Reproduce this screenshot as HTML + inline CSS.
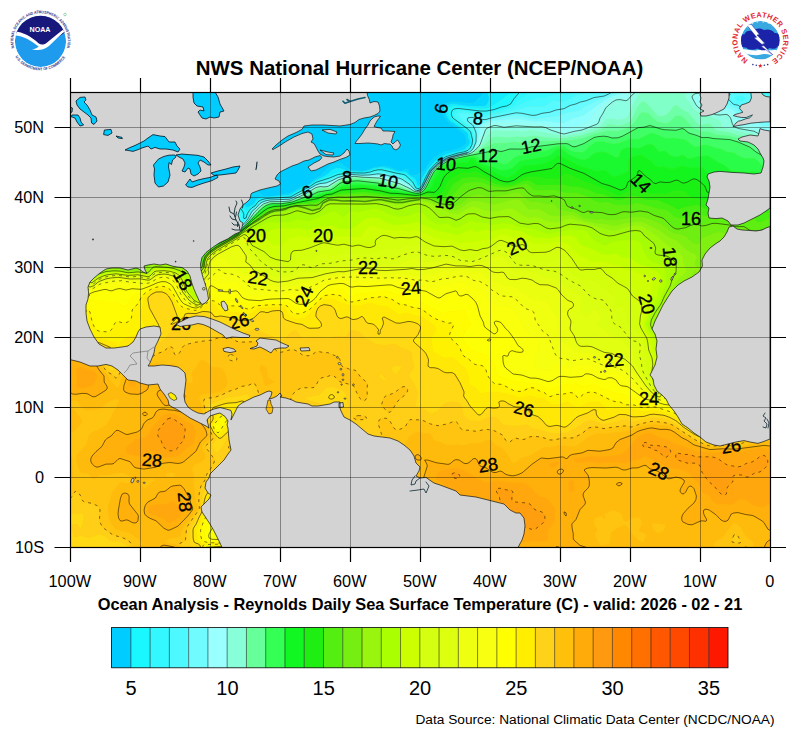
<!DOCTYPE html>
<html><head><meta charset="utf-8"><title>NHC SST</title>
<style>html,body{margin:0;padding:0;background:#fff}svg{display:block}text{font-family:"Liberation Sans",sans-serif;fill:#000}</style></head>
<body>
<svg width="800" height="737" viewBox="0 0 800 737">
<rect width="800" height="737" fill="#fff"/>
<defs><clipPath id="mc"><rect x="70" y="92" width="700" height="455"/></clipPath></defs>
<g clip-path="url(#mc)">
<rect x="70" y="92" width="700" height="455" fill="#ffc00c"/>
<path d="M68.0 88.0L439.4 88.0L439.1 92.0L440.0 92.6L450.0 93.2L458.0 92.2L458.8 88.0L484.2 88.0L483.5 92.0L481.5 96.0L475.2 102.0L472.0 103.8L454.0 101.9L444.0 103.5L440.3 106.0L440.4 110.0L446.0 120.0L464.7 134.0L467.1 142.0L465.8 144.0L462.0 147.4L453.6 150.0L444.0 152.0L433.7 158.0L430.0 161.4L424.9 170.0L422.0 172.5L416.0 175.0L412.0 175.5L409.2 174.0L408.0 169.2L406.0 169.1L402.0 171.0L398.0 170.9L390.0 167.3L384.0 165.9L374.0 167.4L367.3 170.0L362.0 171.1L352.0 170.3L349.9 170.0L342.0 164.1L338.0 162.8L334.0 163.9L330.0 166.1L320.4 176.0L314.0 179.2L310.0 183.9L302.0 186.5L290.0 193.3L284.0 193.9L275.6 196.0L268.0 196.6L262.9 196.0L256.0 190.0L254.0 189.2L250.0 189.8L244.0 193.0L242.0 193.3L240.0 192.0L229.1 176.0L214.0 150.5L212.0 148.7L206.0 147.2L200.0 143.6L198.0 143.4L194.0 145.1L192.0 145.1L188.0 135.7L186.0 135.4L181.1 140.0L176.3 148.0L156.0 176.7L150.1 176.0L148.0 174.6L144.6 174.0L142.0 172.3L140.1 172.0L138.0 170.5L128.4 168.0L124.0 164.4L114.6 160.0L110.0 156.4L92.7 148.0L86.0 143.2L76.0 138.2L72.0 134.9L66.0 132.5L66.0 88.0Z" fill="#00ccff" stroke="#00ccff" stroke-width="0.6" fill-rule="evenodd"/>
<path d="M440.0 88.0L443.9 88.0L444.3 90.0L448.0 90.6L454.0 90.1L455.1 88.0L458.8 88.0L458.8 90.0L458.2 92.0L456.0 92.9L442.0 92.9L439.1 92.0L439.4 88.0ZM486.0 88.0L487.0 88.0L487.0 92.0L489.1 96.0L489.1 100.0L487.5 104.0L485.6 106.0L484.0 106.5L468.0 106.3L452.0 104.1L445.4 106.0L444.2 108.0L444.4 110.0L447.8 118.0L450.0 120.4L466.9 132.0L468.2 134.0L468.6 138.0L470.0 140.6L469.7 144.0L464.0 150.0L446.0 154.5L436.0 160.4L428.8 168.0L422.4 178.0L420.0 185.1L418.5 186.0L417.8 186.0L415.7 180.0L413.9 178.0L410.0 176.1L406.0 171.9L398.0 171.8L390.0 168.9L382.0 167.3L374.0 168.6L368.0 170.9L362.0 172.1L348.0 171.0L340.0 168.6L336.0 168.6L332.0 170.3L325.4 176.0L316.0 180.3L310.0 184.8L296.0 191.6L290.0 195.3L260.0 197.8L256.3 200.0L254.0 204.1L248.0 207.5L246.0 207.1L244.0 204.4L240.9 198.0L226.1 176.0L212.8 154.0L212.0 153.2L198.0 147.9L190.0 151.7L188.0 149.9L186.0 139.8L184.0 139.2L182.0 140.5L177.2 148.0L159.7 172.0L158.0 175.2L156.0 177.5L154.0 177.4L144.0 174.1L142.0 172.6L138.0 171.1L127.7 168.0L124.0 164.8L113.8 160.0L110.0 156.8L91.9 148.0L88.0 144.8L78.2 140.0L70.0 134.5L66.0 133.0L66.0 132.5L68.0 133.1L68.9 134.0L72.0 134.9L76.0 138.2L86.0 143.2L92.7 148.0L108.0 155.3L114.6 160.0L124.0 164.4L128.4 168.0L138.0 170.5L144.6 174.0L154.0 176.7L156.0 176.7L158.0 174.6L158.8 172.0L162.5 168.0L163.1 166.0L176.3 148.0L181.1 140.0L186.0 135.4L188.0 135.7L192.0 145.1L194.0 145.1L198.0 143.4L200.0 143.6L206.0 147.2L212.0 148.7L214.0 150.5L229.1 176.0L240.0 192.0L242.0 193.3L244.0 193.0L250.0 189.8L254.0 189.2L256.0 190.0L262.9 196.0L268.0 196.6L275.6 196.0L284.0 193.9L290.0 193.3L302.0 186.5L310.0 183.9L314.0 179.2L320.4 176.0L330.0 166.1L334.0 163.9L338.0 162.8L342.0 164.1L349.9 170.0L352.0 170.3L362.0 171.1L367.3 170.0L374.0 167.4L384.0 165.9L390.0 167.3L398.0 170.9L402.0 171.0L406.0 169.1L408.0 169.2L409.2 174.0L412.0 175.5L416.0 175.0L422.0 172.5L424.9 170.0L430.0 161.4L433.7 158.0L444.0 152.0L453.6 150.0L462.0 147.4L465.8 144.0L467.1 142.0L464.7 134.0L446.0 120.0L440.4 110.0L440.3 106.0L444.0 103.5L454.0 101.9L472.0 103.8L475.2 102.0L481.5 96.0L483.5 92.0L484.2 88.0ZM492.0 88.0L502.3 88.0L500.0 91.7L496.0 93.6L494.0 93.7L491.4 92.0L490.5 88.0Z" fill="#06d7ff" stroke="#06d7ff" stroke-width="0.6" fill-rule="evenodd"/>
<path d="M444.0 88.0L455.1 88.0L454.4 90.0L448.0 90.6L444.3 90.0L443.9 88.0ZM488.0 88.0L490.5 88.0L491.4 92.0L494.0 93.7L496.0 93.6L500.0 91.7L502.3 88.0L505.6 88.0L506.0 89.5L509.8 92.0L509.4 94.0L494.0 105.2L486.0 109.1L468.0 108.2L456.0 106.4L452.0 106.5L448.5 108.0L447.7 110.0L448.0 112.0L450.5 118.0L469.1 132.0L471.5 140.0L471.6 142.0L470.3 146.0L466.0 150.4L448.0 155.2L444.0 156.9L436.0 162.2L428.8 170.0L422.0 184.0L420.0 186.9L418.0 188.0L416.0 186.3L415.3 184.0L412.5 180.0L406.0 174.1L404.0 173.1L398.0 172.6L384.0 168.9L378.0 168.7L367.6 172.0L362.0 172.7L352.0 172.2L338.0 172.8L316.0 181.4L310.0 185.6L290.0 196.4L270.0 197.7L260.0 199.3L258.0 200.6L254.0 205.7L252.0 206.6L246.0 211.7L233.0 192.0L218.9 168.0L212.0 158.5L198.0 152.9L194.0 153.4L188.0 156.4L186.0 156.1L184.0 153.2L182.0 144.7L180.0 145.8L171.5 156.0L158.0 175.8L156.0 178.1L154.0 178.0L144.0 174.2L142.0 172.8L127.4 168.0L124.0 165.2L113.4 160.0L106.0 154.9L91.5 148.0L88.0 145.2L77.7 140.0L70.0 134.8L66.0 133.6L66.0 133.0L70.0 134.5L74.0 136.7L78.2 140.0L88.0 144.8L91.9 148.0L106.0 154.6L110.0 156.8L113.8 160.0L124.0 164.8L127.7 168.0L138.0 171.1L142.0 172.6L144.0 174.1L154.0 177.4L156.0 177.5L158.0 175.2L159.7 172.0L177.2 148.0L182.0 140.5L184.0 139.2L186.0 139.8L188.0 149.9L190.0 151.7L198.0 147.9L212.0 153.2L212.8 154.0L226.1 176.0L240.9 198.0L244.0 204.4L246.0 207.1L248.0 207.5L254.0 204.1L256.3 200.0L260.0 197.8L290.0 195.3L296.0 191.6L310.0 184.8L316.0 180.3L325.4 176.0L332.0 170.3L336.0 168.6L340.0 168.6L348.0 171.0L362.0 172.1L368.0 170.9L374.0 168.6L382.0 167.3L390.0 168.9L398.0 171.8L406.0 171.9L410.0 176.1L413.9 178.0L415.7 180.0L417.8 186.0L418.5 186.0L420.0 185.1L422.4 178.0L428.8 168.0L436.0 160.4L446.0 154.5L464.0 150.0L469.7 144.0L470.0 140.6L468.6 138.0L468.2 134.0L466.9 132.0L450.0 120.4L447.8 118.0L444.4 110.0L444.2 108.0L445.4 106.0L452.0 104.1L468.0 106.3L484.0 106.5L485.6 106.0L487.5 104.0L489.1 100.0L489.1 96.0L487.0 92.0L487.0 88.0Z" fill="#14edff" stroke="#14edff" stroke-width="0.6" fill-rule="evenodd"/>
<path d="M506.0 88.0L522.5 88.0L521.5 90.0L514.0 98.7L510.6 104.0L508.0 105.5L494.0 109.6L486.0 111.1L458.0 108.4L454.0 109.0L452.5 110.0L451.3 114.0L452.8 118.0L468.0 129.2L470.6 132.0L472.6 140.0L472.0 144.5L470.3 148.0L468.0 150.3L464.0 151.9L458.0 153.0L446.0 156.7L436.0 163.0L429.6 170.0L422.0 185.4L420.0 188.0L418.0 188.6L415.9 188.0L412.7 182.0L404.0 174.5L382.0 169.8L378.0 169.8L364.0 173.1L350.0 172.7L338.0 174.5L329.5 178.0L316.0 182.3L310.6 186.0L290.0 197.1L268.0 198.4L260.0 200.4L258.0 201.9L254.9 206.0L249.7 210.0L247.2 214.0L246.1 218.0L244.0 218.6L243.8 214.0L243.0 212.0L230.0 192.6L226.0 184.0L216.0 168.5L212.0 164.0L208.0 163.3L198.0 157.3L194.0 156.7L186.0 161.0L184.0 161.0L182.0 159.4L178.0 152.2L176.0 152.6L172.0 156.4L156.7 178.0L154.0 178.2L142.0 173.1L127.0 168.0L120.0 163.2L113.1 160.0L106.0 155.2L91.2 148.0L70.0 135.0L66.0 134.0L66.0 133.6L70.0 134.8L77.7 140.0L88.0 145.2L91.5 148.0L106.0 154.9L113.4 160.0L124.0 165.2L127.4 168.0L142.0 172.8L144.0 174.2L154.0 178.0L156.0 178.1L158.0 175.8L171.5 156.0L180.0 145.8L182.0 144.7L184.0 153.2L186.0 156.1L188.0 156.4L194.0 153.4L198.0 152.9L212.0 158.5L218.9 168.0L233.0 192.0L246.0 211.7L252.0 206.6L254.0 205.7L258.0 200.6L260.0 199.3L270.0 197.7L290.0 196.4L310.0 185.6L316.0 181.4L338.0 172.8L352.0 172.2L362.0 172.7L367.6 172.0L378.0 168.7L384.0 168.9L398.0 172.6L404.0 173.1L406.0 174.1L412.5 180.0L415.3 184.0L416.0 186.3L418.0 188.0L420.0 186.9L422.0 184.0L428.8 170.0L436.0 162.2L444.0 156.9L448.0 155.2L466.0 150.4L470.3 146.0L471.6 142.0L471.5 140.0L469.1 132.0L450.5 118.0L448.0 112.0L447.7 110.0L448.5 108.0L454.0 106.3L482.0 109.2L488.0 108.4L495.9 104.0L509.4 94.0L509.8 92.0L506.0 89.5L505.6 88.0Z" fill="#20f8ff" stroke="#20f8ff" stroke-width="0.6" fill-rule="evenodd"/>
<path d="M522.0 89.1L522.5 88.0L526.9 88.0L528.6 94.0L518.0 101.0L512.9 106.0L508.5 108.0L496.0 111.5L486.0 113.1L478.0 112.5L462.0 110.0L458.0 110.2L454.9 112.0L453.9 114.0L453.9 116.0L455.1 118.0L470.0 129.4L471.8 132.0L473.6 140.0L472.3 146.0L469.5 150.0L466.2 152.0L460.0 153.1L448.0 156.5L440.0 160.9L436.0 163.8L428.9 172.0L422.2 186.0L420.0 188.5L418.0 189.2L416.0 188.8L412.0 182.7L404.0 175.9L382.0 170.9L378.0 170.8L370.0 172.9L362.0 173.9L352.0 173.1L340.0 175.0L326.6 180.0L316.0 183.0L304.7 190.0L290.0 197.8L268.0 198.9L260.0 201.2L256.0 206.0L250.7 210.0L249.2 212.0L246.8 218.0L242.0 222.5L241.8 216.0L240.3 212.0L227.7 194.0L223.2 184.0L216.0 173.4L212.0 169.5L208.0 169.2L196.0 160.9L194.0 160.1L192.0 160.4L186.0 164.7L182.0 166.0L179.4 164.0L176.0 158.0L174.0 156.9L172.0 158.0L157.2 178.0L156.0 178.7L154.0 178.4L126.7 168.0L122.0 164.6L112.7 160.0L106.0 155.5L90.8 148.0L70.0 135.3L66.0 134.2L70.0 135.0L91.2 148.0L106.0 155.2L113.1 160.0L120.0 163.2L127.0 168.0L142.0 173.1L154.0 178.2L156.7 178.0L172.0 156.4L176.0 152.6L178.0 152.2L182.0 159.4L184.0 161.0L186.0 161.0L194.0 156.7L198.0 157.3L208.0 163.3L212.0 164.0L216.0 168.5L226.0 184.0L230.0 192.6L243.0 212.0L243.8 214.0L244.0 218.6L246.1 218.0L247.2 214.0L249.7 210.0L254.9 206.0L258.0 201.9L260.0 200.4L268.0 198.4L290.0 197.1L310.6 186.0L316.0 182.3L329.5 178.0L338.0 174.5L350.0 172.7L364.0 173.1L378.0 169.8L382.0 169.8L404.0 174.5L412.7 182.0L415.9 188.0L418.0 188.6L420.0 188.0L422.0 185.4L429.6 170.0L436.0 163.0L446.0 156.7L458.0 153.0L464.0 151.9L468.0 150.3L470.3 148.0L472.0 144.5L472.6 140.0L470.6 132.0L468.0 129.2L452.8 118.0L451.3 114.0L452.5 110.0L454.0 109.0L458.0 108.4L486.0 111.1L506.6 106.0L510.6 104.0L514.0 98.7L521.5 90.0Z" fill="#2df8ff" stroke="#2df8ff" stroke-width="0.6" fill-rule="evenodd"/>
<path d="M528.0 88.0L571.5 88.0L572.1 92.0L570.3 94.0L568.0 94.8L556.0 94.8L552.0 95.6L544.0 98.6L538.0 98.1L532.0 100.6L524.0 102.7L512.0 108.9L490.0 114.6L484.0 115.2L462.0 111.4L458.0 112.5L456.5 114.0L456.3 116.0L457.7 118.0L470.0 127.9L473.0 132.0L474.4 140.0L473.7 144.0L472.1 148.0L467.6 152.0L448.0 157.0L438.0 162.7L432.5 168.0L429.4 172.0L422.0 187.1L418.0 189.8L416.0 189.4L414.3 188.0L412.0 184.0L402.0 176.4L382.0 172.1L378.0 171.8L370.0 173.6L362.0 174.4L352.0 173.6L342.0 175.3L336.0 176.9L328.0 180.5L316.0 183.7L305.8 190.0L290.0 198.3L270.0 199.1L262.0 201.0L260.0 202.1L256.0 206.7L251.5 210.0L247.5 218.0L240.0 226.5L239.0 226.0L239.9 218.0L238.5 214.0L226.0 195.9L221.1 186.0L214.0 175.7L212.0 174.4L208.0 174.5L206.0 173.6L194.0 165.3L192.0 164.6L190.0 165.1L182.0 170.8L180.0 171.4L178.0 170.2L174.0 163.5L172.0 161.8L170.0 162.8L166.0 166.8L157.8 178.0L156.0 179.0L154.0 178.6L140.0 172.8L130.0 169.9L122.0 164.7L112.4 160.0L108.0 156.8L90.5 148.0L86.0 144.7L76.7 140.0L72.0 136.6L66.0 134.3L70.0 135.3L90.8 148.0L106.0 155.5L112.7 160.0L122.0 164.6L126.7 168.0L154.0 178.4L156.0 178.7L157.2 178.0L172.0 158.0L174.0 156.9L176.0 158.0L179.4 164.0L182.0 166.0L186.0 164.7L192.0 160.4L194.0 160.1L196.0 160.9L208.0 169.2L212.0 169.5L216.0 173.4L223.2 184.0L227.7 194.0L240.3 212.0L241.8 216.0L242.0 222.5L246.8 218.0L249.2 212.0L250.7 210.0L256.0 206.0L260.0 201.2L268.0 198.9L290.0 197.8L304.7 190.0L316.0 183.0L326.6 180.0L340.0 175.0L352.0 173.1L362.0 173.9L370.0 172.9L378.0 170.8L382.0 170.9L404.0 175.9L412.0 182.7L416.0 188.8L418.0 189.2L420.0 188.5L422.2 186.0L428.9 172.0L436.0 163.8L440.0 160.9L448.0 156.5L460.0 153.1L466.2 152.0L469.5 150.0L472.3 146.0L473.6 140.0L471.8 132.0L470.0 129.4L455.1 118.0L453.9 116.0L453.9 114.0L454.9 112.0L458.0 110.2L462.0 110.0L478.0 112.5L486.0 113.1L496.0 111.5L508.5 108.0L512.9 106.0L518.0 101.0L528.6 94.0L526.9 88.0ZM772.0 99.9L774.0 98.3L774.0 108.2L770.7 108.0L770.0 107.0L770.0 104.8L771.9 100.0Z" fill="#3af8ff" stroke="#3af8ff" stroke-width="0.6" fill-rule="evenodd"/>
<path d="M572.0 88.0L574.4 88.0L576.0 90.5L578.0 91.1L581.5 90.0L581.5 88.0L584.9 88.0L587.3 92.0L578.0 95.0L570.0 99.5L564.0 101.6L560.0 101.9L554.0 100.8L552.0 101.2L546.0 106.0L544.0 106.8L528.0 106.8L520.0 109.4L486.0 117.3L484.0 117.4L469.5 114.0L462.0 113.4L460.1 114.0L459.3 116.0L460.7 118.0L471.9 128.0L474.2 132.0L475.1 136.0L475.1 142.0L472.8 148.0L468.0 152.3L448.0 157.4L438.0 163.2L431.2 170.0L422.0 187.8L418.8 190.0L415.9 190.0L413.5 188.0L410.7 184.0L402.0 177.8L382.0 173.2L378.0 172.8L370.0 174.3L362.0 174.8L352.0 174.1L344.0 175.4L338.0 176.9L326.0 182.0L318.0 183.4L303.3 192.0L290.0 198.8L270.0 199.5L262.0 201.6L252.0 210.4L248.0 218.2L240.0 227.7L238.0 228.1L237.2 226.0L237.6 220.0L235.3 214.0L223.1 196.0L218.8 188.0L214.0 181.2L212.0 179.6L208.0 179.7L206.0 179.0L198.0 173.1L190.0 169.8L186.0 171.5L178.0 178.2L176.0 177.9L170.7 168.0L168.0 167.1L162.0 172.7L158.0 178.4L156.0 179.3L154.0 178.8L146.1 176.0L140.0 172.9L130.0 170.1L122.0 164.9L112.0 160.0L108.0 156.9L90.1 148.0L86.0 144.9L76.4 140.0L72.0 136.8L66.0 134.4L68.0 134.6L72.0 136.6L76.7 140.0L86.0 144.7L90.5 148.0L108.0 156.8L112.4 160.0L122.0 164.7L130.0 169.9L140.0 172.8L154.0 178.6L156.0 179.0L157.8 178.0L166.0 166.8L170.0 162.8L172.0 161.8L174.0 163.5L178.0 170.2L180.0 171.4L182.0 170.8L190.0 165.1L192.0 164.6L194.0 165.3L206.0 173.6L208.0 174.5L212.0 174.4L214.0 175.7L221.1 186.0L226.0 195.9L238.5 214.0L239.9 218.0L239.0 226.0L240.0 226.5L247.5 218.0L251.5 210.0L256.0 206.7L260.0 202.1L262.0 201.0L270.0 199.1L290.0 198.3L305.8 190.0L316.0 183.7L328.0 180.5L336.0 176.9L342.0 175.3L352.0 173.6L362.0 174.4L370.0 173.6L378.0 171.8L382.0 172.1L402.0 176.4L412.0 184.0L414.3 188.0L416.0 189.4L418.0 189.8L420.0 189.0L422.0 187.1L430.8 170.0L438.0 162.7L448.0 157.0L467.6 152.0L472.1 148.0L473.7 144.0L474.4 140.0L473.0 132.0L470.0 127.9L457.7 118.0L456.3 116.0L456.5 114.0L458.0 112.5L462.0 111.4L484.0 115.2L496.0 113.4L514.4 108.0L524.0 102.7L532.0 100.6L538.0 98.1L544.0 98.6L552.0 95.6L556.0 94.8L568.0 94.8L570.3 94.0L572.1 92.0L571.5 88.0ZM728.0 88.0L746.0 88.0L745.6 90.0L742.0 92.4L740.0 93.0L729.3 90.0L727.9 88.0ZM756.0 88.0L774.0 88.0L774.0 98.3L772.0 99.9L769.8 106.0L770.7 108.0L774.0 108.2L774.0 110.1L769.6 110.0L766.6 108.0L766.0 103.4L764.0 99.8L758.0 100.1L751.2 98.0L757.7 94.0L755.4 90.0L755.2 88.0ZM738.0 95.2L742.0 95.5L747.0 98.0L744.9 100.0L742.0 101.1L738.0 100.9L736.0 100.3L734.3 98.0L736.0 96.0Z" fill="#46f9ff" stroke="#46f9ff" stroke-width="0.6" fill-rule="evenodd"/>
<path d="M576.0 88.0L581.5 88.0L581.5 90.0L580.0 90.9L576.0 90.5L574.4 88.0ZM586.0 88.0L619.1 88.0L618.0 89.5L614.0 90.7L604.3 96.0L594.0 97.6L586.0 100.8L570.0 105.5L564.0 108.7L556.0 110.0L550.0 112.2L542.0 113.3L536.0 115.2L532.0 115.4L522.0 113.3L516.0 112.8L486.0 119.5L472.0 117.4L468.0 117.8L467.3 120.0L468.5 122.0L473.4 126.0L476.2 134.0L476.0 142.0L473.5 148.0L469.5 152.0L448.0 157.8L438.0 163.7L431.7 170.0L422.3 188.0L420.0 190.0L418.0 190.6L415.0 190.0L410.0 184.6L400.0 178.4L382.0 174.3L378.0 173.8L362.0 175.2L352.0 174.5L346.0 175.5L338.0 177.5L326.0 182.9L320.0 183.6L316.0 184.9L304.0 192.2L290.0 199.2L270.0 200.0L262.5 202.0L260.0 203.5L252.0 211.3L248.0 218.8L240.4 228.0L238.0 228.9L235.9 228.0L234.7 220.0L232.1 214.0L221.3 198.0L216.7 190.0L214.0 186.8L212.0 185.5L208.0 184.6L196.0 178.3L188.0 175.3L184.0 177.2L178.0 182.6L176.0 183.8L174.0 184.0L170.0 181.1L167.9 174.0L166.0 171.8L164.0 172.3L162.0 173.9L158.0 179.2L156.0 179.6L154.0 179.0L150.0 177.1L146.0 176.1L140.0 173.1L130.0 170.3L122.0 165.1L112.0 160.2L108.0 157.1L90.0 148.1L86.0 145.0L76.0 140.0L72.0 136.9L66.0 134.6L68.0 134.8L72.0 136.8L76.4 140.0L86.0 144.9L90.1 148.0L108.0 156.9L112.0 160.0L122.0 164.9L130.0 170.1L140.0 172.9L146.1 176.0L154.0 178.8L156.0 179.3L158.0 178.4L162.0 172.7L168.0 167.1L170.7 168.0L176.0 177.9L178.0 178.2L186.0 171.5L190.0 169.8L198.0 173.1L206.0 179.0L208.0 179.7L212.0 179.6L214.0 181.2L218.8 188.0L223.1 196.0L235.3 214.0L237.6 220.0L237.2 226.0L238.0 228.1L240.0 227.7L248.0 218.2L252.0 210.4L262.0 201.6L270.0 199.5L290.0 198.8L303.3 192.0L318.0 183.4L326.0 182.0L338.0 176.9L344.0 175.4L352.0 174.1L362.0 174.8L370.0 174.3L378.0 172.8L382.0 173.2L402.0 177.8L410.7 184.0L413.5 188.0L415.9 190.0L418.8 190.0L422.0 187.8L431.2 170.0L438.0 163.2L448.0 157.4L468.0 152.3L472.8 148.0L475.1 142.0L475.1 136.0L474.2 132.0L471.9 128.0L460.7 118.0L459.3 116.0L460.1 114.0L462.0 113.4L469.5 114.0L484.0 117.4L486.0 117.3L520.0 109.4L528.0 106.8L544.0 106.8L546.0 106.0L552.0 101.2L554.0 100.8L560.0 101.9L564.0 101.6L570.0 99.5L578.0 95.0L587.3 92.0L584.9 88.0ZM710.0 88.0L727.9 88.0L729.3 90.0L740.0 93.0L742.0 92.4L745.6 90.0L746.0 88.0L755.2 88.0L755.4 90.0L757.7 94.0L751.2 98.0L758.0 100.1L764.0 99.8L766.0 103.4L766.6 108.0L769.6 110.0L774.0 110.1L774.0 111.2L766.0 111.2L758.0 112.4L746.0 110.6L744.0 109.9L738.0 105.2L733.1 104.0L729.2 100.0L727.6 98.0L730.2 94.0L722.0 91.4L710.0 91.3L709.2 88.0ZM736.0 96.0L734.3 98.0L736.0 100.3L738.0 100.9L742.0 101.1L744.9 100.0L747.0 98.0L742.0 95.5L738.0 95.2Z" fill="#56faff" stroke="#56faff" stroke-width="0.6" fill-rule="evenodd"/>
<path d="M618.0 89.5L619.1 88.0L621.6 88.0L619.4 92.0L596.0 101.6L584.0 107.5L580.0 110.5L576.0 111.7L570.0 112.4L558.0 116.4L536.0 119.3L516.0 116.0L494.0 119.0L486.0 121.4L480.0 122.2L478.0 125.0L477.0 128.0L477.7 134.0L477.0 142.0L475.4 146.0L472.7 150.0L468.0 153.1L448.0 158.2L438.0 164.1L430.7 172.0L422.7 188.0L420.0 190.4L418.0 191.0L414.1 190.0L410.0 185.6L400.0 179.7L380.0 174.9L362.0 175.7L352.0 174.9L348.0 175.5L338.2 178.0L326.0 183.8L320.0 184.3L316.0 185.5L304.0 192.8L290.0 199.6L270.0 200.4L263.8 202.0L260.0 204.3L252.2 212.0L249.1 218.0L240.9 228.0L238.0 229.8L236.0 230.1L234.0 228.0L230.0 215.9L214.0 191.5L208.0 190.0L204.0 187.3L198.0 184.5L186.0 180.3L184.0 181.0L174.0 188.7L172.0 189.3L170.0 188.6L166.3 184.0L164.0 177.5L162.0 176.6L158.0 179.9L156.0 179.9L150.0 177.2L146.0 176.3L140.0 173.2L130.0 170.4L122.0 165.3L112.0 160.3L108.0 157.3L90.0 148.3L86.0 145.2L76.0 140.1L72.0 137.1L66.0 134.7L68.0 134.9L72.0 136.9L76.0 140.0L86.0 145.0L90.0 148.1L108.0 157.1L112.0 160.2L122.0 165.1L130.0 170.3L140.0 173.1L146.0 176.1L150.0 177.1L154.0 179.0L156.0 179.6L158.0 179.2L162.0 173.9L164.0 172.3L166.0 171.8L167.9 174.0L170.0 181.1L174.0 184.0L176.0 183.8L178.0 182.6L184.0 177.2L188.0 175.3L196.0 178.3L208.0 184.6L212.0 185.5L214.0 186.8L216.7 190.0L221.3 198.0L232.1 214.0L234.7 220.0L235.9 228.0L238.0 228.9L240.4 228.0L248.0 218.8L252.0 211.3L260.0 203.5L262.5 202.0L270.0 200.0L290.0 199.2L304.0 192.2L316.0 184.9L320.0 183.6L326.0 182.9L338.0 177.5L346.0 175.5L352.0 174.5L362.0 175.2L378.0 173.8L382.0 174.3L400.0 178.4L410.0 184.6L415.0 190.0L418.0 190.6L420.0 190.0L422.3 188.0L431.7 170.0L438.0 163.7L448.0 157.8L469.5 152.0L473.5 148.0L476.0 142.0L476.2 134.0L473.4 126.0L468.5 122.0L467.3 120.0L468.0 117.8L472.0 117.4L486.0 119.5L516.0 112.8L522.0 113.3L532.0 115.4L536.0 115.2L542.0 113.3L550.0 112.2L556.0 110.0L564.0 108.7L570.0 105.5L586.0 100.8L594.0 97.6L604.3 96.0L614.0 90.7L617.0 90.0ZM708.0 88.0L709.2 88.0L710.0 91.3L722.0 91.4L730.2 94.0L727.6 98.0L728.0 98.7L733.1 104.0L738.0 105.2L744.3 110.0L758.0 112.4L766.0 111.2L774.0 111.2L774.0 112.5L768.0 113.2L767.0 114.0L766.0 117.9L764.0 119.4L746.0 115.1L740.0 112.1L736.0 108.2L732.0 107.0L728.0 104.5L724.0 103.4L721.7 100.0L721.3 98.0L722.7 96.0L722.7 94.0L710.0 93.2L708.6 92.0L707.9 88.0Z" fill="#67faff" stroke="#67faff" stroke-width="0.6" fill-rule="evenodd"/>
<path d="M622.0 88.0L623.0 88.0L622.3 92.0L620.0 94.0L612.0 96.8L602.0 102.3L584.0 115.5L572.0 119.1L564.0 123.2L560.0 123.3L546.0 121.4L534.0 121.8L518.0 119.3L494.0 120.9L482.0 124.4L479.8 128.0L479.5 134.0L477.5 144.0L473.5 150.0L471.2 152.0L468.0 153.5L448.0 158.6L438.7 164.0L431.1 172.0L423.1 188.0L420.0 190.7L418.0 191.3L414.0 190.4L410.0 186.7L400.0 181.0L380.0 176.0L362.0 176.1L354.0 175.3L348.0 176.0L338.0 178.8L326.0 184.8L320.0 185.0L316.2 186.0L306.0 192.3L290.0 200.1L270.0 200.9L264.0 202.5L260.0 205.1L253.0 212.0L249.5 218.0L241.5 228.0L238.0 230.3L236.0 230.8L232.8 230.0L226.9 216.0L218.1 204.0L214.0 196.8L212.8 196.0L208.0 195.4L202.0 191.3L195.6 188.0L186.0 184.7L182.0 185.8L172.0 193.1L170.0 193.5L168.0 192.9L164.7 190.0L160.0 181.6L158.0 181.5L150.0 177.4L146.0 176.4L140.0 173.4L130.0 170.6L122.0 165.4L112.0 160.5L108.0 157.4L90.0 148.4L86.0 145.3L76.0 140.3L72.0 137.2L66.0 134.8L68.0 135.1L72.0 137.1L76.0 140.1L86.0 145.2L90.0 148.3L108.0 157.3L112.0 160.3L122.0 165.3L130.0 170.4L140.0 173.2L146.0 176.3L150.0 177.2L156.0 179.9L158.0 179.9L162.0 176.6L164.0 177.5L166.3 184.0L170.0 188.6L172.0 189.3L174.0 188.7L184.0 181.0L186.0 180.3L198.0 184.5L204.0 187.3L208.0 190.0L214.0 191.5L230.0 215.9L234.0 228.0L236.0 230.1L238.0 229.8L240.9 228.0L249.1 218.0L252.2 212.0L260.0 204.3L263.8 202.0L270.0 200.4L290.0 199.6L304.0 192.8L316.0 185.5L320.0 184.3L326.0 183.8L338.2 178.0L348.0 175.5L352.0 174.9L362.0 175.7L380.0 174.9L400.0 179.7L410.0 185.6L414.1 190.0L418.0 191.0L420.0 190.4L422.7 188.0L430.7 172.0L438.0 164.1L448.0 158.2L468.0 153.1L472.7 150.0L475.4 146.0L477.0 142.0L477.7 134.0L477.0 128.0L478.0 125.0L480.0 122.2L486.0 121.4L494.0 119.0L516.0 116.0L536.0 119.3L558.0 116.4L570.0 112.4L576.0 111.7L580.0 110.5L584.0 107.5L596.0 101.6L619.4 92.0L621.6 88.0ZM707.9 90.0L708.6 92.0L710.0 93.2L722.7 94.0L722.7 96.0L721.3 98.0L721.7 100.0L724.0 103.4L728.0 104.5L732.0 107.0L736.0 108.2L740.0 112.1L746.0 115.1L764.0 119.4L766.0 117.9L767.0 114.0L768.0 113.2L774.0 112.5L774.0 138.5L771.1 138.0L770.3 136.0L769.7 128.0L768.0 125.7L764.0 127.0L762.0 126.4L756.0 122.5L740.0 116.2L732.9 110.0L728.0 108.2L722.0 108.2L720.0 107.1L716.0 102.6L709.8 98.0L707.3 92.0L707.1 88.0L707.9 88.0Z" fill="#7afcff" stroke="#7afcff" stroke-width="0.6" fill-rule="evenodd"/>
<path d="M624.0 88.0L624.9 88.0L625.2 90.0L627.1 92.0L624.0 94.4L612.0 98.8L604.5 104.0L594.3 114.0L590.3 120.0L588.1 122.0L579.7 126.0L572.0 127.4L566.0 130.0L562.0 129.6L544.0 124.0L534.0 124.2L520.0 122.5L504.0 123.8L494.0 122.9L484.3 126.0L482.6 128.0L478.8 144.0L474.3 150.0L472.0 152.0L468.0 153.9L458.0 155.9L448.0 159.0L439.3 164.0L432.0 171.3L423.5 188.0L420.0 191.1L418.0 191.7L414.0 190.8L410.0 187.7L400.0 182.4L380.0 177.0L362.0 176.7L354.0 175.8L350.0 176.1L338.0 179.4L328.0 185.3L317.9 186.0L306.0 193.0L290.0 200.5L270.0 201.3L264.0 203.1L260.0 205.9L253.9 212.0L242.0 228.0L238.0 230.7L234.0 232.0L232.0 231.7L230.2 230.0L225.1 218.0L214.0 203.4L212.0 202.3L208.0 201.8L200.0 194.6L189.9 190.0L184.0 188.9L170.0 196.9L166.0 196.6L162.3 194.0L157.0 188.0L156.3 186.0L156.9 182.0L155.2 180.0L140.0 173.5L130.0 170.8L122.0 165.6L112.0 160.7L108.0 157.6L90.0 148.6L86.0 145.5L76.0 140.5L72.0 137.4L66.0 135.0L72.0 137.2L76.0 140.3L86.0 145.3L90.0 148.4L108.0 157.4L112.0 160.5L122.0 165.4L130.0 170.6L140.0 173.4L146.0 176.4L150.0 177.4L158.0 181.5L160.0 181.6L164.7 190.0L168.0 192.9L170.0 193.5L172.0 193.1L182.0 185.8L186.0 184.7L195.6 188.0L202.0 191.3L208.0 195.4L212.8 196.0L214.0 196.8L218.1 204.0L226.9 216.0L232.8 230.0L236.0 230.8L238.0 230.3L241.5 228.0L249.5 218.0L253.0 212.0L260.0 205.1L264.0 202.5L270.0 200.9L290.0 200.1L306.0 192.3L316.2 186.0L320.0 185.0L326.0 184.8L338.0 178.8L348.0 176.0L354.0 175.3L362.0 176.1L380.0 176.0L400.0 181.0L410.0 186.7L414.0 190.4L418.0 191.3L420.0 190.7L423.1 188.0L431.1 172.0L438.7 164.0L448.0 158.6L468.0 153.5L471.2 152.0L473.5 150.0L477.5 144.0L479.5 134.0L479.8 128.0L482.0 124.4L494.0 120.9L518.0 119.3L534.0 121.8L546.0 121.4L560.0 123.3L564.0 123.2L572.0 119.1L584.0 115.5L602.0 102.3L612.0 96.8L620.0 94.0L622.3 92.0L623.0 88.0ZM707.1 90.0L708.0 94.3L709.4 96.0L709.8 98.0L716.0 102.6L721.5 108.0L728.0 108.2L732.9 110.0L740.0 116.2L756.0 122.5L762.0 126.4L764.0 127.0L768.4 126.0L769.7 128.0L770.3 136.0L771.1 138.0L774.0 138.5L774.0 140.0L770.0 139.3L768.6 138.0L766.0 133.2L756.0 127.8L752.0 126.3L745.9 126.0L741.2 124.0L730.6 112.0L728.0 111.1L718.0 111.2L712.0 106.2L702.0 101.2L699.1 98.0L699.1 96.0L704.0 94.8L706.0 93.2L706.4 88.0L707.1 88.0Z" fill="#8ffeff" stroke="#8ffeff" stroke-width="0.6" fill-rule="evenodd"/>
<path d="M626.0 88.0L636.5 88.0L635.5 92.0L628.0 99.7L626.0 100.8L620.0 99.6L616.0 99.9L607.7 106.0L605.7 108.0L597.3 124.0L582.0 130.0L564.0 134.0L542.0 126.8L516.0 125.8L504.0 127.3L494.0 125.5L487.1 128.0L485.4 130.0L480.3 144.0L475.3 150.0L470.0 153.7L448.0 159.3L439.8 164.0L432.0 171.8L423.9 188.0L420.0 191.4L418.0 192.0L414.0 191.2L400.0 183.8L379.4 178.0L354.0 176.3L344.0 177.9L338.2 180.0L328.0 186.4L320.0 186.6L316.0 187.5L306.0 193.6L290.0 200.9L270.0 201.7L264.0 203.7L260.7 206.0L254.0 212.8L242.0 228.3L236.0 232.2L232.0 233.0L228.9 232.0L223.4 220.0L216.0 209.9L214.0 208.0L208.0 207.0L206.4 206.0L198.0 197.9L186.0 193.4L182.0 193.3L176.0 195.9L168.0 201.5L166.0 202.3L164.0 202.0L156.0 195.6L152.0 193.7L152.0 190.0L155.5 184.0L155.8 182.0L154.7 180.0L140.0 173.7L130.0 170.9L122.0 165.8L112.0 160.8L108.0 157.8L90.0 148.7L86.0 145.7L76.0 140.6L72.0 137.5L66.0 135.1L72.0 137.4L76.0 140.5L86.0 145.5L90.0 148.6L108.0 157.6L112.0 160.7L122.0 165.6L130.0 170.8L140.0 173.5L155.2 180.0L156.9 182.0L156.3 186.0L157.0 188.0L162.3 194.0L166.0 196.6L170.0 196.9L184.0 188.9L189.9 190.0L200.0 194.6L208.0 201.8L212.0 202.3L214.0 203.4L225.1 218.0L230.2 230.0L232.0 231.7L234.0 232.0L238.0 230.7L242.0 228.0L253.9 212.0L260.0 205.9L264.0 203.1L270.0 201.3L290.0 200.5L306.0 193.0L317.9 186.0L328.0 185.3L338.0 179.4L350.0 176.1L354.0 175.8L362.0 176.7L380.0 177.0L400.0 182.4L410.0 187.7L414.0 190.8L418.0 191.7L420.0 191.1L423.5 188.0L432.0 171.3L439.3 164.0L448.0 159.0L458.0 155.9L468.0 153.9L472.0 152.0L474.3 150.0L478.8 144.0L482.6 128.0L484.3 126.0L494.0 122.9L504.0 123.8L520.0 122.5L534.0 124.2L544.0 124.0L562.0 129.6L566.0 130.0L572.0 127.4L579.7 126.0L588.1 122.0L590.3 120.0L594.3 114.0L604.5 104.0L612.0 98.8L624.0 94.4L627.1 92.0L625.2 90.0L624.9 88.0ZM706.0 88.0L706.0 93.2L704.0 94.8L699.1 96.0L699.1 98.0L702.0 101.2L712.0 106.2L718.0 111.2L728.0 111.1L730.6 112.0L741.2 124.0L745.9 126.0L752.0 126.3L756.0 127.8L766.0 133.2L768.6 138.0L770.0 139.3L774.0 140.0L774.0 140.8L767.7 140.0L760.0 134.4L754.0 131.2L736.0 127.6L733.6 126.0L730.6 118.0L728.0 115.0L726.0 114.4L716.0 114.7L710.0 111.5L698.0 107.2L692.3 98.0L692.1 96.0L696.0 93.5L704.0 92.6L705.2 90.0L705.3 88.0Z" fill="#95fff5" stroke="#95fff5" stroke-width="0.6" fill-rule="evenodd"/>
<path d="M638.0 88.0L641.0 88.0L639.6 94.0L632.4 106.0L628.2 116.0L626.0 118.5L624.0 119.5L618.0 120.2L612.0 119.0L608.0 119.1L605.9 120.0L600.7 126.0L598.0 127.4L582.0 132.9L564.0 136.5L532.0 130.7L522.0 131.9L514.0 131.0L504.0 131.8L498.0 130.8L494.0 131.0L492.0 131.8L488.0 135.5L481.2 146.0L472.0 153.3L448.0 159.7L438.0 165.8L432.0 172.5L424.3 188.0L422.7 190.0L420.0 191.8L418.0 192.4L414.0 191.6L398.0 184.5L378.0 178.9L354.0 177.0L346.1 178.0L339.7 180.0L328.0 187.5L318.0 187.6L316.0 188.3L308.0 193.4L292.0 200.7L284.0 202.0L272.0 202.0L264.7 204.0L261.6 206.0L254.0 213.7L242.0 228.6L236.0 232.6L230.0 234.2L228.0 233.9L226.3 232.0L221.8 222.0L216.0 213.5L214.0 211.9L208.0 211.2L206.0 210.2L198.0 202.9L194.0 201.0L184.0 197.6L178.0 197.7L173.9 200.0L166.0 207.6L162.0 209.8L160.0 208.5L154.9 202.0L147.9 200.0L148.0 195.4L154.9 184.0L155.4 182.0L154.2 180.0L140.0 173.8L130.0 171.1L122.0 165.9L112.0 161.0L108.0 157.9L90.0 148.9L86.0 145.8L76.0 140.8L72.0 137.7L66.0 135.2L72.0 137.5L76.0 140.6L86.0 145.7L90.0 148.7L108.0 157.8L112.0 160.8L122.0 165.8L130.0 170.9L140.0 173.7L154.7 180.0L155.8 182.0L155.5 184.0L152.0 190.0L152.0 193.7L156.0 195.6L164.0 202.0L166.0 202.3L168.0 201.5L176.0 195.9L182.0 193.3L186.0 193.4L198.0 197.9L206.4 206.0L208.0 207.0L214.0 208.0L216.0 209.9L223.4 220.0L228.9 232.0L232.0 233.0L236.0 232.2L242.0 228.3L254.0 212.8L260.7 206.0L264.0 203.7L270.0 201.7L290.0 200.9L306.0 193.6L316.0 187.5L320.0 186.6L328.0 186.4L338.2 180.0L344.0 177.9L354.0 176.3L379.4 178.0L400.0 183.8L414.0 191.2L418.0 192.0L420.0 191.4L423.9 188.0L432.0 171.8L439.8 164.0L448.0 159.3L470.0 153.7L475.3 150.0L480.3 144.0L485.4 130.0L487.1 128.0L494.0 125.5L504.0 127.3L516.0 125.8L542.0 126.8L564.0 134.0L582.0 130.0L597.3 124.0L605.7 108.0L607.7 106.0L616.0 99.9L620.0 99.6L626.0 100.8L628.0 99.7L635.5 92.0L636.5 88.0ZM690.0 88.0L705.3 88.0L705.2 90.0L704.0 92.6L696.0 93.5L692.1 96.0L692.3 98.0L698.0 107.2L710.0 111.5L716.0 114.7L726.0 114.4L728.0 115.0L730.6 118.0L733.6 126.0L736.0 127.6L754.0 131.2L760.0 134.4L767.7 140.0L774.0 140.8L774.0 141.6L766.0 142.6L764.0 141.9L759.2 138.0L754.0 135.3L722.9 128.0L720.6 126.0L720.3 122.0L717.6 120.0L696.0 111.5L692.5 108.0L690.0 103.5L685.4 98.0L684.6 96.0L685.3 94.0L688.1 92.0L689.5 90.0L689.1 88.0Z" fill="#8cffe2" stroke="#8cffe2" stroke-width="0.6" fill-rule="evenodd"/>
<path d="M642.0 88.0L689.1 88.0L689.5 90.0L688.1 92.0L685.3 94.0L684.6 96.0L685.4 98.0L690.0 103.5L692.5 108.0L696.0 111.5L717.6 120.0L720.3 122.0L720.6 126.0L722.9 128.0L754.0 135.3L759.2 138.0L764.0 141.9L766.0 142.6L774.0 141.6L774.0 142.7L770.0 143.1L766.0 146.3L764.0 145.9L754.0 139.3L746.0 138.1L730.0 133.1L716.0 130.8L710.0 124.6L708.0 124.1L700.0 125.6L696.0 122.8L688.0 112.8L682.0 110.0L678.0 106.4L676.0 105.6L674.0 106.2L669.8 112.0L666.0 115.3L662.0 116.7L658.0 116.2L646.0 103.3L644.0 101.9L642.0 101.8L638.0 106.8L632.0 119.3L628.0 123.2L622.0 125.5L618.0 126.3L610.0 124.7L608.0 125.2L602.0 128.9L582.0 135.7L562.0 138.8L546.0 137.7L534.0 135.9L526.0 137.3L514.0 137.1L508.0 138.0L500.0 136.9L494.0 137.1L491.9 138.0L481.6 148.0L472.0 153.9L448.1 160.0L438.4 166.0L432.0 173.3L424.0 189.0L422.0 191.1L418.0 192.7L414.0 192.1L398.0 185.8L378.0 180.0L352.0 177.9L341.8 180.0L330.0 187.9L328.0 188.6L318.0 188.8L316.0 189.5L308.0 194.3L292.0 201.2L284.0 202.5L272.0 202.6L268.0 203.4L264.0 205.1L260.5 208.0L240.7 230.0L234.0 234.0L228.0 235.4L225.0 234.0L220.0 223.4L216.0 217.3L214.0 215.5L208.0 215.5L202.0 212.0L196.0 206.7L180.0 201.1L176.0 201.7L174.0 203.2L162.0 216.5L160.0 217.9L158.0 217.9L153.9 214.0L150.1 208.0L145.2 204.0L146.0 198.1L147.8 194.0L154.3 184.0L154.9 182.0L153.8 180.0L140.0 174.0L128.0 170.3L121.8 166.0L112.0 161.2L107.8 158.0L90.0 149.0L86.0 146.0L76.0 140.9L72.0 137.9L66.0 135.4L72.0 137.7L76.0 140.8L86.0 145.8L90.0 148.9L108.0 157.9L112.0 161.0L122.0 165.9L130.0 171.1L140.0 173.8L154.2 180.0L155.4 182.0L154.9 184.0L148.0 195.4L147.9 200.0L154.9 202.0L160.0 208.5L162.0 209.8L166.0 207.6L173.9 200.0L178.0 197.7L184.0 197.6L194.0 201.0L198.0 202.9L206.0 210.2L208.0 211.2L214.0 211.9L216.0 213.5L221.8 222.0L226.3 232.0L228.0 233.9L230.0 234.2L236.0 232.6L242.0 228.6L254.0 213.7L261.6 206.0L264.7 204.0L272.0 202.0L284.0 202.0L292.0 200.7L308.0 193.4L316.0 188.3L318.0 187.6L328.0 187.5L339.7 180.0L346.1 178.0L354.0 177.0L378.0 178.9L398.0 184.5L414.0 191.6L418.0 192.4L420.0 191.8L422.7 190.0L424.3 188.0L432.0 172.5L438.0 165.8L448.0 159.7L472.0 153.3L481.2 146.0L488.0 135.5L492.0 131.8L494.0 131.0L498.0 130.8L504.0 131.8L514.0 131.0L522.0 131.9L532.0 130.7L564.0 136.5L582.0 132.9L598.0 127.4L600.7 126.0L605.9 120.0L608.0 119.1L612.0 119.0L618.0 120.2L624.0 119.5L626.6 118.0L629.3 114.0L632.4 106.0L639.6 94.0L641.0 88.0Z" fill="#80ffc8" stroke="#80ffc8" stroke-width="0.6" fill-rule="evenodd"/>
<path d="M642.0 101.8L644.0 101.9L646.0 103.3L658.0 116.2L662.0 116.7L666.0 115.3L669.8 112.0L674.0 106.2L676.0 105.6L678.0 106.4L682.0 110.0L688.0 112.8L696.0 122.8L700.0 125.6L708.0 124.1L710.0 124.6L716.0 130.8L730.0 133.1L746.0 138.1L754.0 139.3L764.0 145.9L766.0 146.3L770.0 143.1L772.0 142.7L774.0 142.7L774.0 144.4L772.0 144.5L768.0 150.3L766.0 150.7L758.9 148.0L752.0 142.9L746.0 141.5L740.0 139.2L730.0 136.3L716.0 134.9L708.0 131.9L702.0 131.9L694.0 128.8L692.0 127.6L683.6 118.0L680.0 115.9L675.7 116.0L670.0 122.1L666.0 123.8L657.2 122.0L648.0 113.3L642.0 112.6L640.0 114.3L635.3 122.0L631.0 126.0L626.0 128.8L618.0 131.6L608.0 131.0L594.0 134.4L584.0 138.2L572.0 140.4L560.0 141.2L532.0 141.5L520.0 143.0L514.0 142.2L506.0 143.2L494.0 143.6L472.0 154.6L450.0 159.8L441.9 164.0L438.0 167.0L433.4 172.0L423.7 190.0L421.1 192.0L418.0 193.1L414.0 192.5L398.0 187.1L390.0 185.4L378.0 181.5L356.0 179.1L344.0 180.3L339.8 182.0L330.0 189.1L318.0 190.2L308.0 195.4L292.0 201.6L284.0 203.0L272.0 203.2L266.0 204.8L262.0 207.5L257.4 212.0L241.1 230.0L234.8 234.0L230.0 236.0L226.0 236.7L223.7 236.0L218.0 224.6L214.0 219.5L208.0 220.0L206.0 219.5L199.8 216.0L194.0 211.3L188.0 209.6L180.0 205.6L176.0 206.0L174.0 207.4L160.0 222.0L158.0 223.1L156.0 223.1L150.0 217.1L142.0 206.8L147.4 194.0L153.8 184.0L154.5 182.0L153.4 180.0L139.6 174.0L128.0 170.5L121.4 166.0L112.0 161.3L107.4 158.0L90.0 149.2L85.7 146.0L76.0 141.1L71.9 138.0L66.0 135.5L72.0 137.9L76.0 140.9L86.0 146.0L90.0 149.0L107.8 158.0L112.0 161.2L121.8 166.0L128.0 170.3L140.0 174.0L153.8 180.0L154.9 182.0L154.3 184.0L147.8 194.0L146.0 198.1L145.2 204.0L150.1 208.0L153.9 214.0L158.0 217.9L160.0 217.9L162.0 216.5L174.0 203.2L176.0 201.7L180.0 201.1L196.0 206.7L202.0 212.0L208.0 215.5L214.0 215.5L216.0 217.3L220.0 223.4L225.0 234.0L228.0 235.4L234.0 234.0L240.7 230.0L260.5 208.0L264.0 205.1L268.0 203.4L272.0 202.6L284.0 202.5L292.0 201.2L308.0 194.3L316.0 189.5L318.0 188.8L328.0 188.6L330.0 187.9L341.8 180.0L352.0 177.9L378.0 180.0L398.0 185.8L414.0 192.1L418.0 192.7L422.0 191.1L424.0 189.0L432.0 173.3L438.4 166.0L448.1 160.0L472.0 153.9L481.6 148.0L491.9 138.0L494.0 137.1L500.0 136.9L508.0 138.0L514.0 137.1L526.0 137.3L534.0 135.9L546.0 137.7L562.0 138.8L582.0 135.7L602.0 128.9L608.0 125.2L610.0 124.7L618.0 126.3L622.0 125.5L628.0 123.2L632.0 119.3L638.0 106.8L641.7 102.0Z" fill="#6effa9" stroke="#6effa9" stroke-width="0.6" fill-rule="evenodd"/>
<path d="M642.0 112.6L648.0 113.3L657.2 122.0L666.0 123.8L670.0 122.1L675.7 116.0L680.0 115.9L683.6 118.0L692.0 127.6L694.0 128.8L702.0 131.9L708.0 131.9L716.0 134.9L730.0 136.3L740.0 139.2L746.0 141.5L752.0 142.9L758.9 148.0L766.0 150.7L768.0 150.3L772.0 144.5L774.0 144.4L774.0 174.0L770.0 165.5L762.0 155.5L756.0 152.0L750.0 147.2L738.0 142.0L730.0 139.6L714.0 138.6L708.0 137.5L702.0 137.6L690.0 133.5L684.0 129.1L682.0 128.6L676.0 130.3L664.0 129.7L650.0 125.5L644.0 127.2L638.0 127.7L622.8 136.0L618.0 137.8L612.0 138.0L604.0 136.2L594.0 137.5L584.0 143.5L576.0 146.5L572.0 146.3L568.2 144.0L566.0 143.6L558.0 143.8L532.0 146.7L522.0 149.1L510.0 149.0L502.0 151.4L494.0 150.6L457.7 158.0L446.2 162.0L438.0 167.6L433.9 172.0L424.4 190.0L421.9 192.0L418.0 193.5L414.0 193.0L398.0 188.4L390.0 187.0L378.0 183.1L358.0 180.8L344.0 181.7L340.0 183.4L330.7 190.0L318.0 192.0L309.7 196.0L292.0 202.1L282.0 203.7L272.0 203.7L266.0 205.6L258.0 212.3L241.5 230.0L235.7 234.0L224.0 238.2L222.0 237.7L220.7 236.0L216.0 226.6L214.0 224.3L208.0 225.1L206.0 224.4L198.0 220.4L190.9 218.0L183.0 212.0L180.0 210.7L178.0 210.9L172.0 213.8L160.0 225.0L156.0 227.2L154.0 227.1L150.0 223.5L143.0 214.0L140.0 211.6L139.4 210.0L146.0 195.6L153.5 184.0L154.1 182.0L153.1 180.0L139.1 174.0L128.0 170.7L121.1 166.0L112.0 161.5L107.0 158.0L90.0 149.4L85.4 146.0L76.0 141.3L71.6 138.0L66.0 135.6L71.9 138.0L76.0 141.1L85.7 146.0L90.0 149.2L107.4 158.0L112.0 161.3L121.4 166.0L128.0 170.5L139.6 174.0L153.4 180.0L154.5 182.0L153.8 184.0L147.4 194.0L142.0 206.8L150.0 217.1L156.0 223.1L158.0 223.1L160.0 222.0L174.0 207.4L176.0 206.0L180.0 205.6L188.0 209.6L194.0 211.3L199.8 216.0L206.0 219.5L208.0 220.0L214.0 219.5L218.0 224.6L223.7 236.0L226.0 236.7L230.0 236.0L234.8 234.0L241.1 230.0L257.4 212.0L262.0 207.5L266.0 204.8L272.0 203.2L284.0 203.0L292.0 201.6L308.0 195.4L318.0 190.2L330.0 189.1L339.8 182.0L344.0 180.3L356.0 179.1L378.0 181.5L390.0 185.4L398.0 187.1L414.0 192.5L418.0 193.1L421.1 192.0L423.7 190.0L433.4 172.0L438.0 167.0L441.9 164.0L450.0 159.8L472.0 154.6L494.0 143.6L506.0 143.2L514.0 142.2L520.0 143.0L532.0 141.5L560.0 141.2L572.0 140.4L584.0 138.2L594.0 134.4L608.0 131.0L618.0 131.6L626.0 128.8L631.0 126.0L635.3 122.0L640.3 114.0Z" fill="#59ff88" stroke="#59ff88" stroke-width="0.6" fill-rule="evenodd"/>
<path d="M648.0 125.9L650.0 125.5L664.0 129.7L676.0 130.3L682.0 128.6L684.0 129.1L690.0 133.5L700.0 137.1L730.0 139.6L737.9 142.0L747.4 146.0L762.0 155.5L768.0 162.6L774.0 174.0L774.0 182.8L773.6 180.0L771.0 174.0L768.0 169.1L762.6 166.0L756.6 160.0L754.0 158.5L744.0 158.3L738.5 156.0L734.0 153.0L726.0 152.0L722.0 149.4L716.0 148.2L708.0 145.3L704.0 145.1L696.0 147.1L694.0 146.6L686.0 140.5L684.0 139.7L674.0 138.0L666.0 138.7L652.0 133.2L650.0 133.6L638.0 139.6L630.0 138.9L620.0 143.1L616.0 144.1L612.0 144.0L604.0 142.1L596.0 142.1L590.0 146.0L584.2 152.0L582.0 152.6L574.0 152.1L570.0 150.4L564.0 146.3L558.0 146.3L546.0 150.8L536.0 151.9L524.0 155.2L518.0 156.0L514.1 158.0L508.0 163.2L504.0 164.6L496.0 161.7L482.0 160.5L475.6 156.0L460.8 158.0L447.5 162.0L438.4 168.0L434.0 173.2L425.1 190.0L422.0 192.5L418.0 193.8L404.0 191.3L398.0 189.6L390.0 188.6L378.0 184.9L358.0 182.7L344.0 183.6L340.0 185.2L332.0 190.6L318.0 193.8L312.0 196.4L292.0 202.6L282.0 204.3L272.0 204.4L266.9 206.0L262.0 209.4L252.0 218.9L241.9 230.0L236.0 234.2L228.0 237.9L222.0 239.8L220.0 239.4L216.0 232.9L214.0 230.9L208.0 231.0L200.0 226.9L192.0 224.3L176.0 217.3L170.0 218.8L161.9 226.0L156.0 230.3L152.0 231.2L150.0 230.1L146.1 226.0L140.0 216.5L138.0 215.1L137.2 212.0L137.6 210.0L142.7 202.0L146.4 194.0L153.2 184.0L153.8 182.0L152.7 180.0L138.6 174.0L128.0 171.0L120.7 166.0L112.0 161.7L106.7 158.0L90.0 149.5L71.3 138.0L66.0 135.8L71.6 138.0L76.0 141.3L85.4 146.0L90.0 149.4L121.1 166.0L128.0 170.7L139.1 174.0L153.1 180.0L154.1 182.0L153.5 184.0L146.0 195.6L139.4 210.0L140.0 211.6L143.0 214.0L150.0 223.5L154.0 227.1L156.0 227.2L160.0 225.0L172.0 213.8L178.0 210.9L180.0 210.7L183.0 212.0L190.9 218.0L198.0 220.4L206.0 224.4L208.0 225.1L214.0 224.3L216.0 226.6L220.7 236.0L222.0 237.7L224.0 238.2L235.7 234.0L241.5 230.0L258.0 212.3L266.0 205.6L272.0 203.7L282.0 203.7L292.0 202.1L309.7 196.0L318.0 192.0L330.7 190.0L340.0 183.4L344.0 181.7L358.0 180.8L378.0 183.1L390.0 187.0L398.0 188.4L414.0 193.0L418.0 193.5L421.9 192.0L424.4 190.0L433.9 172.0L438.0 167.6L446.2 162.0L457.7 158.0L494.0 150.6L502.0 151.4L510.0 149.0L522.0 149.1L532.0 146.7L558.0 143.8L566.0 143.6L568.2 144.0L572.0 146.3L576.0 146.5L584.0 143.5L594.0 137.5L604.0 136.2L612.0 138.0L618.0 137.8L622.8 136.0L638.0 127.7L644.0 127.2L647.8 126.0Z" fill="#40ff66" stroke="#40ff66" stroke-width="0.6" fill-rule="evenodd"/>
<path d="M650.0 133.6L654.0 133.6L666.0 138.7L674.0 138.0L684.0 139.7L686.0 140.5L694.0 146.6L696.0 147.1L704.0 145.1L708.0 145.3L716.0 148.2L722.0 149.4L726.0 152.0L734.0 153.0L738.5 156.0L744.0 158.3L754.0 158.5L756.6 160.0L762.6 166.0L768.0 169.1L770.0 172.0L773.6 180.0L774.0 188.8L771.7 188.0L768.0 177.5L766.0 176.0L756.0 172.2L754.0 171.5L748.0 172.2L732.0 171.1L730.0 170.3L724.0 165.2L718.0 162.4L708.0 155.9L700.0 156.3L690.0 159.0L686.8 158.0L684.0 155.6L682.0 154.9L678.0 157.1L674.0 157.1L670.0 155.4L666.0 151.8L664.0 151.1L660.0 151.9L658.0 151.0L654.1 146.0L652.0 144.6L648.0 144.8L638.0 148.7L630.0 147.5L626.0 148.0L621.7 150.0L620.4 152.0L619.5 156.0L618.0 157.7L616.0 157.8L606.0 152.6L602.0 151.9L594.0 153.4L588.0 158.7L584.0 160.1L580.0 159.5L570.8 156.0L567.5 154.0L563.3 150.0L560.0 148.9L556.0 150.0L552.0 154.0L548.0 156.5L520.0 161.3L512.0 168.5L504.0 170.8L500.0 170.2L494.0 167.4L482.0 164.1L478.7 162.0L474.0 157.5L465.5 158.0L449.7 162.0L442.3 166.0L438.0 169.8L434.0 175.2L427.6 188.0L423.8 192.0L418.0 194.3L398.0 190.8L392.0 190.5L380.0 187.2L366.0 185.2L358.0 184.7L346.0 185.5L340.0 187.0L332.0 191.8L324.0 193.3L310.7 198.0L292.0 203.1L282.0 205.0L270.0 205.6L266.0 207.4L262.0 210.4L252.0 219.5L242.3 230.0L238.0 233.3L228.8 238.0L220.0 241.3L218.0 241.0L214.0 236.7L208.0 237.1L192.0 230.4L174.0 221.6L170.0 222.2L168.0 223.5L154.0 234.3L150.0 235.3L148.0 234.5L144.0 230.5L138.0 221.4L136.0 219.5L135.1 218.0L135.2 216.0L136.8 210.0L143.4 200.0L146.0 194.0L152.9 184.0L153.5 182.0L152.4 180.0L138.1 174.0L128.0 171.2L120.3 166.0L112.0 161.8L106.3 158.0L90.0 149.7L70.9 138.0L66.0 135.9L71.3 138.0L90.0 149.5L106.7 158.0L112.0 161.7L120.7 166.0L128.0 171.0L138.6 174.0L152.7 180.0L153.8 182.0L153.2 184.0L146.4 194.0L142.7 202.0L137.6 210.0L137.2 212.0L138.0 215.1L140.0 216.5L146.1 226.0L150.0 230.1L152.0 231.2L156.0 230.3L161.9 226.0L170.0 218.8L176.0 217.3L192.0 224.3L200.0 226.9L208.0 231.0L214.0 230.9L216.0 232.9L220.0 239.4L222.0 239.8L228.0 237.9L236.0 234.2L241.9 230.0L252.0 218.9L262.0 209.4L266.9 206.0L272.0 204.4L282.0 204.3L292.0 202.6L312.0 196.4L318.0 193.8L332.0 190.6L340.0 185.2L344.0 183.6L358.0 182.7L378.0 184.9L390.0 188.6L398.0 189.6L404.0 191.3L418.0 193.8L422.0 192.5L425.1 190.0L434.0 173.2L438.4 168.0L447.5 162.0L460.8 158.0L475.6 156.0L482.0 160.5L496.0 161.7L504.0 164.6L508.0 163.2L514.1 158.0L518.0 156.0L524.0 155.2L536.0 151.9L546.0 150.8L558.0 146.3L564.0 146.3L570.0 150.4L574.0 152.1L582.0 152.6L584.2 152.0L590.0 146.0L596.0 142.1L604.0 142.1L612.0 144.0L616.0 144.1L620.0 143.1L630.0 138.9L638.0 139.6L649.2 134.0Z" fill="#2afd48" stroke="#2afd48" stroke-width="0.6" fill-rule="evenodd"/>
<path d="M66.3 136.0L70.9 138.0L90.0 149.7L120.3 166.0L128.0 171.2L138.1 174.0L152.4 180.0L153.5 182.0L152.9 184.0L146.0 194.0L143.4 200.0L136.8 210.0L135.2 216.0L135.1 218.0L136.0 219.5L138.0 221.4L144.0 230.5L148.0 234.5L150.0 235.3L154.0 234.3L168.0 223.5L170.0 222.2L174.0 221.6L192.0 230.4L208.0 237.1L214.0 236.7L218.0 241.0L220.0 241.3L228.8 238.0L238.0 233.3L242.3 230.0L252.0 219.5L262.0 210.4L266.0 207.4L270.0 205.6L282.0 205.0L292.0 203.1L310.7 198.0L324.0 193.3L332.0 191.8L340.0 187.0L346.0 185.5L358.0 184.7L366.0 185.2L380.0 187.2L392.0 190.5L398.0 190.8L418.0 194.3L423.8 192.0L427.6 188.0L434.0 175.2L438.0 169.8L442.3 166.0L449.7 162.0L465.5 158.0L474.0 157.5L478.7 162.0L482.0 164.1L494.0 167.4L500.0 170.2L504.0 170.8L512.0 168.5L520.0 161.3L548.0 156.5L552.0 154.0L556.0 150.0L560.0 148.9L563.3 150.0L567.5 154.0L570.8 156.0L580.0 159.5L584.0 160.1L588.0 158.7L594.0 153.4L602.0 151.9L606.0 152.6L616.0 157.8L618.0 157.7L619.5 156.0L620.4 152.0L621.7 150.0L626.0 148.0L630.0 147.5L638.0 148.7L648.0 144.8L652.0 144.6L654.1 146.0L658.0 151.0L660.0 151.9L664.0 151.1L666.0 151.8L670.0 155.4L674.0 157.1L678.0 157.1L682.0 154.9L684.0 155.6L686.8 158.0L690.0 159.0L700.0 156.3L708.0 155.9L718.0 162.4L724.0 165.2L730.0 170.3L732.0 171.1L748.0 172.2L754.0 171.5L756.0 172.2L766.0 176.0L768.0 177.5L771.7 188.0L774.0 188.8L774.0 190.2L771.6 190.0L766.0 186.4L758.1 184.0L752.0 178.7L748.0 178.1L734.0 179.0L720.0 174.2L710.0 175.0L708.0 174.5L706.0 172.6L704.0 169.1L702.0 167.7L690.0 168.1L682.0 166.0L672.0 169.2L664.0 167.1L658.0 167.2L656.0 166.4L650.0 160.6L642.0 155.2L640.0 155.2L630.0 158.1L628.6 160.0L628.5 170.0L627.6 172.0L616.0 177.0L612.0 176.2L606.0 171.1L604.0 170.4L596.0 171.4L578.0 165.3L560.0 155.9L558.0 155.8L552.0 159.9L543.0 164.0L534.0 165.5L528.0 165.2L523.7 166.0L520.7 168.0L514.0 174.6L508.0 177.7L502.0 176.6L492.0 170.8L482.0 166.9L477.5 164.0L474.0 160.1L472.0 159.4L469.6 160.0L468.4 162.0L466.0 163.1L458.0 162.4L451.2 164.0L446.7 166.0L440.0 171.8L434.7 180.0L431.4 188.0L424.0 192.7L420.0 194.4L416.0 194.9L398.0 192.1L392.0 192.0L380.0 189.1L364.0 186.8L342.0 188.1L332.0 192.9L326.0 193.8L314.8 198.0L284.0 205.3L274.0 205.7L268.0 207.3L264.0 209.7L252.0 220.0L244.8 228.0L238.0 233.6L220.0 242.4L216.0 242.8L214.0 242.4L208.0 243.6L203.0 242.0L188.0 234.9L176.0 226.9L172.0 225.7L166.0 228.0L154.0 237.2L148.0 240.1L146.0 239.9L142.7 238.0L138.0 229.7L134.3 226.0L132.0 225.3L130.9 224.0L131.6 220.0L133.1 218.0L136.0 210.0L139.2 206.0L143.0 200.0L145.6 194.0L152.6 184.0L153.2 182.0L152.0 180.0L138.0 174.2L128.0 171.4L119.9 166.0L90.0 149.8L70.6 138.0L66.0 135.9Z" fill="#1af92f" stroke="#1af92f" stroke-width="0.6" fill-rule="evenodd"/>
<path d="M68.0 136.8L90.0 149.8L119.9 166.0L128.0 171.4L138.0 174.2L152.0 180.0L153.2 182.0L152.6 184.0L145.6 194.0L143.0 200.0L139.2 206.0L136.0 210.0L133.1 218.0L131.6 220.0L130.9 224.0L132.0 225.3L134.3 226.0L138.0 229.7L142.7 238.0L146.0 239.9L148.0 240.1L154.0 237.2L166.0 228.0L172.0 225.7L176.0 226.9L188.0 234.9L203.0 242.0L208.0 243.6L214.0 242.4L216.0 242.8L220.0 242.4L238.0 233.6L244.8 228.0L252.0 220.0L264.0 209.7L268.0 207.3L274.0 205.7L284.0 205.3L314.8 198.0L326.0 193.8L332.0 192.9L342.0 188.1L364.0 186.8L380.0 189.1L392.0 192.0L398.0 192.1L416.0 194.9L420.0 194.4L424.0 192.7L431.4 188.0L434.7 180.0L440.0 171.8L446.7 166.0L451.2 164.0L458.0 162.4L466.0 163.1L468.4 162.0L469.6 160.0L472.0 159.4L474.0 160.1L477.5 164.0L482.0 166.9L492.0 170.8L502.0 176.6L508.0 177.7L514.0 174.6L520.7 168.0L523.7 166.0L528.0 165.2L534.0 165.5L543.0 164.0L552.0 159.9L558.0 155.8L560.0 155.9L578.0 165.3L596.0 171.4L604.0 170.4L606.0 171.1L612.0 176.2L616.0 177.0L627.6 172.0L628.5 170.0L628.6 160.0L630.0 158.1L640.0 155.2L642.0 155.2L650.0 160.6L656.0 166.4L658.0 167.2L664.0 167.1L672.0 169.2L682.0 166.0L690.0 168.1L702.0 167.7L704.0 169.1L707.3 174.0L710.0 175.0L720.0 174.2L734.0 179.0L748.0 178.1L752.0 178.7L758.1 184.0L766.0 186.4L771.6 190.0L774.0 190.2L774.0 191.1L766.0 192.8L756.0 189.1L750.0 186.1L746.0 185.4L736.0 186.2L726.0 190.0L716.0 189.5L711.2 192.0L708.0 192.5L707.1 192.0L704.8 186.0L700.0 181.6L696.0 179.2L692.0 179.4L687.5 182.0L684.0 183.1L682.0 182.8L678.0 180.3L676.0 180.1L670.0 182.3L660.0 181.9L656.0 183.5L654.0 183.2L645.2 176.0L640.0 170.6L638.0 171.2L636.5 176.0L627.9 182.0L625.5 188.0L622.0 189.9L620.0 189.9L610.0 185.8L602.0 183.5L584.0 173.4L570.0 168.3L560.0 163.4L556.3 164.0L552.0 168.5L526.0 173.1L522.0 174.7L514.0 180.3L508.0 181.9L499.2 180.0L476.0 166.7L468.0 168.3L458.0 167.7L452.0 169.8L446.0 174.6L443.5 178.0L438.9 188.0L436.0 191.3L434.0 192.4L428.0 192.0L420.0 195.0L416.0 195.5L390.0 193.2L380.0 190.8L364.0 188.5L342.0 190.0L332.0 194.0L326.0 194.8L318.0 198.5L284.0 205.9L274.0 206.5L268.0 208.2L252.0 220.6L243.1 230.0L238.0 233.9L222.5 242.0L214.0 245.2L208.0 248.4L206.0 248.4L190.0 243.7L174.2 232.0L170.0 230.6L166.0 231.1L164.0 232.1L148.0 245.0L146.0 246.0L144.0 245.8L136.9 240.0L132.0 231.9L130.0 230.8L128.0 230.6L127.3 228.0L127.7 226.0L133.1 216.0L135.3 210.0L138.8 206.0L142.6 200.0L145.3 194.0L152.3 184.0L152.9 182.0L152.0 180.4L140.0 175.2L128.0 171.7L119.4 166.0L112.0 162.4L108.0 159.5L88.0 148.9L84.0 146.0L66.0 136.1Z" fill="#14f51e" stroke="#14f51e" stroke-width="0.6" fill-rule="evenodd"/>
<path d="M68.0 137.0L84.0 146.0L88.0 148.9L122.0 167.5L128.0 171.7L140.0 175.2L152.0 180.4L152.9 182.0L152.3 184.0L145.3 194.0L142.6 200.0L138.8 206.0L135.3 210.0L133.1 216.0L127.7 226.0L127.3 228.0L128.0 230.6L130.0 230.8L132.0 231.9L136.9 240.0L144.0 245.8L146.0 246.0L148.0 245.0L164.0 232.1L166.0 231.1L170.0 230.6L174.2 232.0L190.0 243.7L206.0 248.4L208.0 248.4L214.0 245.2L222.5 242.0L238.0 233.9L243.1 230.0L252.0 220.6L268.0 208.2L274.0 206.5L284.0 205.9L318.0 198.5L326.0 194.8L332.0 194.0L342.0 190.0L364.0 188.5L380.0 190.8L390.0 193.2L416.0 195.5L420.0 195.0L428.0 192.0L434.0 192.4L436.0 191.3L438.9 188.0L443.5 178.0L446.0 174.6L452.0 169.8L458.0 167.7L468.0 168.3L476.0 166.7L499.2 180.0L508.0 181.9L514.0 180.3L522.0 174.7L526.0 173.1L552.0 168.5L556.3 164.0L560.0 163.4L570.0 168.3L584.0 173.4L602.0 183.5L610.0 185.8L620.0 189.9L622.0 189.9L625.5 188.0L627.9 182.0L636.5 176.0L638.0 171.2L640.0 170.6L645.2 176.0L654.0 183.2L656.0 183.5L660.0 181.9L670.0 182.3L676.0 180.1L678.0 180.3L682.0 182.8L684.0 183.1L687.5 182.0L692.0 179.4L696.0 179.2L700.0 181.6L704.8 186.0L707.1 192.0L708.0 192.5L711.2 192.0L716.0 189.5L726.0 190.0L736.0 186.2L746.0 185.4L750.0 186.1L756.0 189.1L766.0 192.8L772.0 191.1L774.0 191.1L774.0 191.9L772.0 192.4L770.4 194.0L768.0 202.9L766.0 205.1L764.0 205.5L750.0 198.9L746.0 198.1L744.0 198.0L734.0 202.3L730.0 202.9L724.0 202.5L718.0 199.4L716.0 199.0L708.0 201.1L704.0 200.8L690.6 198.0L686.0 193.0L682.0 191.2L672.0 191.4L666.0 194.4L664.0 194.6L658.0 193.7L652.0 194.4L646.0 193.0L640.0 189.8L636.0 188.7L634.0 189.1L624.0 194.1L620.0 195.1L616.0 194.9L591.2 184.0L584.0 181.9L570.0 175.1L566.0 174.1L564.0 174.9L560.0 178.5L558.0 179.1L548.0 179.3L540.0 177.5L530.0 176.9L524.0 178.3L512.0 183.8L506.0 184.2L496.6 182.0L476.0 172.0L470.0 173.3L462.0 173.0L450.0 179.8L447.2 184.0L444.0 191.2L438.0 195.6L436.0 196.0L428.0 193.9L416.0 196.1L392.0 194.9L364.0 190.3L340.0 192.1L332.0 195.0L326.0 195.8L318.0 199.9L296.0 203.6L282.0 206.9L274.0 207.3L268.0 209.1L252.0 221.2L243.4 230.0L238.0 234.2L214.0 246.4L204.0 252.4L194.0 249.3L186.0 247.7L172.0 236.3L166.0 234.8L162.0 236.7L146.0 250.7L144.0 252.2L142.0 252.8L130.0 238.0L128.0 236.1L126.0 235.6L124.2 234.0L126.0 227.5L129.6 220.0L132.3 216.0L134.7 210.0L138.3 206.0L142.3 200.0L144.9 194.0L152.0 184.0L152.6 182.0L152.0 181.0L150.0 179.4L140.0 175.4L134.0 173.5L130.0 173.1L122.0 167.7L112.0 162.7L108.0 159.7L90.0 150.3L69.9 138.0L66.0 136.3Z" fill="#1bf015" stroke="#1bf015" stroke-width="0.6" fill-rule="evenodd"/>
<path d="M68.0 137.2L90.0 150.3L122.0 167.7L130.0 173.1L134.0 173.5L140.0 175.4L150.0 179.4L152.0 181.0L152.6 182.0L152.0 184.0L144.9 194.0L142.3 200.0L138.3 206.0L134.7 210.0L132.3 216.0L129.6 220.0L126.0 227.5L124.2 234.0L126.0 235.6L128.0 236.1L130.0 238.0L142.0 252.8L144.0 252.2L146.0 250.7L162.0 236.7L166.0 234.8L172.0 236.3L186.0 247.7L194.0 249.3L204.0 252.4L214.0 246.4L238.0 234.2L243.4 230.0L252.0 221.2L268.0 209.1L274.0 207.3L282.0 206.9L296.0 203.6L318.0 199.9L326.0 195.8L332.0 195.0L340.0 192.1L364.0 190.3L392.0 194.9L416.0 196.1L428.0 193.9L436.0 196.0L438.0 195.6L444.0 191.2L447.2 184.0L450.0 179.8L462.0 173.0L470.0 173.3L476.0 172.0L496.6 182.0L506.0 184.2L512.0 183.8L524.0 178.3L530.0 176.9L540.0 177.5L548.0 179.3L558.0 179.1L560.0 178.5L564.0 174.9L566.0 174.1L570.0 175.1L584.0 181.9L591.2 184.0L616.0 194.9L620.0 195.1L624.0 194.1L634.0 189.1L636.0 188.7L640.0 189.8L646.0 193.0L652.0 194.4L658.0 193.7L664.0 194.6L666.0 194.4L672.0 191.4L682.0 191.2L686.0 193.0L690.6 198.0L704.0 200.8L708.0 201.1L716.0 199.0L718.0 199.4L724.0 202.5L730.0 202.9L734.0 202.3L744.0 198.0L746.0 198.1L750.0 198.9L764.0 205.5L766.0 205.1L768.0 202.9L770.4 194.0L773.3 192.0L774.0 191.9L774.0 193.3L772.4 194.0L771.6 196.0L770.9 206.0L770.0 210.0L768.0 212.7L766.0 213.3L762.0 212.4L756.0 208.7L750.0 206.4L722.0 212.7L720.0 212.7L712.0 208.9L706.0 209.5L700.0 206.3L696.0 205.6L686.0 207.0L678.0 210.1L672.0 206.4L658.0 200.4L646.0 200.3L638.0 197.1L634.0 196.3L630.0 196.7L622.0 200.1L616.0 200.4L604.0 194.8L596.0 193.7L588.0 189.9L578.0 186.9L570.0 187.0L564.0 185.2L538.0 185.6L536.0 185.2L531.3 182.0L528.0 180.7L524.0 181.4L512.0 185.7L504.0 186.2L494.0 184.0L484.0 179.3L476.0 177.5L464.4 178.0L462.0 179.0L454.2 184.0L452.2 186.0L449.3 192.0L446.0 196.0L440.0 198.9L436.0 198.5L428.0 195.8L416.0 196.9L392.0 196.3L364.0 192.2L340.0 193.7L326.0 196.9L318.0 201.4L304.0 203.6L296.0 204.2L282.0 207.6L274.0 208.1L268.0 210.1L252.0 221.7L243.8 230.0L238.0 234.5L214.0 247.2L207.2 252.0L203.4 256.0L200.0 266.1L198.0 265.5L197.4 264.0L197.9 258.0L197.5 256.0L194.0 254.2L186.0 252.4L170.1 240.0L166.0 238.8L162.0 240.0L156.6 244.0L148.3 252.0L142.0 259.3L140.0 260.2L138.0 259.3L134.0 251.5L128.0 243.6L126.0 241.4L120.9 240.0L120.8 238.0L125.8 226.0L134.1 210.0L135.3 208.0L138.0 205.7L141.9 200.0L144.6 194.0L151.6 184.0L152.0 181.5L150.0 179.6L146.0 178.5L140.0 175.6L134.0 173.7L130.0 173.5L128.0 172.4L122.0 167.9L112.0 163.0L108.0 159.9L90.0 150.6L86.0 147.7L66.0 136.6Z" fill="#2cee11" stroke="#2cee11" stroke-width="0.6" fill-rule="evenodd"/>
<path d="M68.0 137.4L86.0 147.7L90.0 150.6L108.0 159.9L112.0 163.0L122.0 167.9L128.0 172.4L130.0 173.5L134.0 173.7L140.0 175.6L146.0 178.5L150.0 179.6L152.0 181.5L151.6 184.0L144.6 194.0L141.9 200.0L138.0 205.7L135.3 208.0L134.1 210.0L125.8 226.0L120.8 238.0L120.9 240.0L122.0 240.7L124.0 240.6L126.6 242.0L134.0 251.5L137.0 258.0L138.0 259.3L140.0 260.2L143.4 258.0L148.3 252.0L156.6 244.0L162.0 240.0L166.0 238.8L170.1 240.0L186.0 252.4L194.0 254.2L197.5 256.0L197.9 258.0L197.4 264.0L198.0 265.5L200.0 266.1L203.4 256.0L207.2 252.0L214.0 247.2L238.0 234.5L243.8 230.0L252.0 221.7L266.0 211.3L270.0 209.2L274.0 208.1L284.0 207.2L298.0 203.9L304.0 203.6L318.0 201.4L326.0 196.9L334.0 195.5L338.0 194.1L364.0 192.2L392.0 196.3L416.0 196.9L428.0 195.8L436.0 198.5L440.0 198.9L444.0 197.3L448.0 194.0L452.2 186.0L454.2 184.0L462.0 179.0L466.0 177.9L476.0 177.5L484.0 179.3L494.0 184.0L504.0 186.2L512.0 185.7L524.0 181.4L528.0 180.7L531.3 182.0L536.0 185.2L538.0 185.6L564.0 185.2L570.0 187.0L578.0 186.9L588.0 189.9L596.0 193.7L604.0 194.8L616.0 200.4L622.0 200.1L632.0 196.3L636.0 196.5L646.0 200.3L658.0 200.4L672.0 206.4L678.0 210.1L686.0 207.0L696.0 205.6L700.0 206.3L706.0 209.5L712.0 208.9L714.0 209.4L720.0 212.7L750.0 206.4L754.0 207.7L764.0 213.2L768.0 212.7L770.0 210.0L770.6 208.0L772.0 194.7L774.0 193.3L774.0 216.9L760.0 222.8L756.0 222.0L753.9 218.0L752.0 216.1L748.0 215.4L740.0 215.5L722.0 218.8L714.0 216.2L704.0 216.6L698.0 213.4L696.0 213.2L688.0 217.4L680.0 218.9L674.0 217.0L668.8 212.0L666.0 210.3L658.0 209.0L640.0 204.0L636.0 203.6L628.0 205.6L618.0 205.6L614.0 205.0L608.0 202.6L600.0 203.1L594.0 201.3L588.0 197.3L576.0 193.2L566.0 193.3L554.0 190.4L536.0 190.8L533.6 190.0L528.0 185.0L526.0 184.0L512.0 187.5L504.0 188.4L492.0 186.6L482.0 182.9L474.0 182.5L466.0 183.2L464.0 184.0L461.5 186.0L450.0 199.1L444.0 201.7L440.0 201.6L428.0 197.4L422.0 197.0L398.0 198.4L364.0 194.3L338.0 195.5L326.0 198.0L318.0 203.1L304.0 204.7L296.0 204.8L282.0 208.3L272.0 209.4L268.0 211.1L254.0 220.8L244.3 230.0L238.0 234.8L216.0 246.6L208.3 252.0L204.5 256.0L202.9 260.0L202.0 265.8L200.0 267.5L196.0 267.4L194.2 266.0L193.3 262.0L192.0 259.7L184.0 256.4L168.0 244.3L164.0 243.3L162.0 243.6L158.0 246.0L150.0 253.5L144.0 260.8L140.0 263.7L138.0 264.0L135.1 262.0L129.7 254.0L124.0 248.3L122.0 247.0L120.0 246.9L116.0 248.0L115.9 244.0L122.6 232.0L132.9 210.0L134.2 208.0L138.0 204.9L141.4 200.0L144.2 194.0L152.0 182.0L150.4 180.0L146.0 178.8L140.0 175.8L134.0 173.9L128.0 173.2L121.5 168.0L112.0 163.3L107.5 160.0L90.0 150.9L86.0 147.9L66.0 136.8ZM774.0 231.5L774.0 267.2L771.9 242.0L773.9 232.0Z" fill="#47ee11" stroke="#47ee11" stroke-width="0.6" fill-rule="evenodd"/>
<path d="M68.0 137.6L76.0 142.7L86.0 147.9L90.0 150.9L121.5 168.0L128.0 173.2L134.0 173.9L140.0 175.8L146.0 178.8L150.4 180.0L152.0 182.0L144.2 194.0L141.4 200.0L138.0 204.9L134.2 208.0L132.9 210.0L122.6 232.0L115.9 244.0L116.0 248.0L120.0 246.9L122.0 247.0L124.0 248.3L129.7 254.0L135.1 262.0L138.0 264.0L140.0 263.7L144.0 260.8L150.0 253.5L158.0 246.0L162.0 243.6L164.0 243.3L168.0 244.3L184.0 256.4L192.0 259.7L193.3 262.0L194.2 266.0L196.0 267.4L200.0 267.5L202.0 265.8L202.9 260.0L204.5 256.0L208.3 252.0L216.0 246.6L238.0 234.8L244.3 230.0L254.0 220.8L268.0 211.1L272.0 209.4L282.0 208.3L296.0 204.8L304.0 204.7L318.0 203.1L326.0 198.0L338.0 195.5L364.0 194.3L398.0 198.4L422.0 197.0L428.0 197.4L440.0 201.6L444.0 201.7L450.0 199.1L461.5 186.0L464.0 184.0L466.0 183.2L476.0 182.5L482.0 182.9L492.0 186.6L504.0 188.4L512.0 187.5L526.0 184.0L528.0 185.0L533.6 190.0L536.0 190.8L554.0 190.4L566.0 193.3L576.0 193.2L588.0 197.3L594.0 201.3L600.0 203.1L608.0 202.6L614.0 205.0L618.0 205.6L628.0 205.6L636.0 203.6L640.0 204.0L658.0 209.0L666.0 210.3L668.8 212.0L674.0 217.0L680.0 218.9L688.0 217.4L696.0 213.2L698.0 213.4L704.0 216.6L714.0 216.2L722.0 218.8L740.0 215.5L748.0 215.4L752.0 216.1L753.9 218.0L756.0 222.0L760.0 222.8L774.0 216.9L774.0 231.5L771.9 242.0L773.6 260.0L774.0 277.0L772.1 264.0L770.0 234.8L768.0 228.2L760.0 230.6L754.0 231.1L749.3 230.0L744.0 226.6L736.0 226.7L728.0 224.8L716.0 223.3L712.0 223.5L702.0 226.0L698.0 224.6L694.0 224.5L686.0 227.6L676.0 228.9L671.1 226.0L664.0 218.8L654.0 215.4L648.0 212.2L640.0 211.0L632.0 212.2L624.0 211.7L616.0 214.3L612.0 214.7L608.0 214.4L602.0 212.6L594.0 212.2L588.0 211.0L584.0 212.6L582.0 212.3L576.0 209.2L567.1 206.0L564.4 200.0L561.0 198.0L554.0 195.8L546.0 196.7L532.0 195.6L528.0 192.9L524.0 188.3L522.0 187.9L506.0 190.9L490.0 191.4L482.0 188.0L478.0 187.6L468.0 191.2L454.9 202.0L450.0 204.8L442.0 204.0L430.0 199.1L422.0 198.0L408.0 198.8L398.0 200.2L380.0 197.4L366.0 196.4L338.0 197.0L328.0 198.4L324.0 200.2L318.0 204.9L296.0 205.5L282.0 209.1L274.0 209.8L268.1 212.0L253.3 222.0L244.8 230.0L238.0 235.1L216.0 247.1L209.1 252.0L205.2 256.0L203.0 262.0L202.5 266.0L200.0 268.5L196.0 268.8L191.9 268.0L189.9 264.0L188.0 262.4L180.0 259.0L174.0 254.3L162.0 248.5L160.0 248.5L156.0 250.8L142.0 265.4L138.0 267.5L136.0 267.5L132.0 264.7L126.9 258.0L124.0 255.4L118.0 252.7L114.0 253.3L112.0 252.7L111.9 252.0L113.1 250.0L115.3 242.0L122.0 231.3L129.9 214.0L130.8 208.0L127.6 190.0L128.0 182.9L129.8 176.0L126.2 172.0L120.7 168.0L110.0 162.6L106.7 160.0L100.0 156.9L95.9 154.0L90.0 151.2L85.7 148.0L76.0 143.1L72.0 139.9L66.0 137.0ZM130.1 176.0L131.2 186.0L132.8 192.0L132.1 204.0L132.6 206.0L136.0 205.9L140.9 200.0L144.9 192.0L150.7 184.0L151.5 182.0L150.0 180.0L146.0 179.1L140.0 176.0L132.0 174.1Z" fill="#5eee11" stroke="#5eee11" stroke-width="0.6" fill-rule="evenodd"/>
<path d="M68.0 137.8L100.0 156.9L120.7 168.0L126.2 172.0L129.8 176.0L128.0 182.9L127.6 190.0L130.8 208.0L129.9 214.0L122.0 231.3L115.3 242.0L113.1 250.0L111.9 252.0L112.0 252.7L114.0 253.3L118.0 252.7L124.0 255.4L126.9 258.0L132.0 264.7L136.0 267.5L138.0 267.5L142.0 265.4L156.0 250.8L160.0 248.5L162.0 248.5L174.0 254.3L180.0 259.0L188.0 262.4L189.9 264.0L191.9 268.0L196.0 268.8L200.0 268.5L202.5 266.0L203.0 262.0L205.2 256.0L209.1 252.0L216.0 247.1L238.0 235.1L244.8 230.0L253.3 222.0L268.1 212.0L274.0 209.8L282.0 209.1L296.0 205.5L318.0 204.9L324.0 200.2L328.0 198.4L338.0 197.0L366.0 196.4L380.0 197.4L398.0 200.2L408.0 198.8L422.0 198.0L430.0 199.1L442.0 204.0L450.0 204.8L454.9 202.0L468.0 191.2L478.0 187.6L482.0 188.0L490.0 191.4L506.0 190.9L522.0 187.9L524.0 188.3L528.0 192.9L532.0 195.6L546.0 196.7L554.0 195.8L561.0 198.0L564.4 200.0L567.1 206.0L576.0 209.2L582.0 212.3L584.0 212.6L588.0 211.0L594.0 212.2L602.0 212.6L608.0 214.4L612.0 214.7L616.0 214.3L624.0 211.7L632.0 212.2L640.0 211.0L648.0 212.2L654.0 215.4L664.0 218.8L671.1 226.0L676.0 228.9L686.0 227.6L694.0 224.5L698.0 224.6L702.0 226.0L712.0 223.5L716.0 223.3L728.0 224.8L736.0 226.7L744.0 226.6L749.3 230.0L754.0 231.1L760.0 230.6L768.0 228.2L770.0 234.8L772.1 264.0L774.0 277.0L774.0 290.7L770.0 252.4L768.0 244.7L766.0 242.0L764.0 240.7L755.5 240.0L742.0 234.1L718.0 232.7L714.0 233.5L710.0 235.6L704.0 237.5L701.5 240.0L699.0 244.0L696.0 244.8L692.0 242.9L686.0 237.1L680.0 234.8L674.0 233.8L670.0 231.6L662.0 225.1L648.0 219.1L640.0 217.3L636.0 217.1L616.0 220.8L606.0 220.5L602.0 219.6L596.0 220.0L584.0 218.4L574.0 212.6L566.0 211.7L560.0 210.0L557.0 208.0L554.0 204.4L546.0 204.7L538.0 202.3L530.0 202.2L520.0 193.8L516.0 192.9L492.0 197.8L486.0 197.2L480.0 194.9L476.0 195.4L470.0 197.2L462.0 203.4L456.0 206.6L450.0 207.9L440.0 205.0L430.0 200.6L422.0 199.1L408.0 200.1L398.0 201.7L380.0 198.8L338.0 198.5L328.0 199.5L324.0 201.4L320.0 205.4L316.0 207.2L296.0 206.2L284.0 209.5L276.0 210.4L270.0 212.0L254.0 222.2L245.4 230.0L238.0 235.4L216.0 247.6L209.8 252.0L205.9 256.0L203.6 262.0L203.0 266.0L202.0 268.1L200.0 269.2L194.0 269.9L190.0 269.3L188.2 268.0L186.0 265.0L176.0 262.0L172.0 259.1L166.0 256.5L160.0 252.8L158.0 252.9L154.0 255.6L143.0 268.0L138.0 269.3L130.0 269.0L128.0 268.0L122.0 261.5L117.0 258.0L114.0 257.5L108.0 259.1L107.8 258.0L112.5 248.0L114.0 242.0L120.5 232.0L126.4 220.0L127.1 216.0L127.0 208.0L125.0 192.0L126.4 174.0L119.9 168.0L110.0 163.4L105.7 160.0L100.0 157.6L95.1 154.0L66.0 137.3ZM132.0 174.1L140.0 176.0L146.0 179.1L150.0 180.0L151.5 182.0L150.7 184.0L144.9 192.0L140.9 200.0L136.0 205.9L132.6 206.0L132.1 204.0L132.8 192.0L131.2 186.0L130.1 176.0ZM132.2 176.0L132.8 186.0L134.5 192.0L134.2 202.0L134.7 204.0L136.0 204.8L140.4 200.0L143.1 194.0L150.3 184.0L150.9 182.0L149.1 180.0L146.0 179.5L139.2 176.0L134.0 175.0Z" fill="#6eee11" stroke="#6eee11" stroke-width="0.6" fill-rule="evenodd"/>
<path d="M68.0 138.0L76.0 143.4L95.1 154.0L100.0 157.6L105.7 160.0L110.0 163.4L119.9 168.0L126.4 174.0L125.0 192.0L127.0 208.0L127.1 216.0L126.4 220.0L120.5 232.0L114.0 242.0L112.5 248.0L107.8 258.0L108.0 259.1L114.0 257.5L117.0 258.0L122.0 261.5L128.0 268.0L130.0 269.0L138.0 269.3L143.0 268.0L154.0 255.6L158.0 252.9L160.0 252.8L166.0 256.5L172.0 259.1L176.0 262.0L186.0 265.0L188.2 268.0L190.0 269.3L194.0 269.9L200.0 269.2L202.0 268.1L203.0 266.0L203.6 262.0L205.9 256.0L209.8 252.0L216.0 247.6L238.0 235.4L245.4 230.0L254.0 222.2L270.0 212.0L276.0 210.4L284.0 209.5L296.0 206.2L316.0 207.2L320.0 205.4L324.0 201.4L328.0 199.5L338.0 198.5L380.0 198.8L398.0 201.7L408.0 200.1L422.0 199.1L430.0 200.6L440.0 205.0L450.0 207.9L456.0 206.6L462.0 203.4L470.0 197.2L476.0 195.4L480.0 194.9L486.0 197.2L492.0 197.8L516.0 192.9L520.0 193.8L530.0 202.2L538.0 202.3L546.0 204.7L554.0 204.4L557.0 208.0L560.0 210.0L566.0 211.7L574.0 212.6L584.0 218.4L596.0 220.0L602.0 219.6L606.0 220.5L616.0 220.8L636.0 217.1L640.0 217.3L648.0 219.1L662.0 225.1L670.0 231.6L674.0 233.8L680.0 234.8L686.0 237.1L692.0 242.9L696.0 244.8L699.0 244.0L701.5 240.0L704.0 237.5L710.0 235.6L714.0 233.5L718.0 232.7L742.0 234.1L755.5 240.0L764.0 240.7L766.0 242.0L768.0 244.7L770.0 252.4L774.0 294.2L772.0 286.5L770.0 260.8L768.0 252.9L766.0 251.6L758.0 249.9L748.0 244.8L734.0 242.5L726.0 239.7L720.0 241.0L713.2 248.0L712.3 250.0L712.8 256.0L711.5 260.0L709.2 262.0L698.0 268.6L696.0 266.6L694.7 264.0L694.5 262.0L696.4 258.0L696.1 256.0L694.1 254.0L690.0 252.5L686.0 249.9L676.0 240.5L672.0 239.3L664.0 234.5L660.0 231.0L644.0 223.1L640.0 221.9L636.0 221.9L632.0 223.0L624.0 223.8L618.0 225.7L614.0 226.0L602.0 224.0L598.0 224.0L584.0 220.9L572.0 215.4L556.0 216.5L550.0 215.9L542.0 210.9L538.0 209.3L529.3 210.0L528.0 209.3L520.0 200.2L516.0 199.5L510.0 200.4L500.0 203.8L494.0 205.0L478.0 201.4L472.0 201.5L468.0 203.1L464.0 206.4L458.0 210.0L454.0 210.8L450.0 210.5L430.0 202.0L422.0 200.2L410.0 201.2L402.0 202.8L396.0 203.2L380.0 200.1L330.0 200.2L324.0 202.7L318.5 208.0L314.0 209.4L296.0 207.1L291.1 208.0L284.0 210.5L274.0 211.7L268.4 214.0L252.8 224.0L238.0 235.7L216.1 248.0L210.0 252.3L205.2 258.0L203.5 266.0L202.0 268.9L200.0 270.0L188.0 270.6L186.1 270.0L184.0 267.6L182.0 266.5L174.0 264.6L158.0 257.4L156.0 257.7L154.0 259.3L148.0 266.0L145.3 270.0L128.0 270.8L118.7 268.0L112.0 264.4L106.0 265.6L104.0 264.4L105.6 258.0L111.3 248.0L113.0 240.0L124.0 222.0L124.2 218.0L124.0 216.6L118.0 217.3L116.0 216.3L110.0 210.3L108.7 208.0L107.6 202.0L105.6 198.0L105.1 192.0L103.8 188.0L103.7 176.0L102.0 173.6L99.5 164.0L98.8 158.0L94.3 154.0L88.0 151.0L84.3 148.0L74.0 142.6L70.8 140.0L66.0 137.5ZM106.3 164.0L106.8 168.0L106.3 174.0L108.6 176.0L114.0 178.2L118.0 178.2L120.0 176.6L122.0 174.0L122.1 172.0L120.2 170.0L108.0 163.8ZM134.0 175.0L139.2 176.0L146.0 179.5L149.1 180.0L150.9 182.0L150.3 184.0L143.1 194.0L140.4 200.0L136.0 204.8L134.7 204.0L134.2 202.0L134.5 192.0L132.8 186.0L132.2 176.0ZM133.5 176.0L133.9 186.0L135.6 192.0L135.4 200.0L136.0 203.1L138.0 202.2L140.0 199.7L143.7 192.0L149.7 184.0L150.4 182.0L148.1 180.0L144.0 179.2L138.2 176.0L134.0 175.7ZM696.0 269.3L696.6 272.0L695.8 274.0L694.0 275.5L691.5 276.0L691.5 274.0L695.7 270.0Z" fill="#80f011" stroke="#80f011" stroke-width="0.6" fill-rule="evenodd"/>
<path d="M67.0 138.0L74.0 142.6L84.3 148.0L88.0 151.0L94.3 154.0L98.8 158.0L99.5 164.0L102.0 173.6L103.7 176.0L103.8 188.0L105.1 192.0L105.6 198.0L107.6 202.0L108.7 208.0L110.0 210.3L116.0 216.3L118.0 217.3L124.0 216.6L124.2 218.0L124.0 222.0L113.0 240.0L111.3 248.0L105.6 258.0L104.0 264.4L106.0 265.6L112.0 264.4L118.7 268.0L128.0 270.8L145.3 270.0L148.0 266.0L154.0 259.3L156.0 257.7L158.0 257.4L174.0 264.6L182.0 266.5L184.0 267.6L186.1 270.0L188.0 270.6L200.0 270.0L202.0 268.9L203.5 266.0L205.2 258.0L210.0 252.3L216.1 248.0L238.0 235.7L252.8 224.0L268.4 214.0L274.0 211.7L284.0 210.5L291.1 208.0L296.0 207.1L314.0 209.4L318.5 208.0L324.0 202.7L330.0 200.2L380.0 200.1L396.0 203.2L402.0 202.8L410.0 201.2L422.0 200.2L430.0 202.0L450.0 210.5L454.0 210.8L458.0 210.0L464.0 206.4L468.0 203.1L472.0 201.5L478.0 201.4L494.0 205.0L500.0 203.8L510.0 200.4L516.0 199.5L520.0 200.2L528.0 209.3L529.3 210.0L538.0 209.3L542.0 210.9L550.0 215.9L556.0 216.5L572.0 215.4L584.0 220.9L598.0 224.0L602.0 224.0L614.0 226.0L618.0 225.7L624.0 223.8L632.0 223.0L636.0 221.9L640.0 221.9L644.0 223.1L660.0 231.0L664.0 234.5L672.0 239.3L676.0 240.5L686.0 249.9L690.0 252.5L694.1 254.0L696.1 256.0L696.4 258.0L694.5 262.0L694.7 264.0L696.0 266.6L698.0 268.6L709.2 262.0L711.5 260.0L712.8 256.0L712.3 250.0L713.2 248.0L718.7 242.0L722.0 240.2L726.0 239.7L734.0 242.5L746.0 244.1L758.4 250.0L766.0 251.6L768.0 252.9L769.9 260.0L771.9 286.0L774.0 294.2L774.0 298.3L772.0 291.7L768.0 259.6L766.0 258.2L756.0 257.8L748.0 253.9L740.0 251.9L736.0 251.8L730.0 253.7L724.0 254.2L722.0 255.6L718.0 264.0L712.0 269.4L704.7 274.0L700.0 282.0L698.2 284.0L686.0 292.6L680.0 295.1L678.0 298.2L677.1 302.0L680.0 302.3L681.7 304.0L682.1 306.0L681.4 308.0L680.0 309.3L676.0 310.8L674.3 310.0L673.6 308.0L672.0 307.0L668.0 308.2L666.0 307.1L665.4 304.0L666.0 300.0L667.8 296.0L675.8 282.0L685.1 272.0L686.2 270.0L683.3 264.0L682.2 256.0L676.0 250.4L668.1 246.0L656.0 235.4L642.0 226.5L638.0 225.8L628.0 227.1L616.0 230.7L612.0 230.8L598.0 227.4L592.0 224.9L580.0 222.0L572.0 218.9L566.0 219.5L560.0 222.3L556.0 223.0L548.0 221.9L538.0 217.5L534.0 217.2L528.0 218.0L520.0 214.3L514.9 210.0L510.0 208.8L506.0 209.1L500.0 211.3L492.0 211.7L484.0 210.5L476.0 207.2L472.0 206.7L458.0 214.2L454.0 214.1L450.0 213.3L430.0 203.8L424.1 202.0L420.0 201.5L413.5 202.0L400.0 204.9L396.0 205.2L380.0 201.6L364.0 202.2L330.0 201.5L324.3 204.0L320.0 208.9L314.0 211.2L310.0 211.0L306.0 209.7L296.0 208.2L286.0 211.3L272.0 213.6L254.3 224.0L236.0 237.3L216.8 248.0L211.0 252.0L206.0 257.3L204.5 262.0L204.0 266.1L202.0 269.7L200.0 270.7L186.0 272.0L180.0 268.7L156.0 263.0L152.0 265.2L149.0 270.0L146.0 271.7L138.0 271.2L128.0 272.1L122.0 270.4L108.0 269.1L100.0 271.6L98.7 270.0L99.1 268.0L110.1 248.0L110.4 240.0L109.1 234.0L109.5 226.0L108.1 222.0L107.2 214.0L105.2 210.0L104.8 204.0L103.4 200.0L102.6 192.0L100.8 186.0L100.9 180.0L98.8 174.0L98.1 168.0L96.7 164.0L96.5 158.0L95.6 156.0L92.9 154.0L88.0 151.7L79.6 146.0L74.0 143.4L70.1 140.0L66.0 137.8ZM695.7 270.0L691.5 274.0L691.5 276.0L694.0 275.5L695.8 274.0L696.6 272.0L696.0 269.3ZM108.0 163.8L120.2 170.0L122.1 172.0L122.0 174.0L120.0 176.6L118.0 178.2L114.0 178.2L108.6 176.0L106.3 174.0L106.8 168.0L106.3 164.0ZM134.0 175.7L138.2 176.0L144.0 179.2L148.1 180.0L150.4 182.0L149.7 184.0L143.7 192.0L140.0 199.7L138.0 202.2L136.0 203.1L135.4 200.0L135.6 192.0L133.9 186.0L133.5 176.0ZM134.8 178.0L135.9 186.0L137.6 190.0L137.1 198.0L138.0 200.4L140.0 197.6L142.1 192.0L149.5 182.0L136.0 176.6ZM658.0 314.8L659.2 316.0L658.0 318.2L656.0 319.1L656.0 317.8L657.4 316.0Z" fill="#90f310" stroke="#90f310" stroke-width="0.6" fill-rule="evenodd"/>
<path d="M68.0 139.3L70.1 140.0L74.0 143.4L79.6 146.0L88.0 151.7L92.9 154.0L95.6 156.0L96.5 158.0L96.7 164.0L98.1 168.0L98.8 174.0L100.9 180.0L100.8 186.0L102.6 192.0L103.4 200.0L104.8 204.0L105.2 210.0L107.2 214.0L108.1 222.0L109.5 226.0L109.1 234.0L110.4 240.0L110.1 248.0L99.1 268.0L98.7 270.0L100.0 271.6L108.0 269.1L122.0 270.4L128.0 272.1L138.0 271.2L146.0 271.7L149.0 270.0L152.0 265.2L156.0 263.0L180.0 268.7L186.0 272.0L200.0 270.7L202.0 269.7L204.0 266.1L204.5 262.0L206.0 257.3L211.0 252.0L216.8 248.0L236.0 237.3L254.3 224.0L272.0 213.6L286.0 211.3L296.0 208.2L306.0 209.7L310.0 211.0L314.0 211.2L320.0 208.9L324.3 204.0L330.0 201.5L364.0 202.2L380.0 201.6L396.0 205.2L400.0 204.9L413.5 202.0L420.0 201.5L424.1 202.0L430.0 203.8L450.0 213.3L454.0 214.1L458.0 214.2L472.0 206.7L476.0 207.2L484.0 210.5L492.0 211.7L500.0 211.3L506.0 209.1L510.0 208.8L514.9 210.0L520.0 214.3L528.0 218.0L534.0 217.2L538.0 217.5L548.0 221.9L556.0 223.0L560.0 222.3L566.0 219.5L572.0 218.9L580.0 222.0L592.0 224.9L598.0 227.4L612.0 230.8L616.0 230.7L628.0 227.1L638.0 225.8L642.0 226.5L656.0 235.4L668.1 246.0L676.0 250.4L682.2 256.0L683.3 264.0L686.2 270.0L685.1 272.0L675.8 282.0L667.8 296.0L666.0 300.0L665.4 304.0L666.0 307.1L668.0 308.2L672.0 307.0L673.6 308.0L674.3 310.0L676.0 310.8L680.0 309.3L681.4 308.0L682.1 306.0L681.7 304.0L680.0 302.3L677.1 302.0L678.0 298.2L680.0 295.1L686.0 292.6L698.2 284.0L700.0 282.0L704.7 274.0L712.0 269.4L718.0 264.0L722.0 255.6L724.0 254.2L730.0 253.7L738.0 251.6L748.3 254.0L757.0 258.0L766.0 258.2L768.1 260.0L772.0 291.7L774.0 298.3L774.0 311.7L774.0 302.0L771.8 296.0L770.0 280.8L768.0 271.1L766.0 268.7L752.0 266.8L744.0 263.3L740.0 263.4L728.0 266.7L718.0 277.8L708.0 285.6L702.0 288.6L698.0 291.8L693.0 298.0L688.0 312.1L684.7 316.0L670.0 324.1L666.0 323.2L662.5 324.0L656.0 329.2L654.0 329.9L652.0 328.8L650.8 326.0L651.3 320.0L655.5 312.0L661.0 304.0L664.5 296.0L670.1 286.0L672.6 278.0L676.0 272.1L676.3 266.0L676.0 263.9L674.0 260.7L668.0 256.5L658.0 255.0L655.5 254.0L655.0 252.0L655.7 248.0L654.0 243.5L644.7 236.0L640.0 231.1L636.0 230.5L630.0 231.0L614.0 235.5L608.8 236.0L600.0 233.4L592.0 227.8L582.0 225.2L570.0 224.2L560.0 227.7L550.0 228.9L546.0 227.9L538.0 223.6L528.0 224.4L520.0 223.2L510.0 217.1L508.0 216.6L498.0 216.9L490.0 218.4L482.0 217.0L474.0 213.7L468.0 214.0L460.0 218.9L456.0 220.3L448.0 217.2L440.0 217.6L438.0 216.6L429.4 208.0L426.1 206.0L420.0 204.0L416.0 204.1L408.0 205.9L398.0 209.2L394.0 208.6L382.0 204.6L376.0 203.6L364.0 204.1L330.0 203.8L326.0 205.3L320.0 211.1L314.0 213.6L310.0 214.0L298.0 210.8L296.0 210.9L284.0 215.0L272.0 215.9L267.2 218.0L254.0 225.8L238.0 236.5L217.5 248.0L211.6 252.0L208.0 255.2L206.1 258.0L204.0 267.3L202.0 270.4L200.0 271.4L184.0 273.4L180.0 270.7L174.0 268.6L168.0 267.4L156.0 266.6L152.0 268.2L148.8 272.0L146.0 273.1L138.0 271.9L128.0 272.8L120.0 271.1L114.0 270.8L106.0 271.5L94.0 275.6L92.0 275.3L88.0 272.8L80.0 276.0L74.6 276.0L66.0 274.2L66.0 245.7L72.0 245.6L74.0 250.9L75.6 252.0L80.0 252.7L84.0 254.8L87.4 258.0L91.7 264.0L94.0 265.3L96.0 265.1L98.0 263.8L100.1 258.0L100.0 256.0L98.0 253.1L95.9 248.0L92.8 244.0L92.4 242.0L93.6 236.0L92.4 232.0L92.0 231.7L87.7 236.0L80.0 237.8L74.0 241.0L70.0 235.1L66.0 233.3L66.0 225.9L70.0 224.6L77.7 220.0L84.8 210.0L85.4 206.0L86.0 205.2L88.0 205.1L91.2 206.0L93.3 208.0L91.2 212.0L92.0 216.0L92.0 222.0L95.3 226.0L94.8 230.0L98.0 231.9L102.0 238.2L104.0 238.3L105.3 236.0L107.0 228.0L105.2 216.0L102.0 210.1L99.0 208.0L100.6 202.0L100.1 194.0L96.0 183.6L93.1 182.0L88.0 177.4L82.0 175.8L76.0 173.2L66.0 171.1L66.0 146.8L70.0 147.1L74.0 148.3L77.4 148.0L76.5 146.0L74.0 145.0L68.2 140.0L66.0 139.4L66.0 138.0ZM83.2 158.0L80.6 160.0L79.2 162.0L79.1 164.0L80.0 166.0L82.0 166.5L84.0 165.9L89.3 160.0L89.2 158.0L88.0 156.4L86.0 156.4L84.0 157.5ZM657.4 316.0L656.0 317.8L656.0 319.1L658.0 318.2L659.2 316.0L658.0 314.8ZM136.0 176.6L149.5 182.0L142.1 192.0L140.0 197.6L138.0 200.4L137.1 198.0L137.6 190.0L135.9 186.0L134.8 178.0ZM68.0 186.0L70.6 188.0L72.0 194.5L75.6 198.0L75.3 200.0L66.0 204.0L66.0 185.8Z" fill="#9df80c" stroke="#9df80c" stroke-width="0.6" fill-rule="evenodd"/>
<path d="M68.0 139.9L74.0 145.0L76.5 146.0L77.4 148.0L74.0 148.3L70.0 147.1L66.0 146.8L66.0 139.4ZM84.0 157.5L86.0 156.4L88.0 156.4L89.2 158.0L89.3 160.0L84.0 165.9L82.0 166.5L80.0 166.0L79.1 164.0L79.2 162.0L80.6 160.0L83.2 158.0ZM68.0 171.5L76.0 173.2L82.0 175.8L88.0 177.4L93.1 182.0L96.0 183.6L100.1 194.0L100.6 202.0L99.0 208.0L102.0 210.1L104.4 214.0L106.7 226.0L106.0 234.4L104.0 238.3L101.7 238.0L98.0 231.9L94.8 230.0L95.3 226.0L92.0 222.0L92.0 216.0L91.2 212.0L93.3 208.0L90.0 205.6L86.0 205.2L84.8 210.0L77.7 220.0L70.0 224.6L66.0 225.9L66.0 204.0L75.3 200.0L75.6 198.0L72.0 194.5L70.0 187.0L66.0 185.8L66.0 171.1ZM330.0 203.8L364.0 204.1L376.0 203.6L382.0 204.6L394.0 208.6L398.0 209.2L408.0 205.9L416.0 204.1L420.0 204.0L426.1 206.0L429.4 208.0L438.0 216.6L440.0 217.6L448.0 217.2L456.0 220.3L460.0 218.9L468.0 214.0L474.0 213.7L482.0 217.0L490.0 218.4L498.0 216.9L508.0 216.6L510.0 217.1L520.0 223.2L528.0 224.4L538.0 223.6L546.0 227.9L550.0 228.9L560.0 227.7L570.0 224.2L582.0 225.2L592.0 227.8L600.0 233.4L608.8 236.0L614.0 235.5L630.0 231.0L636.0 230.5L640.0 231.1L644.7 236.0L654.0 243.5L655.7 248.0L655.0 252.0L655.5 254.0L658.0 255.0L668.0 256.5L674.0 260.7L676.0 263.9L676.3 266.0L676.0 272.1L672.6 278.0L670.1 286.0L664.5 296.0L661.0 304.0L652.0 318.3L650.6 324.0L652.0 328.8L654.0 329.9L656.0 329.2L664.0 323.3L670.0 324.1L684.7 316.0L688.0 312.1L693.0 298.0L699.9 290.0L707.4 286.0L718.0 277.8L728.0 266.7L742.0 263.1L746.0 263.9L752.0 266.8L766.0 268.7L768.0 271.1L770.0 280.8L771.8 296.0L774.0 302.0L774.0 320.6L773.1 302.0L770.9 296.0L768.0 278.6L766.0 276.9L764.0 276.6L756.0 277.3L746.0 272.7L744.0 272.5L736.0 276.0L730.0 276.7L728.0 277.8L720.0 289.7L718.0 291.2L712.0 292.7L709.6 294.0L701.5 302.0L695.5 310.0L691.5 318.0L683.7 324.0L676.0 331.8L672.3 338.0L668.0 342.9L662.0 347.2L660.0 347.6L658.0 338.0L650.0 331.6L648.4 328.0L647.9 324.0L650.0 316.6L653.3 310.0L660.0 300.0L661.6 294.0L665.4 286.0L666.0 282.0L664.5 270.0L663.8 268.0L661.6 266.0L652.0 261.7L647.4 258.0L643.7 252.0L641.2 244.0L638.0 241.4L632.0 239.9L618.0 241.0L612.0 242.6L606.0 245.6L604.0 245.8L594.0 240.4L589.8 236.0L587.5 232.0L584.0 230.6L570.0 229.5L562.0 231.7L548.0 234.0L542.0 232.6L536.0 230.1L520.0 227.3L512.0 224.4L504.0 223.5L492.0 225.4L484.0 222.9L478.0 222.8L470.0 221.3L466.0 222.8L460.0 226.9L454.0 227.4L448.0 223.9L440.0 224.6L436.0 223.8L428.8 220.0L424.0 214.0L422.0 212.8L418.0 212.5L410.0 215.7L398.0 217.1L388.0 213.9L380.5 210.0L376.0 208.8L372.0 209.1L360.0 212.2L350.0 211.5L348.0 212.5L344.0 217.2L342.0 217.0L336.0 212.1L332.0 211.8L330.0 212.0L324.0 215.6L310.0 220.9L306.0 221.2L298.0 219.5L288.0 222.5L282.0 222.1L276.0 222.8L267.7 222.0L260.0 227.2L252.0 229.0L244.0 232.5L238.0 236.9L218.2 248.0L212.3 252.0L208.0 255.8L206.5 258.0L204.2 268.0L202.0 271.2L190.1 274.0L187.2 276.0L188.3 280.0L188.0 282.0L186.0 280.0L185.6 278.0L184.2 276.0L179.6 272.0L172.0 269.2L166.0 268.4L154.0 268.6L148.1 274.0L146.0 274.2L138.0 272.6L128.0 273.5L118.0 271.8L108.0 272.3L104.0 273.2L90.0 279.7L66.0 276.7L66.0 274.2L74.6 276.0L80.0 276.0L88.0 272.8L92.0 275.3L94.0 275.6L106.0 271.5L110.0 270.9L118.0 270.9L128.0 272.8L138.0 271.9L146.0 273.1L148.8 272.0L152.0 268.2L156.0 266.6L168.0 267.4L174.0 268.6L180.0 270.7L184.0 273.4L200.0 271.4L202.0 270.4L204.0 267.3L206.1 258.0L208.0 255.2L211.6 252.0L217.5 248.0L238.0 236.5L243.9 232.0L267.2 218.0L274.0 215.5L286.0 214.5L296.0 210.9L298.0 210.8L310.0 214.0L314.0 213.6L320.0 211.1L326.0 205.3L328.9 204.0ZM92.0 231.7L93.4 234.0L93.6 236.0L92.4 242.0L92.8 244.0L95.9 248.0L98.0 253.1L100.0 256.0L100.1 258.0L98.0 263.8L96.0 265.1L94.0 265.3L91.7 264.0L87.4 258.0L84.0 254.8L80.0 252.7L75.6 252.0L74.0 250.9L72.0 245.6L66.0 245.7L66.0 233.3L70.0 235.1L74.0 241.0L80.0 237.8L87.7 236.0L91.9 232.0Z" fill="#a6fc04" stroke="#a6fc04" stroke-width="0.6" fill-rule="evenodd"/>
<path d="M370.0 209.7L374.0 208.8L378.0 209.2L388.0 213.9L398.0 217.1L410.0 215.7L416.0 213.0L420.0 212.4L424.0 214.0L428.8 220.0L436.0 223.8L440.0 224.6L448.0 223.9L454.0 227.4L460.0 226.9L468.0 221.9L472.0 221.3L478.0 222.8L484.0 222.9L492.0 225.4L502.0 223.5L512.0 224.4L518.0 226.8L536.0 230.1L542.0 232.6L548.0 234.0L562.0 231.7L570.0 229.5L584.0 230.6L587.5 232.0L589.8 236.0L594.0 240.4L604.0 245.8L606.0 245.6L612.0 242.6L618.0 241.0L632.0 239.9L638.0 241.4L641.2 244.0L643.7 252.0L647.4 258.0L652.0 261.7L661.6 266.0L663.8 268.0L664.5 270.0L666.0 282.0L665.4 286.0L661.6 294.0L660.0 300.0L653.3 310.0L650.0 316.6L647.9 324.0L648.4 328.0L650.0 331.6L658.0 338.0L660.0 347.6L662.0 347.2L668.0 342.9L672.3 338.0L676.0 331.8L683.7 324.0L691.5 318.0L695.5 310.0L701.5 302.0L709.6 294.0L712.0 292.7L718.0 291.2L720.0 289.7L728.0 277.8L730.0 276.7L736.0 276.0L744.0 272.5L746.0 272.7L756.0 277.3L762.0 276.6L766.0 276.9L768.0 278.6L770.9 296.0L773.1 302.0L774.0 336.1L772.2 302.0L770.5 298.0L768.0 284.8L766.0 283.2L762.0 282.8L748.0 284.8L738.0 283.6L734.0 283.8L732.0 284.4L730.0 286.0L724.6 294.0L719.4 300.0L712.0 306.5L706.0 309.0L702.4 312.0L697.1 322.0L694.0 325.2L689.3 328.0L683.9 338.0L680.5 342.0L664.0 354.5L662.0 355.6L660.0 355.7L658.0 354.1L656.0 351.0L654.6 340.0L653.7 338.0L647.9 332.0L646.3 328.0L645.6 324.0L646.8 318.0L649.6 310.0L656.3 298.0L657.4 290.0L660.6 284.0L659.8 276.0L657.4 272.0L652.0 270.0L646.0 266.5L640.0 265.0L632.0 259.4L628.0 258.3L622.0 258.1L616.0 253.7L608.0 255.3L602.0 254.4L590.0 248.5L582.0 246.1L579.6 244.0L576.0 238.0L570.0 235.7L560.0 236.6L550.0 238.8L544.0 237.9L536.0 238.1L532.0 237.2L522.0 231.8L506.0 228.8L492.0 231.4L486.0 229.7L484.0 229.9L480.0 231.6L476.0 232.4L474.0 231.9L472.0 230.3L470.0 230.2L458.0 235.6L438.0 231.2L426.0 226.8L418.0 222.7L416.0 222.4L410.0 223.9L394.0 225.7L376.0 218.0L370.0 218.2L366.0 219.1L360.0 223.0L354.4 228.0L350.0 229.1L340.0 229.6L332.0 225.6L326.0 226.9L318.0 227.4L308.0 230.0L304.0 229.9L298.0 228.2L288.0 229.2L280.0 228.6L272.4 230.0L266.0 232.8L254.0 231.5L244.0 233.1L238.0 237.3L216.0 249.8L210.4 254.0L208.0 256.5L206.1 260.0L204.6 268.0L202.0 272.0L194.8 274.0L191.3 276.0L191.6 280.0L190.9 286.0L196.5 296.0L197.2 298.0L196.0 298.8L194.0 297.5L189.7 292.0L183.4 278.0L180.6 274.0L176.0 271.2L170.0 269.7L156.0 269.3L154.0 269.8L148.0 275.1L138.0 273.3L130.0 274.2L118.0 272.5L108.0 273.1L98.0 276.6L92.0 280.7L90.0 280.9L82.0 279.5L76.0 279.3L70.0 277.7L66.0 277.7L66.0 276.7L70.0 276.7L76.0 278.4L84.0 278.6L90.0 279.7L104.0 273.2L108.0 272.3L118.0 271.8L128.0 273.5L138.0 272.6L146.0 274.2L148.1 274.0L154.0 268.6L164.0 268.3L172.0 269.2L178.0 271.0L184.2 276.0L185.6 278.0L186.0 280.0L188.0 282.0L188.3 280.0L187.2 276.0L190.1 274.0L202.0 271.2L204.2 268.0L206.5 258.0L208.0 255.8L212.3 252.0L218.2 248.0L238.0 236.9L244.0 232.5L252.0 229.0L260.0 227.2L267.7 222.0L276.0 222.8L282.0 222.1L288.0 222.5L298.0 219.5L306.0 221.2L310.0 220.9L324.0 215.6L330.0 212.0L332.0 211.8L336.0 212.1L342.0 217.0L344.0 217.2L348.0 212.5L350.0 211.5L360.0 212.2L368.7 210.0Z" fill="#b2ff00" stroke="#b2ff00" stroke-width="0.6" fill-rule="evenodd"/>
<path d="M372.0 218.0L378.0 218.5L384.0 221.8L394.0 225.7L410.0 223.9L416.0 222.4L418.0 222.7L426.0 226.8L438.0 231.2L458.0 235.6L470.0 230.2L472.0 230.3L474.0 231.9L476.0 232.4L480.0 231.6L484.0 229.9L486.0 229.7L492.0 231.4L506.0 228.8L522.0 231.8L532.0 237.2L536.0 238.1L544.0 237.9L550.0 238.8L560.0 236.6L570.0 235.7L576.0 238.0L579.6 244.0L582.0 246.1L590.0 248.5L602.0 254.4L608.0 255.3L616.0 253.7L622.0 258.1L628.0 258.3L632.0 259.4L640.0 265.0L646.0 266.5L652.0 270.0L657.4 272.0L659.8 276.0L660.6 284.0L657.4 290.0L656.3 298.0L649.6 310.0L646.8 318.0L645.6 324.0L646.3 328.0L647.9 332.0L653.7 338.0L654.6 340.0L656.0 351.0L658.0 354.1L660.0 355.7L662.0 355.6L664.0 354.5L680.5 342.0L683.9 338.0L689.3 328.0L694.0 325.2L697.1 322.0L702.4 312.0L706.0 309.0L712.0 306.5L719.4 300.0L724.6 294.0L730.0 286.0L732.0 284.4L734.0 283.8L738.0 283.6L748.0 284.8L762.0 282.8L766.0 283.2L768.0 284.8L770.5 298.0L772.2 302.0L774.0 336.7L773.1 334.0L772.8 322.0L770.9 302.0L769.0 298.0L768.0 292.0L766.7 290.0L766.0 289.1L762.0 288.2L750.0 292.0L738.0 291.4L734.0 292.8L730.0 298.1L714.1 314.0L708.0 317.5L703.7 326.0L702.0 332.0L698.0 336.0L676.7 352.0L668.0 359.9L664.0 361.8L660.0 361.6L658.0 360.7L653.0 352.0L651.2 340.0L645.9 332.0L643.4 326.0L643.7 320.0L646.6 308.0L651.8 296.0L650.4 288.0L652.1 282.0L651.7 280.0L650.0 278.2L634.0 271.3L624.0 269.8L619.5 266.0L612.0 265.2L606.0 262.6L602.0 261.7L592.0 261.9L586.0 258.2L580.0 256.3L576.0 252.2L572.0 249.4L568.0 244.2L560.9 242.0L558.0 241.7L548.0 244.2L544.0 243.6L536.0 244.3L532.0 243.3L524.0 237.5L522.0 237.2L514.0 238.5L509.4 236.0L506.0 235.2L500.0 235.5L494.0 238.9L490.0 240.2L482.0 240.1L474.0 242.8L466.0 242.6L460.0 243.3L458.0 243.1L452.0 240.3L444.0 240.3L434.0 238.0L418.0 230.7L410.0 231.4L402.0 230.4L394.0 231.0L380.0 229.1L374.0 226.4L372.0 226.2L367.4 228.0L360.6 236.0L356.0 237.7L348.0 236.8L338.0 236.9L330.0 235.1L322.0 234.5L318.0 235.1L308.0 238.2L300.0 236.4L288.0 239.8L284.0 244.3L282.0 245.3L278.0 244.9L274.0 245.6L272.0 244.5L268.0 240.2L260.1 236.0L244.0 233.7L236.0 239.0L216.5 250.0L211.1 254.0L208.0 257.2L206.0 261.7L205.6 266.0L204.0 270.6L202.0 272.9L195.5 276.0L193.2 284.0L193.0 286.0L193.9 288.0L200.1 300.0L198.0 301.6L193.0 298.0L188.4 292.0L182.2 278.0L180.0 274.8L176.0 272.1L170.0 270.5L156.0 270.3L154.0 270.9L148.0 276.1L138.0 274.0L130.0 274.8L118.0 273.2L108.0 274.0L98.0 277.5L92.0 281.8L82.0 280.2L76.0 280.1L70.0 278.4L66.0 278.4L66.0 277.7L70.0 277.7L76.0 279.3L92.0 280.7L98.0 276.6L108.0 273.1L118.0 272.5L130.0 274.2L138.0 273.3L148.0 275.1L154.0 269.8L156.0 269.3L170.0 269.7L176.0 271.2L180.6 274.0L183.4 278.0L189.7 292.0L194.0 297.5L196.0 298.8L197.2 298.0L196.5 296.0L190.9 286.0L191.6 280.0L191.3 276.0L194.8 274.0L202.0 272.0L204.6 268.0L206.1 260.0L208.0 256.5L210.4 254.0L216.0 249.8L238.0 237.3L244.0 233.1L254.0 231.5L266.0 232.8L272.4 230.0L280.0 228.6L288.0 229.2L298.0 228.2L304.0 229.9L308.0 230.0L318.0 227.4L326.0 226.9L332.0 225.6L340.0 229.6L350.0 229.1L354.4 228.0L360.0 223.0L366.0 219.1L371.8 218.0Z" fill="#c4ff00" stroke="#c4ff00" stroke-width="0.6" fill-rule="evenodd"/>
<path d="M368.0 227.6L372.0 226.2L374.0 226.4L380.0 229.1L394.0 231.0L402.0 230.4L410.0 231.4L418.0 230.7L434.0 238.0L444.0 240.3L452.0 240.3L458.0 243.1L460.0 243.3L466.0 242.6L474.0 242.8L482.0 240.1L490.0 240.2L494.0 238.9L500.0 235.5L504.0 235.1L508.0 235.5L514.0 238.5L522.0 237.2L524.0 237.5L532.0 243.3L536.0 244.3L544.0 243.6L550.0 244.0L556.0 242.0L560.0 241.7L568.0 244.2L572.0 249.4L576.0 252.2L580.0 256.3L586.0 258.2L592.0 261.9L602.0 261.7L606.0 262.6L612.0 265.2L619.5 266.0L624.0 269.8L634.0 271.3L649.6 278.0L651.7 280.0L652.1 282.0L650.4 288.0L651.8 296.0L646.6 308.0L643.7 320.0L643.4 326.0L645.9 332.0L651.2 340.0L653.0 352.0L658.0 360.7L660.0 361.6L664.0 361.8L668.0 359.9L676.7 352.0L698.0 336.0L702.0 332.0L703.7 326.0L708.0 317.5L714.1 314.0L730.0 298.1L734.0 292.8L738.0 291.4L750.0 292.0L762.0 288.2L766.0 289.1L766.7 290.0L768.0 292.0L769.0 298.0L770.9 302.0L772.8 322.0L773.1 334.0L774.0 337.3L772.8 336.0L772.0 320.0L770.0 307.9L768.0 304.3L764.0 305.9L762.0 305.6L756.0 302.1L748.0 301.4L740.0 299.5L738.0 299.9L735.2 302.0L728.0 311.2L724.5 314.0L723.2 316.0L722.0 320.8L720.0 323.4L712.0 327.9L709.1 334.0L698.0 345.1L692.0 348.5L688.0 352.3L681.9 356.0L674.0 366.5L670.0 367.7L660.0 366.6L656.8 368.0L655.2 370.0L654.8 372.0L655.9 380.0L654.0 381.7L651.6 374.0L652.8 364.0L652.0 358.0L648.7 350.0L646.7 338.0L640.9 328.0L639.6 324.0L640.4 316.0L642.0 310.0L641.4 304.0L640.7 302.0L632.5 296.0L628.0 289.1L618.0 283.3L612.0 277.9L606.0 274.2L602.0 269.3L600.0 268.2L594.0 269.5L580.0 269.8L578.0 267.9L572.0 258.7L566.0 251.6L560.0 247.7L556.0 247.6L550.0 251.0L546.0 252.2L532.0 252.7L528.0 250.6L524.0 245.0L522.0 244.5L516.0 246.3L514.0 246.2L502.0 240.5L498.0 241.1L491.6 246.0L488.0 247.9L482.0 248.8L478.0 250.4L470.0 249.6L464.0 250.7L460.0 249.9L452.0 246.1L444.0 246.7L434.0 246.0L425.2 242.0L418.0 237.0L416.0 236.6L410.0 237.9L400.0 237.4L394.0 238.1L384.0 235.3L381.2 236.0L376.0 239.6L374.7 246.0L370.0 247.6L366.0 247.2L360.0 245.3L352.0 246.3L344.0 244.2L336.0 245.0L324.0 242.7L302.0 250.2L294.0 250.7L292.0 251.9L290.9 254.0L290.5 260.0L288.0 261.7L276.0 259.5L270.0 257.1L264.0 251.6L252.0 245.4L250.1 242.0L248.9 238.0L246.0 235.0L244.0 234.5L217.4 250.0L211.8 254.0L208.0 258.0L204.0 271.9L199.0 276.0L195.1 284.0L195.0 286.0L201.3 300.0L200.5 302.0L198.0 302.5L193.9 300.0L188.0 293.0L179.9 276.0L176.0 273.1L170.0 271.3L164.0 270.7L156.0 271.1L154.0 271.9L150.0 276.0L148.0 276.8L138.0 274.8L128.0 275.4L116.0 273.8L108.0 274.7L98.0 278.3L92.0 282.7L82.0 280.8L76.0 280.7L70.0 279.0L66.0 279.0L66.0 278.4L70.0 278.4L76.0 280.1L82.0 280.2L92.0 281.8L98.0 277.5L108.0 274.0L118.0 273.2L130.0 274.8L138.0 274.0L148.0 276.1L154.0 270.9L156.0 270.3L170.0 270.5L176.0 272.1L180.0 274.8L182.2 278.0L188.4 292.0L193.0 298.0L198.0 301.6L200.1 300.0L193.9 288.0L193.0 286.0L193.2 284.0L195.5 276.0L202.0 272.9L204.0 270.6L205.6 266.0L206.0 261.7L208.0 257.2L211.1 254.0L216.5 250.0L236.0 239.0L244.0 233.7L260.1 236.0L268.0 240.2L272.0 244.5L274.0 245.6L278.0 244.9L282.0 245.3L284.0 244.3L288.0 239.8L298.0 236.6L300.0 236.4L308.0 238.2L318.0 235.1L322.0 234.5L330.0 235.1L338.0 236.9L348.0 236.8L356.0 237.7L360.0 236.4L362.0 234.9L367.4 228.0Z" fill="#ceff04" stroke="#ceff04" stroke-width="0.6" fill-rule="evenodd"/>
<path d="M242.0 235.5L244.0 234.5L247.3 236.0L248.9 238.0L250.1 242.0L252.0 245.4L264.0 251.6L270.0 257.1L276.0 259.5L288.0 261.7L290.5 260.0L290.9 254.0L292.0 251.9L294.0 250.7L302.0 250.2L324.0 242.7L336.0 245.0L344.0 244.2L352.0 246.3L360.0 245.3L366.0 247.2L370.0 247.6L374.7 246.0L376.0 239.6L381.2 236.0L384.0 235.3L394.0 238.1L400.0 237.4L410.0 237.9L416.0 236.6L418.0 237.0L425.2 242.0L434.0 246.0L444.0 246.7L452.0 246.1L460.0 249.9L464.0 250.7L470.0 249.6L478.0 250.4L482.0 248.8L488.0 247.9L491.6 246.0L496.5 242.0L500.0 240.4L504.0 241.2L514.0 246.2L516.0 246.3L522.0 244.5L524.0 245.0L528.0 250.6L532.0 252.7L546.0 252.2L550.0 251.0L556.0 247.6L560.0 247.7L566.0 251.6L572.0 258.7L578.0 267.9L580.0 269.8L594.0 269.5L600.0 268.2L602.0 269.3L606.0 274.2L612.0 277.9L618.0 283.3L628.0 289.1L632.5 296.0L640.7 302.0L642.0 310.0L640.4 316.0L639.6 324.0L640.9 328.0L646.7 338.0L648.7 350.0L652.0 358.0L652.8 364.0L651.6 374.0L654.0 381.7L655.9 380.0L654.8 372.0L655.2 370.0L656.8 368.0L660.0 366.6L670.0 367.7L674.0 366.5L681.9 356.0L688.0 352.3L692.0 348.5L698.0 345.1L709.1 334.0L712.0 327.9L720.0 323.4L722.0 320.8L723.2 316.0L724.5 314.0L728.0 311.2L735.2 302.0L738.0 299.9L740.0 299.5L748.0 301.4L756.0 302.1L762.0 305.6L764.0 305.9L768.0 304.3L770.0 307.9L772.0 320.0L772.8 336.0L774.0 337.8L772.2 336.0L771.2 322.0L770.0 315.8L768.0 315.0L764.0 315.4L758.0 314.1L746.0 307.7L742.0 307.5L740.0 308.2L737.7 310.0L731.8 318.0L729.5 326.0L727.3 330.0L712.0 339.3L705.2 346.0L700.0 352.4L692.0 359.3L686.0 363.0L678.0 372.0L674.0 373.9L670.0 374.7L668.0 374.2L662.0 370.9L660.0 371.2L658.7 374.0L658.2 390.0L658.0 390.8L656.0 390.8L651.6 384.0L646.6 372.0L646.0 366.0L646.6 358.0L644.6 352.0L644.1 344.0L642.5 338.0L640.0 334.4L627.6 324.0L626.3 322.0L626.2 320.0L627.3 316.0L625.7 310.0L624.0 307.5L618.0 307.1L616.0 305.9L615.0 304.0L614.9 298.0L609.5 292.0L608.0 290.8L602.0 288.5L599.6 284.0L598.0 282.7L588.0 279.7L580.0 279.2L576.0 277.5L571.8 274.0L568.5 270.0L566.0 266.0L564.5 262.0L562.0 259.7L560.0 259.1L556.0 259.3L550.0 262.8L544.0 261.3L534.0 259.9L525.9 260.0L516.0 255.3L508.0 248.2L500.0 245.4L498.0 246.0L492.0 250.1L482.0 253.7L475.6 258.0L472.0 259.4L462.0 256.7L452.0 251.0L436.0 251.6L429.4 250.0L420.0 245.9L408.0 245.8L396.0 249.8L386.0 248.4L378.0 252.0L374.0 252.9L354.0 253.7L346.0 253.2L340.0 254.7L332.0 255.4L324.0 253.6L320.0 255.4L312.0 260.6L304.0 260.4L300.0 262.3L294.0 266.7L288.0 267.7L276.0 265.3L266.1 260.0L257.9 252.0L250.0 246.7L246.7 238.0L244.0 235.7L218.5 250.0L212.0 254.6L208.0 259.2L204.8 272.0L200.1 278.0L196.8 284.0L196.8 286.0L198.8 292.0L202.3 300.0L201.3 302.0L198.0 303.2L192.7 300.0L187.6 294.0L178.6 276.0L176.0 274.0L170.0 272.0L164.0 271.4L156.0 272.0L154.0 273.0L150.0 277.0L148.0 277.6L138.0 275.5L130.0 276.2L116.0 274.6L108.0 275.5L98.0 279.1L92.0 283.6L82.0 281.3L76.0 281.2L70.0 279.5L66.0 279.5L66.0 279.0L70.0 279.0L76.0 280.7L82.0 280.8L92.0 282.7L98.0 278.3L108.0 274.7L116.0 273.8L128.0 275.4L138.0 274.8L148.0 276.8L150.0 276.0L154.0 271.9L156.0 271.1L164.0 270.7L170.0 271.3L176.0 273.1L179.9 276.0L186.0 289.7L188.7 294.0L194.0 300.1L198.0 302.5L200.0 302.3L201.3 300.0L195.0 286.0L195.1 284.0L199.0 276.0L204.0 271.9L208.0 258.0L211.8 254.0L217.4 250.0L241.4 236.0Z" fill="#d3ff0c" stroke="#d3ff0c" stroke-width="0.6" fill-rule="evenodd"/>
<path d="M244.0 235.7L246.7 238.0L250.0 246.7L257.9 252.0L266.1 260.0L276.0 265.3L288.0 267.7L294.0 266.7L300.0 262.3L304.0 260.4L312.0 260.6L320.0 255.4L324.0 253.6L332.0 255.4L340.0 254.7L346.0 253.2L354.0 253.7L374.0 252.9L378.0 252.0L386.0 248.4L396.0 249.8L408.0 245.8L420.0 245.9L429.4 250.0L436.0 251.6L452.0 251.0L462.0 256.7L472.0 259.4L475.6 258.0L482.0 253.7L492.0 250.1L498.0 246.0L500.0 245.4L508.0 248.2L516.0 255.3L525.9 260.0L534.0 259.9L544.0 261.3L550.0 262.8L556.0 259.3L560.0 259.1L562.0 259.7L564.5 262.0L567.0 268.0L573.9 276.0L580.0 279.2L588.0 279.7L598.0 282.7L599.6 284.0L602.0 288.5L608.0 290.8L614.9 298.0L615.0 304.0L616.1 306.0L618.0 307.1L622.0 307.0L624.4 308.0L627.1 314.0L626.3 322.0L628.0 324.4L640.0 334.4L642.5 338.0L644.1 344.0L644.6 352.0L646.6 358.0L646.0 366.0L646.6 372.0L651.6 384.0L656.0 390.8L658.0 390.8L658.2 390.0L658.7 374.0L660.0 371.2L662.0 370.9L668.0 374.2L670.0 374.7L674.0 373.9L678.0 372.0L686.0 363.0L692.0 359.3L700.0 352.4L705.2 346.0L712.0 339.3L727.3 330.0L729.5 326.0L731.8 318.0L737.7 310.0L740.0 308.2L742.0 307.5L746.0 307.7L758.0 314.1L764.0 315.4L768.0 315.0L770.0 315.8L771.2 322.0L772.2 336.0L774.0 338.2L771.3 336.0L770.0 321.2L768.0 320.0L764.0 321.0L758.0 321.1L752.0 319.4L742.0 317.7L740.0 318.8L738.0 321.5L735.3 330.0L732.3 334.0L726.0 337.1L714.0 344.9L708.0 350.7L702.5 360.0L688.2 372.0L681.4 376.0L672.0 380.0L670.0 380.2L664.0 376.8L662.0 376.3L660.5 380.0L659.3 392.0L658.0 393.8L655.0 392.0L650.7 386.0L643.2 372.0L639.6 356.0L640.4 348.0L639.9 344.0L638.0 341.6L631.2 340.0L622.0 328.7L612.7 322.0L610.6 310.0L604.0 300.7L602.0 299.8L596.0 298.9L592.0 297.2L588.0 294.2L580.5 286.0L568.9 280.0L562.0 275.0L556.0 271.8L544.9 270.0L532.0 265.4L520.0 265.2L516.0 264.2L506.1 252.0L502.0 250.2L498.0 251.0L482.3 258.0L472.0 261.6L460.0 260.3L454.0 256.9L450.0 255.7L444.0 255.4L436.0 256.5L428.0 255.7L416.0 251.9L412.0 252.4L402.0 255.3L394.0 258.8L384.0 257.5L376.0 259.1L368.0 257.8L360.0 258.2L330.0 263.3L322.0 263.8L312.0 267.6L304.0 264.8L302.0 264.8L300.0 265.7L294.0 271.0L290.0 271.9L280.0 271.9L272.0 269.3L262.0 262.5L255.0 254.0L248.9 248.0L244.7 238.0L244.0 237.4L242.0 237.5L216.8 252.0L211.5 256.0L208.4 260.0L205.0 274.0L200.5 280.0L198.5 284.0L200.2 292.0L202.9 298.0L203.1 300.0L202.0 302.1L200.0 303.5L198.0 303.9L191.6 300.0L186.5 294.0L178.0 276.8L174.1 274.0L170.0 272.9L164.0 272.2L156.0 273.0L150.0 277.9L148.0 278.4L138.0 276.4L130.0 277.0L118.0 275.4L109.9 276.0L104.0 277.4L98.0 279.9L94.0 283.6L92.0 284.5L82.0 281.9L76.0 281.8L70.0 280.1L66.0 280.1L66.0 279.5L70.0 279.5L74.0 280.9L82.0 281.3L92.0 283.6L98.0 279.1L108.0 275.5L116.0 274.6L130.0 276.2L138.0 275.5L148.0 277.6L150.0 277.0L154.0 273.0L156.0 272.0L164.0 271.4L170.0 272.0L176.0 274.0L178.6 276.0L181.0 280.0L185.1 290.0L189.1 296.0L195.4 302.0L198.0 303.2L200.0 302.9L201.3 302.0L202.3 300.0L198.8 292.0L196.8 286.0L196.8 284.0L200.1 278.0L204.8 272.0L208.0 259.2L212.0 254.6L218.5 250.0L243.1 236.0Z" fill="#d7ff10" stroke="#d7ff10" stroke-width="0.6" fill-rule="evenodd"/>
<path d="M242.0 237.5L244.0 237.4L244.7 238.0L248.9 248.0L255.0 254.0L262.0 262.5L272.0 269.3L280.0 271.9L290.0 271.9L294.0 271.0L300.0 265.7L302.0 264.8L304.0 264.8L312.0 267.6L322.0 263.8L330.0 263.3L360.0 258.2L368.0 257.8L376.0 259.1L384.0 257.5L394.0 258.8L402.0 255.3L412.0 252.4L416.0 251.9L428.0 255.7L436.0 256.5L444.0 255.4L450.0 255.7L454.0 256.9L460.0 260.3L472.0 261.6L482.3 258.0L500.0 250.3L504.0 250.8L508.0 253.9L516.0 264.2L520.0 265.2L532.0 265.4L544.9 270.0L556.0 271.8L562.0 275.0L568.9 280.0L580.5 286.0L588.0 294.2L592.0 297.2L596.0 298.9L602.0 299.8L604.0 300.7L610.6 310.0L612.7 322.0L622.0 328.7L631.2 340.0L638.0 341.6L639.9 344.0L640.4 348.0L639.6 356.0L643.2 372.0L650.7 386.0L655.0 392.0L658.0 393.8L659.3 392.0L660.5 380.0L662.0 376.3L664.0 376.8L670.0 380.2L672.0 380.0L681.4 376.0L688.2 372.0L702.5 360.0L708.0 350.7L714.0 344.9L726.0 337.1L732.3 334.0L735.3 330.0L738.0 321.5L740.0 318.8L742.0 317.7L752.0 319.4L758.0 321.1L764.0 321.0L768.0 320.0L770.0 321.2L771.3 336.0L774.0 338.6L771.5 338.0L770.3 336.0L770.0 333.1L768.0 331.0L766.0 331.8L764.0 331.6L760.0 329.8L752.0 327.9L746.0 328.7L744.0 329.6L738.0 337.4L732.0 340.8L724.0 343.8L715.4 350.0L712.6 354.0L711.9 362.0L711.0 364.0L708.6 366.0L704.0 367.7L701.2 370.0L695.1 380.0L692.0 381.3L686.0 381.4L674.0 386.5L672.0 386.3L666.0 383.2L664.0 383.0L662.0 384.7L660.0 394.5L658.0 395.4L653.2 392.0L648.5 386.0L640.0 372.0L633.9 358.0L633.8 350.0L632.0 348.4L628.0 346.8L624.0 341.9L620.0 338.9L616.0 338.9L612.9 338.0L597.5 324.0L598.0 322.0L600.0 320.3L601.2 318.0L600.0 314.5L596.0 309.6L593.1 310.0L588.0 315.8L586.0 316.6L584.0 315.4L581.2 312.0L580.6 310.0L581.6 300.0L580.1 296.0L578.0 293.9L566.0 287.6L560.0 282.3L550.0 278.2L540.0 276.0L534.0 272.6L530.0 271.3L524.0 270.7L516.0 271.4L514.0 270.7L511.1 268.0L504.0 257.2L502.0 256.0L494.0 257.4L486.0 261.2L470.0 263.7L458.0 262.9L450.0 259.9L446.0 259.4L436.0 261.7L432.0 262.0L424.0 261.7L416.0 259.5L412.0 259.5L406.0 261.1L398.0 264.9L394.0 265.5L384.0 265.9L368.0 263.3L364.0 263.3L348.0 266.9L338.0 266.5L312.0 273.3L302.0 271.3L300.0 271.7L292.0 275.7L278.0 277.2L272.0 275.4L258.5 266.0L253.5 260.0L246.7 248.0L244.1 240.0L242.0 239.2L218.6 252.0L213.0 256.0L209.5 260.0L208.0 263.2L206.6 274.0L202.1 280.0L200.2 284.0L201.6 292.0L204.0 298.0L204.0 300.0L202.8 302.0L200.0 304.1L196.0 303.9L190.4 300.0L182.9 290.0L177.6 278.0L175.6 276.0L170.0 273.7L164.0 273.1L156.0 274.0L150.0 278.9L148.0 279.3L140.0 277.5L130.0 277.8L118.0 276.2L108.0 277.3L99.7 280.0L94.0 284.6L92.0 285.5L82.0 282.7L76.0 282.6L70.0 281.0L66.0 281.1L66.0 280.1L70.0 280.1L74.0 281.5L82.7 282.0L92.0 284.5L94.0 283.6L98.0 279.9L104.0 277.4L109.9 276.0L118.0 275.4L130.0 277.0L138.0 276.4L148.0 278.4L150.0 277.9L156.0 273.0L164.0 272.2L170.0 272.9L174.1 274.0L178.0 276.8L185.2 292.0L191.6 300.0L196.0 303.1L198.0 303.9L200.0 303.5L202.2 302.0L203.1 300.0L202.9 298.0L200.2 292.0L198.5 284.0L200.5 280.0L205.0 274.0L208.4 260.0L211.5 256.0L216.8 252.0L241.1 238.0Z" fill="#dbff10" stroke="#dbff10" stroke-width="0.6" fill-rule="evenodd"/>
<path d="M240.0 239.9L242.0 239.2L244.0 239.9L246.7 248.0L253.5 260.0L258.5 266.0L272.0 275.4L278.0 277.2L292.0 275.7L300.0 271.7L302.0 271.3L312.0 273.3L338.0 266.5L348.0 266.9L364.0 263.3L368.0 263.3L384.0 265.9L394.0 265.5L398.0 264.9L406.0 261.1L412.0 259.5L416.0 259.5L424.0 261.7L432.0 262.0L436.0 261.7L446.0 259.4L450.0 259.9L458.0 262.9L470.0 263.7L486.0 261.2L494.0 257.4L502.0 256.0L504.0 257.2L511.1 268.0L514.0 270.7L516.0 271.4L524.0 270.7L530.0 271.3L534.0 272.6L540.0 276.0L550.0 278.2L560.0 282.3L566.0 287.6L578.0 293.9L580.1 296.0L581.6 300.0L580.6 310.0L581.2 312.0L584.0 315.4L586.0 316.6L588.0 315.8L593.1 310.0L596.0 309.6L600.0 314.5L601.2 318.0L600.0 320.3L598.0 322.0L597.5 324.0L612.9 338.0L616.0 338.9L620.0 338.9L624.0 341.9L628.0 346.8L632.0 348.4L633.8 350.0L633.9 358.0L640.0 372.0L648.5 386.0L653.2 392.0L658.0 395.4L660.0 394.5L662.0 384.7L664.0 383.0L666.0 383.2L672.0 386.3L674.0 386.5L686.0 381.4L692.0 381.3L695.1 380.0L701.2 370.0L704.0 367.7L708.6 366.0L711.0 364.0L711.9 362.0L712.6 354.0L715.4 350.0L724.0 343.8L732.0 340.8L738.0 337.4L744.0 329.6L746.0 328.7L752.0 327.9L760.0 329.8L764.0 331.6L766.0 331.8L768.0 331.0L770.0 333.1L770.3 336.0L771.5 338.0L774.0 338.9L768.0 339.9L758.0 336.0L754.0 336.0L746.0 338.9L742.3 344.0L740.0 345.4L732.0 348.5L726.0 349.0L724.0 350.0L721.9 352.0L719.9 356.0L720.4 362.0L719.0 366.0L713.9 374.0L707.9 380.0L704.7 388.0L702.6 390.0L686.0 390.9L678.0 393.7L676.0 393.7L672.5 392.0L668.0 388.5L666.0 387.8L664.0 388.1L662.0 391.8L660.9 396.0L660.0 396.9L658.0 396.7L651.2 392.0L646.0 386.0L632.6 366.0L625.9 360.0L618.0 356.8L612.0 353.5L604.0 352.3L592.0 346.8L582.0 346.4L580.0 346.1L578.0 344.8L574.3 336.0L570.4 330.0L570.1 328.0L571.0 322.0L567.6 314.0L568.6 310.0L572.0 308.0L573.4 306.0L573.5 304.0L572.1 302.0L568.0 300.5L566.0 298.9L556.2 288.0L548.0 284.9L540.0 284.7L532.0 280.0L526.0 278.5L522.0 278.2L516.0 279.6L510.0 279.5L507.5 278.0L504.0 272.7L502.0 272.1L498.0 272.7L494.0 272.3L487.7 268.0L482.0 265.6L478.0 265.3L470.0 266.6L456.0 265.9L446.0 264.1L432.0 268.0L424.0 269.4L418.0 269.7L412.0 268.5L386.0 270.6L378.0 270.3L364.0 268.0L344.0 271.8L338.0 271.6L326.0 273.7L312.0 277.6L298.0 278.2L288.0 281.1L278.0 282.2L270.0 280.1L253.5 270.0L250.0 265.0L245.7 262.0L246.3 258.0L246.0 255.6L240.0 246.8L238.0 245.4L236.0 245.4L232.0 246.6L218.0 254.1L214.0 257.0L210.0 261.5L208.0 270.0L208.6 274.0L203.7 280.0L201.9 284.0L203.0 292.0L205.1 298.0L204.7 300.0L203.3 302.0L200.0 304.5L196.0 304.7L188.9 300.0L182.7 292.0L176.0 278.1L173.1 276.0L168.0 274.5L164.0 274.0L158.0 274.7L156.0 275.4L150.0 279.9L148.0 280.2L140.0 278.8L130.0 279.0L118.0 277.3L110.7 278.0L100.0 281.1L94.0 285.7L90.0 287.1L84.0 284.0L74.0 283.2L70.0 282.0L66.0 282.1L66.0 281.1L70.0 281.0L76.0 282.6L82.0 282.7L92.0 285.5L94.0 284.6L99.7 280.0L108.0 277.3L118.0 276.2L130.0 277.8L140.0 277.5L148.0 279.3L150.0 278.9L156.0 274.0L164.0 273.1L170.0 273.7L175.6 276.0L177.6 278.0L182.9 290.0L190.4 300.0L196.0 303.9L200.0 304.1L202.8 302.0L204.0 300.0L204.0 298.0L201.6 292.0L200.2 284.0L202.1 280.0L206.6 274.0L208.0 263.2L209.5 260.0L215.5 254.0L239.7 240.0Z" fill="#e1ff10" stroke="#e1ff10" stroke-width="0.6" fill-rule="evenodd"/>
<path d="M234.0 245.8L238.0 245.4L240.0 246.8L246.0 255.6L246.3 258.0L245.7 262.0L250.0 265.0L253.5 270.0L270.0 280.1L276.0 282.0L288.0 281.1L299.5 278.0L312.0 277.6L326.0 273.7L338.0 271.6L344.0 271.8L364.0 268.0L382.0 270.5L412.0 268.5L420.0 269.7L430.0 268.5L446.0 264.1L456.0 265.9L470.0 266.6L478.0 265.3L482.0 265.6L487.7 268.0L494.0 272.3L498.0 272.7L502.0 272.1L504.0 272.7L507.5 278.0L510.0 279.5L516.0 279.6L524.0 278.2L532.0 280.0L540.0 284.7L550.0 285.4L556.2 288.0L566.0 298.9L568.0 300.5L572.1 302.0L573.5 304.0L573.4 306.0L572.0 308.0L568.6 310.0L567.6 314.0L571.0 322.0L570.1 328.0L570.4 330.0L574.3 336.0L578.0 344.8L580.0 346.1L582.0 346.4L592.0 346.8L604.0 352.3L612.0 353.5L618.0 356.8L625.9 360.0L632.6 366.0L646.0 386.0L651.2 392.0L658.0 396.7L660.0 396.9L660.9 396.0L662.0 391.8L664.0 388.1L666.0 387.8L668.0 388.5L672.5 392.0L676.0 393.7L678.0 393.7L686.0 390.9L702.6 390.0L704.7 388.0L707.9 380.0L713.9 374.0L719.0 366.0L720.4 362.0L719.9 356.0L721.9 352.0L724.0 350.0L726.0 349.0L732.0 348.5L740.0 345.4L742.3 344.0L746.0 338.9L754.0 336.0L758.0 336.0L768.0 339.9L772.0 338.9L774.0 339.2L771.3 340.0L770.0 344.4L768.0 346.6L762.0 345.9L756.0 343.7L752.0 343.8L750.0 344.7L744.0 349.5L737.3 352.0L734.3 354.0L733.1 356.0L733.5 360.0L733.0 362.0L727.6 368.0L723.6 376.0L714.0 384.3L710.0 392.3L708.0 394.7L700.0 397.3L680.0 398.6L676.0 397.6L670.0 394.2L666.0 392.9L664.0 393.7L662.0 397.6L660.0 398.6L654.3 396.0L648.7 392.0L642.8 386.0L638.0 379.3L629.7 370.0L622.0 364.0L612.0 360.0L604.0 359.7L600.0 358.7L590.0 353.3L576.0 351.4L564.0 343.0L559.4 342.0L558.5 340.0L559.4 334.0L558.0 326.0L558.0 318.9L552.0 311.1L548.0 303.5L546.0 301.9L532.0 299.3L526.0 294.2L522.0 292.0L517.0 288.0L506.0 285.7L497.0 282.0L490.0 280.1L486.5 278.0L482.0 273.0L480.0 272.2L474.0 273.8L468.0 271.3L464.0 270.4L452.0 271.3L446.0 270.7L442.0 271.6L436.0 274.4L418.0 275.8L402.0 273.7L388.0 274.4L378.0 274.2L366.0 272.5L354.0 273.3L326.0 276.7L316.0 280.4L306.0 282.2L298.0 284.7L280.0 287.1L270.0 285.5L264.0 283.5L255.8 282.0L247.4 276.0L236.1 270.0L228.0 262.5L224.2 258.0L220.0 257.1L216.0 258.7L212.5 262.0L211.4 264.0L211.0 268.0L211.8 272.0L211.1 274.0L205.3 280.0L203.6 284.0L204.0 290.0L206.1 298.0L205.4 300.0L202.0 303.8L198.0 305.5L194.0 304.7L187.0 300.0L181.2 292.0L175.3 280.0L172.0 277.4L168.0 275.9L164.0 275.4L158.0 276.1L152.0 280.2L148.0 281.5L138.0 280.4L130.0 280.3L120.0 278.8L108.2 280.0L100.0 282.5L94.0 286.8L90.0 288.7L82.0 284.8L76.0 284.8L70.0 283.5L66.0 283.6L66.0 282.1L70.0 282.0L76.0 283.5L82.0 283.6L84.1 284.0L90.0 287.1L94.0 285.7L100.0 281.1L110.7 278.0L118.0 277.3L130.0 279.0L140.0 278.8L148.0 280.2L150.0 279.9L156.0 275.4L158.0 274.7L166.0 274.2L172.0 275.5L176.0 278.1L182.7 292.0L188.9 300.0L196.0 304.7L200.0 304.5L203.3 302.0L204.7 300.0L205.1 298.0L203.0 292.0L201.9 284.0L203.7 280.0L208.6 274.0L208.0 270.0L210.0 261.5L216.0 255.4L233.3 246.0Z" fill="#eaff10" stroke="#eaff10" stroke-width="0.6" fill-rule="evenodd"/>
<path d="M218.0 257.6L222.0 257.2L224.2 258.0L228.0 262.5L236.1 270.0L247.4 276.0L255.8 282.0L264.0 283.5L270.0 285.5L280.0 287.1L298.0 284.7L306.0 282.2L316.0 280.4L326.0 276.7L354.0 273.3L366.0 272.5L378.0 274.2L388.0 274.4L402.0 273.7L418.0 275.8L436.0 274.4L442.0 271.6L446.0 270.7L452.0 271.3L464.0 270.4L468.0 271.3L474.0 273.8L480.0 272.2L482.0 273.0L486.5 278.0L490.0 280.1L497.0 282.0L506.0 285.7L517.0 288.0L522.0 292.0L526.0 294.2L532.0 299.3L546.0 301.9L548.0 303.5L552.0 311.1L558.0 318.9L558.0 326.0L559.4 334.0L558.5 340.0L559.4 342.0L564.0 343.0L576.0 351.4L590.0 353.3L600.0 358.7L604.0 359.7L612.0 360.0L622.0 364.0L629.7 370.0L638.0 379.3L642.8 386.0L648.7 392.0L654.3 396.0L660.0 398.6L662.0 397.6L664.0 393.7L666.0 392.9L670.0 394.2L676.0 397.6L680.0 398.6L700.0 397.3L708.0 394.7L710.0 392.3L714.0 384.3L723.6 376.0L727.6 368.0L733.0 362.0L733.5 360.0L733.1 356.0L734.3 354.0L737.3 352.0L744.0 349.5L750.0 344.7L752.0 343.8L756.0 343.7L762.0 345.9L768.0 346.6L770.0 344.4L771.3 340.0L774.0 339.5L772.5 340.0L771.2 342.0L770.0 351.4L768.0 355.0L758.0 355.1L752.0 353.1L750.0 353.3L748.0 354.5L745.2 358.0L742.0 368.0L739.6 372.0L730.6 380.0L719.4 388.0L716.0 396.0L714.0 397.7L702.0 401.6L682.0 403.6L680.0 403.1L672.0 398.7L668.0 397.4L666.0 397.4L662.0 400.1L660.0 400.0L648.0 394.2L640.4 388.0L634.0 379.8L626.0 372.8L622.0 370.0L614.0 366.8L602.0 364.8L588.0 358.8L572.0 360.6L570.0 360.5L566.0 358.7L559.5 358.0L556.5 356.0L555.1 354.0L548.0 335.0L542.0 330.5L536.0 321.6L533.6 312.0L532.0 310.8L524.0 307.5L518.0 301.2L512.0 296.8L500.0 295.8L484.0 283.6L478.0 280.6L474.0 280.7L468.0 277.0L464.6 276.0L458.0 276.2L448.0 278.4L442.0 278.9L430.0 281.9L424.0 280.0L416.0 280.3L402.0 277.7L378.0 278.1L354.0 276.9L340.0 277.4L324.3 280.0L310.0 287.3L302.0 289.9L298.0 290.3L292.0 289.4L280.0 291.2L254.0 288.9L248.6 286.0L242.7 280.0L238.0 276.5L232.0 274.2L226.0 273.7L220.0 270.1L218.0 269.7L205.9 282.0L205.4 290.0L207.1 298.0L206.2 300.0L202.0 304.3L200.0 305.4L196.0 306.2L192.0 304.9L186.0 301.2L180.7 294.0L174.0 281.5L170.0 278.7L166.0 277.3L162.0 277.3L158.0 278.2L150.0 282.8L144.0 283.8L122.0 280.7L112.0 281.3L100.0 284.1L90.0 289.8L82.0 286.2L76.0 286.3L70.0 284.7L66.0 284.9L66.0 283.6L70.0 283.5L76.0 284.8L82.0 284.8L90.0 288.7L94.0 286.8L100.0 282.5L108.2 280.0L120.0 278.8L130.0 280.3L138.0 280.4L148.0 281.5L152.0 280.2L158.0 276.1L166.0 275.5L172.0 277.4L175.3 280.0L181.2 292.0L187.0 300.0L194.0 304.7L198.0 305.5L202.0 303.8L205.4 300.0L206.1 298.0L204.0 290.0L204.1 282.0L211.1 274.0L211.8 272.0L211.1 266.0L212.0 262.7L217.2 258.0Z" fill="#f0ff10" stroke="#f0ff10" stroke-width="0.6" fill-rule="evenodd"/>
<path d="M218.0 269.7L220.0 270.1L226.0 273.7L232.0 274.2L238.0 276.5L242.7 280.0L248.6 286.0L254.0 288.9L280.0 291.2L292.0 289.4L298.0 290.3L302.0 289.9L310.0 287.3L324.3 280.0L340.0 277.4L354.0 276.9L378.0 278.1L402.0 277.7L416.0 280.3L424.0 280.0L430.0 281.9L442.0 278.9L448.0 278.4L456.0 276.5L462.0 275.8L466.0 276.3L474.0 280.7L478.0 280.6L484.0 283.6L500.0 295.8L512.0 296.8L518.0 301.2L524.0 307.5L532.0 310.8L533.6 312.0L536.0 321.6L542.0 330.5L548.0 335.0L555.1 354.0L556.5 356.0L559.5 358.0L566.0 358.7L570.0 360.5L572.0 360.6L588.0 358.8L602.0 364.8L614.0 366.8L622.0 370.0L626.0 372.8L634.0 379.8L640.4 388.0L648.0 394.2L660.0 400.0L662.0 400.1L666.0 397.4L668.0 397.4L672.0 398.7L680.0 403.1L682.0 403.6L702.0 401.6L714.0 397.7L716.0 396.0L719.4 388.0L730.6 380.0L739.6 372.0L742.0 368.0L745.2 358.0L748.0 354.5L750.0 353.3L752.0 353.1L758.0 355.1L768.0 355.0L770.0 351.4L771.2 342.0L772.5 340.0L774.0 339.8L772.0 342.0L770.0 361.2L768.0 364.9L758.0 364.8L752.0 363.7L750.0 366.0L744.8 376.0L734.0 385.2L727.1 390.0L724.4 396.0L719.3 402.0L716.0 403.6L710.0 404.2L704.0 406.7L696.0 406.6L684.0 408.3L680.0 406.9L672.0 401.9L666.0 401.2L662.0 401.9L648.0 396.8L637.8 390.0L630.0 381.4L622.0 375.8L612.0 371.7L600.0 370.3L588.0 364.7L580.0 365.6L568.0 368.2L558.0 365.7L556.0 366.1L550.0 370.7L548.0 371.1L537.9 370.0L535.3 368.0L533.8 364.0L535.9 354.0L538.3 348.0L537.9 340.0L536.0 336.6L530.0 333.8L522.5 326.0L520.0 320.0L516.9 316.0L513.8 310.0L511.6 308.0L508.0 306.8L500.0 306.3L496.0 305.1L486.0 298.0L482.0 291.8L478.0 290.4L470.0 285.5L462.0 282.0L456.0 282.5L448.0 285.5L442.0 285.3L436.0 288.6L424.0 285.5L416.0 285.6L392.0 281.1L364.0 281.9L340.0 279.9L326.0 282.7L316.1 290.0L310.7 296.0L308.0 297.0L298.0 296.4L292.0 293.6L290.0 293.3L280.0 295.0L264.0 295.8L258.0 297.0L252.0 296.4L247.0 294.0L244.0 291.2L238.0 282.9L236.0 281.3L234.0 280.7L228.0 282.6L220.0 282.5L214.0 279.4L210.0 280.8L207.4 284.0L206.9 290.0L208.3 296.0L207.1 300.0L202.0 304.8L196.0 307.1L191.5 306.0L184.3 302.0L180.0 296.0L173.5 284.0L170.0 281.2L166.0 279.4L162.0 279.4L158.0 280.3L150.0 284.4L144.0 286.1L130.0 284.6L122.0 282.8L112.0 283.6L100.5 286.0L90.0 291.1L82.0 287.4L76.0 287.4L70.0 285.9L66.0 286.0L66.0 284.9L70.0 284.7L76.0 286.3L82.0 286.2L90.0 289.8L100.0 284.1L112.0 281.3L122.0 280.7L144.0 283.8L150.0 282.8L158.0 278.2L162.0 277.3L166.0 277.3L170.0 278.7L174.0 281.5L180.7 294.0L186.0 301.2L192.0 304.9L196.0 306.2L200.0 305.4L202.0 304.3L206.2 300.0L207.1 298.0L205.4 290.0L205.9 282.0L217.7 270.0ZM218.0 547.9L224.3 548.0L231.5 550.0L212.3 550.0L216.8 548.0Z" fill="#f6ff10" stroke="#f6ff10" stroke-width="0.6" fill-rule="evenodd"/>
<path d="M160.0 279.8L166.0 279.4L172.0 282.5L174.8 286.0L180.0 296.0L184.0 301.7L191.5 306.0L196.0 307.1L202.0 304.8L207.1 300.0L208.3 296.0L206.9 290.0L207.4 284.0L210.0 280.8L214.0 279.4L220.0 282.5L228.0 282.6L234.0 280.7L236.0 281.3L238.0 282.9L244.0 291.2L247.0 294.0L252.0 296.4L258.0 297.0L264.0 295.8L280.0 295.0L290.0 293.3L292.0 293.6L298.0 296.4L308.0 297.0L310.7 296.0L316.1 290.0L326.0 282.7L340.0 279.9L364.0 281.9L392.0 281.1L416.0 285.6L424.0 285.5L436.0 288.6L442.0 285.3L448.0 285.5L456.0 282.5L462.0 282.0L470.0 285.5L478.0 290.4L482.0 291.8L486.0 298.0L496.0 305.1L500.0 306.3L508.0 306.8L511.6 308.0L513.8 310.0L516.9 316.0L520.0 320.0L522.5 326.0L530.0 333.8L536.0 336.6L537.9 340.0L538.3 348.0L535.9 354.0L533.8 364.0L535.3 368.0L537.9 370.0L548.0 371.1L550.0 370.7L556.0 366.1L558.0 365.7L568.0 368.2L580.0 365.6L588.0 364.7L600.0 370.3L612.0 371.7L622.0 375.8L630.0 381.4L637.8 390.0L648.0 396.8L662.0 401.9L666.0 401.2L672.0 401.9L680.0 406.9L684.0 408.3L696.0 406.6L704.0 406.7L710.0 404.2L716.0 403.6L719.3 402.0L724.4 396.0L727.1 390.0L734.0 385.2L744.8 376.0L750.0 366.0L752.0 363.7L758.0 364.8L768.0 364.9L770.0 361.2L772.0 342.0L774.0 339.8L772.5 342.0L772.3 344.0L770.0 374.2L768.0 376.6L758.0 375.1L754.0 375.8L744.0 384.5L740.0 389.8L734.0 394.4L726.0 405.9L722.0 408.8L718.0 409.8L712.0 410.1L704.0 412.8L694.0 412.2L686.0 412.9L682.0 411.3L672.0 405.3L664.0 404.4L656.0 401.3L644.0 398.4L628.0 386.9L620.0 385.1L616.1 380.0L612.0 377.8L608.0 377.8L604.0 379.6L598.0 378.0L592.0 374.7L586.0 373.9L583.0 376.0L580.0 376.7L570.0 377.3L560.0 376.4L552.0 380.8L548.0 381.6L540.0 379.0L530.0 378.0L522.0 375.1L513.1 374.0L505.7 368.0L504.2 366.0L503.1 362.0L502.8 356.0L504.0 355.3L506.0 356.1L508.0 356.0L509.4 352.0L512.0 350.6L520.0 352.4L522.7 352.0L523.3 350.0L518.0 345.5L509.2 332.0L500.0 322.0L496.0 321.0L494.3 322.0L494.6 324.0L497.8 330.0L496.0 333.3L494.0 334.0L485.7 328.0L484.2 326.0L483.3 322.0L480.1 316.0L477.5 306.0L475.7 302.0L468.0 294.7L466.0 294.3L462.0 295.9L460.0 296.0L458.0 294.5L456.0 290.8L446.0 293.7L440.0 297.8L438.0 297.9L426.0 291.3L422.0 290.5L410.0 290.2L398.0 287.5L392.0 285.0L366.0 286.6L358.0 286.2L352.0 287.1L344.0 283.7L340.0 283.4L328.0 285.5L320.0 291.8L315.5 298.0L312.0 301.1L306.0 304.1L300.0 304.4L296.0 303.4L288.0 298.5L272.0 299.0L260.0 300.7L248.0 299.9L242.0 297.2L238.0 291.8L236.0 290.7L230.0 291.8L224.0 291.7L218.0 289.3L212.0 285.8L210.0 286.0L209.1 288.0L209.5 298.0L202.0 305.4L196.0 308.1L192.0 307.4L184.0 303.9L179.2 298.0L172.5 286.0L170.0 283.8L166.0 281.8L162.0 281.6L158.0 282.5L142.0 289.1L132.0 288.7L126.0 290.1L120.0 288.5L112.0 290.8L104.0 289.5L94.0 291.9L89.2 294.0L89.4 296.0L88.0 297.1L86.7 296.0L87.4 294.0L87.3 292.0L84.0 289.7L82.0 288.9L74.0 289.2L70.0 287.8L66.0 288.0L66.0 286.0L70.0 285.9L76.0 287.4L82.0 287.4L90.0 291.1L100.5 286.0L112.0 283.6L122.0 282.8L130.0 284.6L144.0 286.1L150.0 284.4L159.2 280.0ZM86.0 300.8L86.6 302.0L86.0 302.8L84.5 302.0ZM488.0 339.5L490.0 338.7L491.1 340.0L488.0 341.0L487.2 340.0ZM216.0 523.3L218.0 522.9L224.0 524.2L232.0 524.0L236.0 524.8L237.6 526.0L238.0 528.0L236.0 537.1L235.2 538.0L218.0 539.5L214.0 539.5L210.0 538.6L209.1 538.0L209.0 534.0L215.0 524.0ZM206.0 547.3L218.0 546.5L230.0 546.7L246.0 547.8L250.0 549.4L252.0 549.5L274.0 549.4L284.0 548.7L300.0 549.3L332.0 549.2L333.8 550.0L231.5 550.0L224.3 548.0L220.0 547.9L216.8 548.0L212.3 550.0L205.2 550.0L205.3 548.0Z" fill="#faff0c" stroke="#faff0c" stroke-width="0.6" fill-rule="evenodd"/>
<path d="M160.0 282.0L166.0 281.8L170.3 284.0L174.0 288.0L182.0 302.1L184.1 304.0L188.2 306.0L196.0 308.1L202.0 305.4L209.5 298.0L209.1 288.0L210.0 286.0L212.0 285.8L218.0 289.3L224.0 291.7L230.0 291.8L236.0 290.7L238.0 291.8L242.0 297.2L248.0 299.9L260.0 300.7L272.0 299.0L288.0 298.5L296.0 303.4L300.0 304.4L306.0 304.1L312.0 301.1L315.5 298.0L320.0 291.8L328.0 285.5L340.0 283.4L344.0 283.7L352.0 287.1L358.0 286.2L366.0 286.6L392.0 285.0L398.0 287.5L410.0 290.2L422.0 290.5L426.0 291.3L438.0 297.9L440.0 297.8L446.0 293.7L456.0 290.8L458.0 294.5L460.0 296.0L462.0 295.9L466.0 294.3L468.0 294.7L475.7 302.0L477.5 306.0L480.1 316.0L483.3 322.0L484.2 326.0L485.7 328.0L494.0 334.0L496.0 333.3L497.8 330.0L494.6 324.0L494.3 322.0L496.0 321.0L500.0 322.0L509.2 332.0L518.0 345.5L523.3 350.0L522.7 352.0L520.0 352.4L512.0 350.6L509.4 352.0L508.0 356.0L506.0 356.1L504.0 355.3L502.8 356.0L503.1 362.0L504.2 366.0L505.7 368.0L513.1 374.0L522.0 375.1L530.0 378.0L540.0 379.0L548.0 381.6L552.0 380.8L560.0 376.4L570.0 377.3L580.0 376.7L583.0 376.0L586.0 373.9L592.0 374.7L598.0 378.0L604.0 379.6L608.0 377.8L612.0 377.8L616.1 380.0L620.0 385.1L628.0 386.9L644.0 398.4L656.0 401.3L664.0 404.4L672.0 405.3L682.0 411.3L686.0 412.9L694.0 412.2L704.0 412.8L712.0 410.1L718.0 409.8L722.0 408.8L726.0 405.9L734.0 394.4L740.0 389.8L744.0 384.5L754.0 375.8L758.0 375.1L768.0 376.6L770.0 374.2L772.3 344.0L772.5 342.0L774.0 340.2L772.7 344.0L770.7 378.0L770.0 381.8L768.0 383.8L760.0 383.2L756.0 385.2L751.6 390.0L747.8 396.0L739.5 402.0L734.0 412.6L732.0 414.5L722.0 417.1L714.0 416.3L704.0 418.2L690.0 419.2L686.0 417.8L674.0 409.5L666.0 407.9L656.0 403.8L642.0 403.1L636.0 398.9L624.0 394.4L614.0 392.6L602.0 388.8L596.0 384.5L592.0 384.5L588.0 386.2L584.0 386.9L582.0 386.6L576.0 383.8L566.0 384.6L550.0 389.1L548.0 388.9L542.0 385.4L536.0 383.5L518.0 382.3L510.0 380.2L498.8 376.0L496.0 372.0L495.8 368.0L494.1 364.0L488.0 356.7L484.0 354.2L476.0 352.2L470.0 348.9L466.0 344.6L463.3 340.0L462.8 336.0L466.0 330.0L470.0 326.0L470.4 324.0L466.2 316.0L465.1 310.0L460.8 310.0L454.0 311.8L450.0 311.3L444.0 313.4L442.0 313.4L420.0 301.3L412.0 300.0L404.0 297.2L400.0 295.1L394.0 293.8L388.0 291.1L384.0 290.4L366.0 293.4L358.0 294.0L352.0 296.7L350.0 296.9L348.0 295.8L344.0 290.6L342.0 289.2L330.0 289.2L322.0 293.6L317.0 300.0L310.0 305.9L306.0 308.0L300.0 309.3L294.2 308.0L290.0 303.8L286.0 302.2L272.0 302.0L260.0 303.3L254.0 303.1L248.0 304.1L234.0 300.4L220.0 300.0L218.0 298.5L216.0 298.1L212.0 298.4L210.0 299.3L200.0 307.3L196.0 309.2L194.0 309.1L186.0 306.7L182.0 304.7L178.0 299.3L171.5 288.0L166.0 284.4L162.0 284.0L154.0 285.9L145.8 290.0L140.0 294.0L134.0 295.6L131.3 298.0L126.0 305.4L124.0 306.4L116.0 301.9L108.0 302.1L90.0 299.9L87.7 304.0L84.9 306.0L84.4 310.0L80.0 314.2L74.0 316.4L66.0 318.1L66.0 288.0L70.0 287.8L74.0 289.2L82.0 288.9L84.0 289.7L87.3 292.0L87.4 294.0L86.7 296.0L88.0 297.1L89.4 296.0L89.2 294.0L94.0 291.9L104.0 289.5L112.0 290.8L120.0 288.5L126.0 290.1L132.0 288.7L142.0 289.1L159.9 282.0ZM84.5 302.0L86.0 302.8L86.6 302.0L86.0 300.8ZM487.2 340.0L488.0 341.0L491.1 340.0L490.0 338.7L488.0 339.5ZM218.0 423.6L219.9 424.0L219.9 426.0L218.0 429.7L216.0 428.5L215.3 426.0L217.2 424.0ZM222.0 505.9L228.0 505.1L229.3 506.0L233.8 514.0L237.7 516.0L244.0 516.8L246.0 516.4L250.0 512.3L252.0 512.1L262.0 517.0L263.4 520.0L263.3 522.0L261.1 528.0L263.2 536.0L262.5 538.0L256.0 538.8L248.0 538.5L240.0 540.0L222.0 540.9L212.0 541.0L206.5 540.0L204.9 538.0L204.4 534.0L204.8 530.0L206.0 527.2L214.0 509.6L216.0 507.8L221.6 506.0ZM215.0 524.0L209.0 534.0L209.1 538.0L210.0 538.6L214.0 539.5L218.0 539.5L235.2 538.0L236.0 537.1L238.0 528.0L237.6 526.0L236.0 524.8L232.0 524.0L224.0 524.2L218.0 522.9L216.0 523.3ZM206.0 545.6L222.0 545.3L240.0 545.9L246.0 546.5L252.0 548.2L330.2 548.0L332.0 548.1L334.7 550.0L332.0 549.2L300.0 549.3L284.0 548.7L274.0 549.4L252.0 549.5L244.0 547.6L220.0 546.4L206.0 547.3L205.3 548.0L205.2 550.0L203.9 550.0L203.8 548.0L204.6 546.0Z" fill="#fdff04" stroke="#fdff04" stroke-width="0.6" fill-rule="evenodd"/>
<path d="M162.0 284.0L166.0 284.4L171.5 288.0L178.0 299.3L182.0 304.7L186.0 306.7L194.0 309.1L196.0 309.2L200.0 307.3L210.0 299.3L212.0 298.4L216.0 298.1L218.0 298.5L220.0 300.0L234.0 300.4L248.0 304.1L254.0 303.1L260.0 303.3L272.0 302.0L286.0 302.2L290.0 303.8L294.2 308.0L300.0 309.3L308.0 307.2L317.0 300.0L322.0 293.6L330.0 289.2L334.0 288.8L342.0 289.2L344.0 290.6L348.0 295.8L350.0 296.9L352.0 296.7L358.0 294.0L366.0 293.4L380.0 290.7L386.0 290.6L394.0 293.8L400.0 295.1L404.0 297.2L412.0 300.0L420.0 301.3L442.0 313.4L444.0 313.4L450.0 311.3L454.0 311.8L460.8 310.0L465.1 310.0L466.2 316.0L470.4 324.0L470.0 326.0L466.0 330.0L463.4 334.0L462.8 338.0L464.3 342.0L468.0 347.2L470.0 348.9L476.0 352.2L484.0 354.2L488.0 356.7L494.1 364.0L495.8 368.0L496.0 372.0L496.8 374.0L500.0 376.8L518.0 382.3L536.0 383.5L542.0 385.4L548.0 388.9L550.0 389.1L566.0 384.6L576.0 383.8L582.0 386.6L584.0 386.9L588.0 386.2L592.0 384.5L596.0 384.5L602.0 388.8L614.0 392.6L624.0 394.4L636.0 398.9L642.0 403.1L656.0 403.8L666.0 407.9L674.0 409.5L686.0 417.8L690.0 419.2L704.0 418.2L714.0 416.3L722.0 417.1L732.0 414.5L734.0 412.6L739.5 402.0L747.8 396.0L751.6 390.0L756.0 385.2L760.0 383.2L768.0 383.8L770.0 381.8L771.0 376.0L772.7 344.0L773.0 342.0L774.0 340.8L773.0 348.0L772.0 377.1L770.5 388.0L770.0 390.3L768.0 392.0L762.0 394.8L756.0 401.4L750.6 406.0L746.1 412.0L739.2 418.0L728.0 421.9L714.0 422.0L700.0 423.3L692.0 425.2L688.0 423.3L678.0 415.3L674.0 413.0L656.0 407.1L652.0 406.8L644.0 407.8L640.0 407.2L634.0 404.9L626.0 404.8L620.0 402.0L612.0 400.8L598.0 393.7L594.0 392.3L590.0 392.1L586.0 392.9L578.0 398.2L574.8 394.0L570.0 392.6L562.0 394.4L556.0 394.4L550.0 396.7L548.0 395.8L544.0 392.3L540.0 391.2L534.4 388.0L532.0 387.6L528.0 388.3L522.0 391.3L516.0 391.2L512.5 390.0L502.0 384.4L496.0 384.2L494.0 383.3L487.8 376.0L486.0 369.9L484.0 366.8L482.0 365.6L474.0 363.9L468.0 358.5L463.7 356.0L462.0 353.7L458.7 346.0L450.4 338.0L449.6 336.0L450.3 332.0L453.4 326.0L453.2 324.0L452.0 322.8L448.0 323.3L446.0 322.8L434.0 318.0L424.0 310.6L420.0 308.6L412.0 307.2L406.0 305.0L399.1 304.0L392.0 299.4L382.0 296.4L370.0 298.0L352.0 302.0L348.0 301.5L346.0 300.5L340.0 295.5L332.0 294.4L324.0 295.7L310.0 309.3L302.0 313.3L298.0 313.9L294.0 313.3L292.0 312.3L287.2 306.0L284.0 304.8L272.0 304.7L256.0 305.8L250.0 309.3L238.0 306.0L222.0 305.7L220.0 305.0L216.0 301.9L212.0 300.7L208.0 302.3L198.0 309.7L194.0 310.3L182.0 306.9L178.8 304.0L170.0 289.5L164.0 286.5L160.0 286.4L153.4 288.0L144.1 294.0L140.9 298.0L138.0 303.8L133.4 308.0L132.2 310.0L131.5 318.0L130.0 320.7L124.0 323.2L118.0 321.5L116.0 321.8L112.0 329.1L110.0 331.1L108.0 331.9L100.0 331.4L96.0 329.4L92.2 322.0L90.0 312.1L88.0 309.2L82.0 315.9L80.0 317.0L66.0 320.3L66.0 318.1L74.0 316.4L80.0 314.2L84.4 310.0L84.9 306.0L87.7 304.0L90.0 299.9L108.0 302.1L116.0 301.9L124.0 306.4L126.0 305.4L131.3 298.0L134.0 295.6L140.0 294.0L145.8 290.0L154.0 285.9L161.8 284.0ZM222.0 416.0L227.0 416.0L228.5 418.0L220.0 431.3L218.0 432.8L216.0 431.6L213.2 426.0L213.7 424.0L218.5 420.0L220.0 417.3L222.0 416.0ZM217.2 424.0L215.3 426.0L216.0 428.5L218.0 429.7L219.9 426.0L219.9 424.0L218.0 423.6ZM264.0 475.8L268.0 475.4L274.0 477.0L278.0 483.3L283.3 488.0L282.6 504.0L283.3 508.0L285.0 510.0L292.0 515.2L296.0 525.5L298.0 528.9L302.2 530.0L300.0 530.7L298.0 532.9L296.8 538.0L290.0 539.5L248.0 540.5L220.0 543.1L208.0 542.6L204.0 541.5L201.9 540.0L200.8 536.0L200.6 530.0L204.0 520.1L207.7 514.0L214.3 498.0L216.0 496.4L222.0 495.3L226.0 493.4L242.3 480.0L250.0 478.1L258.0 479.1L263.6 476.0ZM221.6 506.0L216.0 507.8L214.0 509.6L206.0 527.2L204.8 530.0L204.4 534.0L204.9 538.0L206.5 540.0L212.0 541.0L222.0 540.9L240.0 540.0L248.0 538.5L256.0 538.8L262.5 538.0L263.2 536.0L261.1 528.0L263.3 522.0L263.4 520.0L262.0 517.0L252.0 512.1L250.0 512.3L246.0 516.4L244.0 516.8L237.7 516.0L233.8 514.0L229.3 506.0L228.0 505.1L222.0 505.9ZM204.0 544.6L220.0 544.2L238.0 544.8L246.0 545.4L252.0 547.4L332.0 547.4L334.0 548.1L335.5 550.0L332.0 548.1L330.2 548.0L252.0 548.2L241.3 546.0L220.0 545.2L206.0 545.6L204.0 546.8L203.9 550.0L203.2 550.0L202.8 546.0Z" fill="#fffb00" stroke="#fffb00" stroke-width="0.6" fill-rule="evenodd"/>
<path d="M154.0 287.7L162.0 286.3L168.0 288.1L172.0 292.0L176.3 300.0L180.7 306.0L184.0 307.8L194.0 310.3L198.0 309.7L208.0 302.3L212.0 300.7L216.0 301.9L220.0 305.0L222.0 305.7L238.0 306.0L250.0 309.3L256.0 305.8L272.0 304.7L284.0 304.8L287.2 306.0L292.0 312.3L294.0 313.3L298.0 313.9L302.0 313.3L310.0 309.3L324.0 295.7L332.0 294.4L340.0 295.5L346.0 300.5L348.0 301.5L352.0 302.0L372.0 297.6L384.0 296.7L392.0 299.4L399.1 304.0L406.0 305.0L412.0 307.2L422.0 309.4L432.0 316.8L436.0 319.0L448.0 323.3L452.0 322.8L453.2 324.0L453.4 326.0L449.7 334.0L449.6 336.0L450.4 338.0L458.7 346.0L462.0 353.7L464.0 356.3L468.0 358.5L474.0 363.9L482.0 365.6L484.0 366.8L486.0 369.9L487.0 374.0L489.1 378.0L494.0 383.3L495.4 384.0L502.0 384.4L514.0 390.7L518.0 391.4L522.0 391.3L530.0 387.7L534.0 387.9L540.0 391.2L544.0 392.3L548.0 395.8L550.0 396.7L556.0 394.4L562.0 394.4L570.0 392.6L574.8 394.0L578.0 398.2L586.0 392.9L590.0 392.1L594.0 392.3L598.0 393.7L612.0 400.8L620.0 402.0L626.0 404.8L634.0 404.9L640.0 407.2L644.0 407.8L652.0 406.8L656.0 407.1L674.0 413.0L678.0 415.3L688.0 423.3L692.0 425.2L700.0 423.3L714.0 422.0L728.0 421.9L739.2 418.0L746.1 412.0L750.6 406.0L756.0 401.4L762.0 394.8L768.0 392.0L770.0 390.3L772.0 377.1L773.0 348.0L774.0 341.4L771.9 388.0L770.0 398.8L768.2 402.0L764.0 404.0L762.2 406.0L758.0 413.7L749.9 420.0L745.7 422.0L730.0 426.5L726.0 426.9L716.0 426.3L708.0 428.4L702.0 428.3L694.0 430.2L686.6 426.0L676.0 417.3L666.0 412.9L656.0 410.7L652.0 410.4L646.0 411.6L642.0 411.6L634.0 409.8L624.0 409.6L616.0 408.4L608.0 410.5L606.0 409.6L600.0 403.1L598.0 402.1L588.0 402.5L580.0 407.1L578.0 407.4L574.0 406.3L568.0 402.2L566.0 401.9L558.0 405.1L552.0 404.6L548.0 402.4L544.0 398.8L536.0 397.7L530.7 396.0L520.0 398.1L508.0 394.4L498.0 392.3L488.0 392.0L482.0 393.5L480.0 393.0L475.7 388.0L470.0 385.5L469.0 384.0L468.3 376.0L466.0 369.7L464.0 366.9L459.3 364.0L454.4 358.0L452.0 357.3L444.0 358.3L433.6 352.0L432.6 350.0L431.2 340.0L432.3 336.0L435.7 330.0L435.7 328.0L434.5 326.0L422.0 317.0L414.0 315.6L406.0 313.1L400.0 314.9L398.0 314.6L389.7 308.0L386.0 306.8L378.0 305.8L372.0 303.4L368.0 303.5L360.0 306.0L354.0 306.0L346.0 304.5L334.0 299.8L324.0 299.4L315.8 306.0L312.0 311.7L306.0 317.5L304.0 318.4L296.0 318.9L292.0 317.7L289.5 316.0L287.7 314.0L285.9 310.0L284.1 308.0L282.0 307.5L258.0 308.3L252.0 313.4L248.0 314.3L242.0 313.8L236.0 311.9L230.0 312.3L222.0 311.4L218.0 309.3L214.0 304.3L212.0 303.2L208.0 304.0L199.9 310.0L196.0 311.6L184.0 309.8L180.0 308.0L177.8 306.0L170.7 294.0L168.0 291.0L162.0 288.7L156.0 289.2L153.4 290.0L147.3 294.0L144.0 298.0L143.4 304.0L141.2 310.0L140.6 316.0L144.0 324.0L144.5 326.0L143.7 328.0L139.0 334.0L128.0 337.2L122.0 340.6L120.5 342.0L118.0 350.3L116.5 348.0L116.6 344.0L116.0 343.3L96.0 337.2L93.8 336.0L90.3 332.0L85.5 320.0L84.0 319.0L81.3 320.0L81.4 324.0L78.9 326.0L76.0 330.1L73.9 328.0L72.4 322.0L66.0 322.0L66.0 320.3L74.0 318.8L81.9 316.0L88.0 309.2L90.0 312.1L92.2 322.0L96.0 329.4L100.0 331.4L108.0 331.9L110.0 331.1L112.0 329.1L116.0 321.8L118.0 321.5L124.0 323.2L130.0 320.7L131.5 318.0L132.2 310.0L133.4 308.0L138.0 303.8L140.9 298.0L144.1 294.0L153.4 288.0ZM226.0 409.7L232.0 409.3L235.5 410.0L237.2 412.0L237.7 414.0L237.4 416.0L234.4 420.0L224.0 429.6L220.7 434.0L218.0 435.0L216.0 433.6L213.4 430.0L211.7 426.0L211.7 424.0L215.5 420.0L216.4 414.0L218.0 412.0L224.8 410.0ZM222.0 416.0L220.0 417.3L218.5 420.0L213.7 424.0L213.2 426.0L216.0 431.6L218.0 432.8L220.0 431.3L228.5 418.0L227.0 416.0L222.0 416.0ZM270.0 457.9L278.0 457.6L284.0 458.8L286.8 462.0L288.0 470.5L290.0 472.2L293.5 470.0L308.0 464.2L316.0 464.0L317.8 466.0L319.3 474.0L318.5 478.0L316.0 479.1L312.0 478.7L308.0 480.8L306.0 483.6L303.6 492.0L300.8 496.0L299.3 500.0L300.0 502.6L305.7 506.0L307.6 508.0L310.0 514.0L314.0 518.3L315.2 522.0L315.4 530.0L317.6 534.0L320.0 536.0L320.1 538.0L308.3 540.0L290.0 541.0L248.0 541.7L244.4 542.0L240.5 544.0L246.0 544.5L252.0 546.7L332.0 546.8L334.0 547.3L336.2 550.0L335.5 550.0L334.0 548.1L332.0 547.4L252.0 547.4L244.0 545.2L220.0 544.2L204.0 544.6L202.8 546.0L203.2 550.0L202.4 550.0L201.7 544.0L197.6 540.0L197.0 538.0L196.6 530.0L201.5 518.0L204.6 512.0L209.0 498.0L212.0 491.9L216.0 487.8L222.3 484.0L238.3 468.0L252.0 463.0L260.0 462.6L266.0 459.1L269.6 458.0ZM263.6 476.0L258.0 479.1L250.0 478.1L242.3 480.0L226.0 493.4L222.0 495.3L216.0 496.4L214.3 498.0L207.7 514.0L204.0 520.1L200.6 530.0L200.8 536.0L201.9 540.0L204.0 541.5L208.0 542.6L220.0 543.1L248.0 540.5L290.0 539.5L296.8 538.0L298.0 532.9L300.0 530.7L302.2 530.0L298.0 528.9L296.0 525.5L292.0 515.2L285.0 510.0L283.3 508.0L282.6 504.0L283.3 488.0L278.0 483.3L274.0 477.0L268.0 475.4L264.0 475.8Z" fill="#fff200" stroke="#fff200" stroke-width="0.6" fill-rule="evenodd"/>
<path d="M154.0 289.7L162.0 288.7L166.2 290.0L170.0 293.0L176.4 304.0L180.0 308.0L184.0 309.8L194.0 311.6L198.0 311.1L208.0 304.0L212.0 303.2L214.0 304.3L218.0 309.3L222.0 311.4L230.0 312.3L236.0 311.9L242.0 313.8L248.0 314.3L252.0 313.4L258.0 308.3L282.0 307.5L284.1 308.0L285.9 310.0L287.7 314.0L290.0 316.4L294.0 318.5L298.0 319.0L304.0 318.4L306.0 317.5L312.0 311.7L315.8 306.0L324.0 299.4L334.0 299.8L346.0 304.5L352.0 305.7L360.0 306.0L370.0 303.2L380.0 306.3L388.0 307.3L392.0 309.6L396.0 313.6L398.0 314.6L400.0 314.9L406.0 313.1L414.0 315.6L422.0 317.0L434.5 326.0L435.7 328.0L435.7 330.0L432.3 336.0L431.2 340.0L432.6 350.0L433.6 352.0L444.0 358.3L452.0 357.3L454.4 358.0L459.3 364.0L464.0 366.9L466.0 369.7L468.3 376.0L469.0 384.0L470.0 385.5L475.7 388.0L480.0 393.0L482.0 393.5L488.0 392.0L498.0 392.3L508.0 394.4L520.0 398.1L530.7 396.0L536.0 397.7L544.0 398.8L548.0 402.4L552.0 404.6L558.0 405.1L566.0 401.9L568.0 402.2L574.0 406.3L578.0 407.4L580.0 407.1L588.0 402.5L598.0 402.1L600.0 403.1L606.0 409.6L608.0 410.5L616.0 408.4L624.0 409.6L634.0 409.8L642.0 411.6L646.0 411.6L652.0 410.4L656.0 410.7L666.0 412.9L676.0 417.3L686.6 426.0L694.0 430.2L702.0 428.3L708.0 428.4L716.0 426.3L726.0 426.9L730.0 426.5L746.0 421.9L752.0 418.7L758.0 413.7L762.2 406.0L764.0 404.0L768.0 402.2L770.0 398.8L772.1 386.0L774.0 342.0L773.5 376.0L771.0 412.0L770.0 416.2L766.0 416.6L764.3 418.0L762.7 424.0L760.0 426.7L748.0 427.7L740.0 430.4L730.0 432.2L716.0 431.3L713.6 432.0L706.0 437.3L704.0 437.8L698.0 436.2L694.0 434.2L684.0 427.5L676.0 420.7L670.0 417.5L664.0 415.3L654.0 414.2L650.0 414.5L644.0 416.4L634.0 416.9L626.0 414.7L620.0 414.4L614.0 417.2L604.0 420.3L602.0 420.1L598.9 418.0L596.3 414.0L596.0 410.0L594.0 409.6L588.0 412.8L576.0 417.7L569.9 424.0L566.0 426.8L564.0 427.2L556.0 425.4L550.0 426.5L546.0 424.9L542.0 420.0L538.0 416.6L532.0 414.6L527.9 410.0L524.7 408.0L514.0 406.6L508.0 403.6L506.0 402.0L502.0 400.9L498.8 402.0L499.7 406.0L498.0 407.7L494.0 408.2L488.0 407.5L486.0 408.6L481.6 414.0L480.0 415.0L478.0 414.8L470.0 406.0L464.7 398.0L463.6 396.0L464.1 392.0L460.0 382.7L454.7 374.0L452.0 372.6L446.0 372.8L438.0 368.5L430.0 367.7L428.0 366.1L428.5 360.0L426.0 353.7L424.0 351.1L413.9 342.0L413.4 340.0L418.0 334.7L420.0 330.0L420.6 328.0L420.2 326.0L418.2 324.0L410.0 321.5L400.0 323.2L396.0 323.0L384.0 316.9L382.2 318.0L383.4 324.0L380.4 330.0L380.0 334.0L378.0 334.1L378.0 331.4L378.8 330.0L377.5 328.0L374.0 324.6L368.0 323.3L366.1 322.0L364.0 318.2L362.0 316.3L358.0 318.6L354.0 319.6L352.0 319.3L348.0 317.1L346.0 316.9L340.0 318.4L337.1 316.0L335.1 310.0L332.0 306.4L330.0 305.5L324.0 304.6L320.3 306.0L318.0 308.0L316.3 312.0L316.0 316.5L320.0 321.2L321.4 324.0L321.5 326.0L320.0 327.5L318.0 328.1L308.0 327.9L302.0 324.4L296.0 323.4L286.1 320.0L283.4 318.0L282.0 311.8L278.0 310.5L272.0 311.0L268.0 312.5L260.0 312.0L254.0 317.8L250.0 319.8L246.0 320.6L240.0 320.5L232.5 318.0L222.0 316.2L216.0 316.8L214.0 316.2L212.0 313.3L208.0 311.8L202.0 311.7L196.0 313.6L188.0 313.3L185.1 314.0L183.0 318.0L177.1 322.0L172.0 324.4L170.7 324.0L176.8 318.0L177.2 316.0L172.0 301.9L168.5 296.0L166.0 293.6L162.0 291.9L156.0 292.0L152.0 294.0L147.9 298.0L149.4 308.0L158.2 324.0L159.7 328.0L156.9 332.0L154.5 338.0L152.0 341.2L146.0 345.2L134.0 346.7L128.0 346.1L126.0 347.1L120.0 355.3L116.0 358.5L114.0 357.7L112.0 349.4L110.0 347.2L100.0 342.9L92.0 341.4L90.0 340.4L87.7 338.0L82.0 329.2L80.0 330.2L76.0 333.9L69.7 326.0L66.0 323.4L66.0 322.0L72.4 322.0L73.9 328.0L76.0 330.1L78.9 326.0L81.4 324.0L81.3 320.0L84.0 319.0L85.5 320.0L90.3 332.0L93.8 336.0L96.0 337.2L116.0 343.3L116.6 344.0L116.5 348.0L118.0 350.3L120.5 342.0L122.0 340.6L128.0 337.2L139.0 334.0L143.7 328.0L144.5 326.0L144.0 324.0L140.6 316.0L141.2 310.0L143.4 304.0L144.0 298.0L147.3 294.0L153.4 290.0ZM330.0 395.0L332.0 394.5L334.0 395.7L334.2 398.0L332.0 399.1L330.0 398.9L328.7 398.0L329.1 396.0ZM240.0 401.5L242.0 401.0L244.4 402.0L247.4 412.0L246.9 414.0L238.0 423.4L220.0 438.5L218.0 437.4L214.0 433.2L210.3 426.0L210.0 424.0L212.8 420.0L213.2 418.0L212.0 410.0L212.9 408.0L226.0 403.4L238.2 402.0ZM224.8 410.0L218.0 412.0L216.4 414.0L215.5 420.0L211.7 424.0L211.7 426.0L213.4 430.0L216.0 433.6L218.0 435.0L220.7 434.0L224.0 429.6L234.4 420.0L237.4 416.0L237.7 414.0L237.2 412.0L235.5 410.0L232.0 409.3L226.0 409.7ZM264.0 449.9L270.0 448.6L288.0 450.0L292.9 452.0L295.8 454.0L298.0 457.1L300.0 457.8L304.0 455.2L314.0 456.1L322.0 451.2L328.0 451.2L332.0 452.4L333.5 454.0L334.3 458.0L332.5 460.0L328.8 462.0L327.3 466.0L329.3 486.0L324.9 494.0L324.8 496.0L326.9 502.0L327.3 506.0L323.9 516.0L324.0 521.1L326.0 523.8L332.0 522.4L335.9 526.0L342.0 529.7L346.0 531.1L352.2 536.0L350.5 538.0L332.0 539.9L290.0 542.3L252.0 542.9L248.2 544.0L252.0 545.9L332.0 546.1L334.0 546.5L336.8 550.0L334.0 547.3L332.0 546.8L252.0 546.7L246.0 544.5L240.5 544.0L244.4 542.0L248.0 541.7L290.0 541.0L308.3 540.0L320.1 538.0L320.0 536.0L317.6 534.0L315.4 530.0L315.2 522.0L314.0 518.3L310.0 514.0L307.6 508.0L305.7 506.0L300.0 502.6L299.3 500.0L300.8 496.0L303.6 492.0L306.0 483.6L308.0 480.8L312.0 478.7L316.0 479.1L318.5 478.0L319.3 474.0L317.8 466.0L316.0 464.0L308.0 464.2L293.5 470.0L290.0 472.2L288.0 470.5L287.4 464.0L286.0 460.6L284.0 458.8L278.0 457.6L268.0 458.3L260.0 462.6L252.0 463.0L240.0 467.0L238.0 468.2L222.3 484.0L214.0 489.4L209.8 496.0L205.4 510.0L196.6 530.0L197.0 538.0L197.6 540.0L201.7 544.0L202.4 550.0L201.4 550.0L200.0 545.3L194.0 542.0L192.9 536.0L193.5 528.0L196.2 524.0L202.8 510.0L205.7 496.0L216.0 479.7L222.0 473.4L230.0 467.9L235.6 462.0L244.0 459.2L252.0 454.8L258.0 453.1L263.7 450.0Z" fill="#ffe706" stroke="#ffe706" stroke-width="0.6" fill-rule="evenodd"/>
<path d="M156.0 292.0L162.0 291.9L166.0 293.6L168.5 296.0L172.0 301.9L177.2 316.0L176.8 318.0L170.7 324.0L172.0 324.4L177.1 322.0L183.0 318.0L185.1 314.0L188.0 313.3L196.0 313.6L202.0 311.7L208.0 311.8L212.0 313.3L214.0 316.2L216.0 316.8L222.0 316.2L232.5 318.0L240.0 320.5L246.0 320.6L250.0 319.8L254.0 317.8L260.0 312.0L268.0 312.5L272.0 311.0L278.0 310.5L282.0 311.8L283.4 318.0L286.1 320.0L296.0 323.4L302.0 324.4L308.0 327.9L318.0 328.1L320.0 327.5L321.5 326.0L321.4 324.0L320.0 321.2L316.0 316.5L316.3 312.0L318.0 308.0L320.3 306.0L324.0 304.6L330.0 305.5L332.0 306.4L335.1 310.0L337.1 316.0L340.0 318.4L346.0 316.9L348.0 317.1L352.0 319.3L354.0 319.6L358.0 318.6L362.0 316.3L364.0 318.2L366.1 322.0L368.0 323.3L374.0 324.6L377.5 328.0L378.8 330.0L378.0 331.4L378.0 334.1L380.0 334.0L380.4 330.0L383.4 324.0L382.2 318.0L384.0 316.9L396.0 323.0L400.0 323.2L408.0 321.5L416.0 322.9L420.2 326.0L420.6 328.0L418.0 334.7L413.4 340.0L413.9 342.0L424.0 351.1L426.0 353.7L428.5 360.0L428.0 366.1L430.0 367.7L438.0 368.5L446.0 372.8L452.0 372.6L454.7 374.0L460.0 382.7L464.1 392.0L463.6 396.0L470.0 406.0L476.9 414.0L480.0 415.0L482.0 413.7L486.0 408.6L488.0 407.5L494.0 408.2L498.0 407.7L499.7 406.0L498.8 402.0L502.0 400.9L504.0 401.1L514.0 406.6L524.7 408.0L527.9 410.0L532.0 414.6L538.0 416.6L542.0 420.0L546.0 424.9L550.0 426.5L556.0 425.4L564.0 427.2L566.0 426.8L569.9 424.0L576.0 417.7L588.0 412.8L594.0 409.6L596.0 410.0L596.3 414.0L598.9 418.0L602.0 420.1L604.0 420.3L614.0 417.2L620.0 414.4L626.0 414.7L634.0 416.9L644.0 416.4L652.0 414.1L666.0 415.8L676.0 420.7L684.0 427.5L694.0 434.2L698.0 436.2L704.0 437.8L706.0 437.3L713.6 432.0L716.0 431.3L730.0 432.2L740.0 430.4L748.0 427.7L760.0 426.7L762.7 424.0L764.3 418.0L766.0 416.6L770.0 416.2L771.0 412.0L773.5 376.0L774.0 346.4L774.0 378.9L772.9 396.0L773.1 410.0L772.0 422.7L770.0 428.8L764.0 432.2L760.0 433.1L752.0 432.5L748.0 433.4L739.4 438.0L735.7 442.0L734.0 442.7L730.0 443.2L724.0 442.6L712.0 444.5L708.4 444.0L699.1 440.0L683.4 430.0L676.0 424.1L670.0 420.9L664.0 419.1L654.0 418.0L634.0 421.8L632.0 421.9L626.0 419.9L622.4 420.0L616.0 422.1L604.0 424.5L600.8 424.0L594.0 421.0L588.0 420.8L586.0 421.4L579.7 426.0L568.0 432.8L564.0 433.5L552.0 433.6L540.0 430.0L532.0 428.8L528.0 425.1L526.0 424.8L516.0 426.5L504.0 425.1L502.0 424.0L498.0 419.2L494.0 417.2L488.0 417.5L480.0 421.4L470.0 420.5L468.0 419.8L463.9 416.0L462.9 414.0L462.0 406.6L460.3 404.0L454.0 401.7L450.0 401.9L444.0 404.1L441.8 406.0L438.0 411.1L432.0 413.9L428.0 412.4L424.0 409.1L418.0 407.6L415.8 406.0L415.4 404.0L417.5 394.0L416.8 390.0L409.0 376.0L408.6 374.0L412.4 370.0L413.8 366.0L412.2 360.0L411.9 354.0L411.0 352.0L408.0 350.1L400.8 348.0L396.0 344.5L394.0 344.1L384.0 345.9L374.0 343.4L365.0 338.0L360.0 332.5L356.0 330.8L352.0 330.6L350.0 331.4L346.6 336.0L344.0 336.8L336.0 336.2L328.0 339.0L314.0 337.1L304.0 338.9L302.0 338.6L297.3 332.0L296.0 330.8L294.0 330.5L290.0 332.9L285.9 338.0L281.6 340.0L280.0 339.9L262.0 332.3L256.0 330.4L252.0 330.5L240.0 332.8L234.0 329.6L230.0 328.3L222.0 330.0L216.0 329.8L212.5 328.0L208.9 324.0L204.0 320.4L202.0 319.5L198.0 319.3L196.0 320.0L188.0 326.5L180.0 328.4L170.0 332.6L168.4 334.0L166.0 338.6L158.0 343.9L150.0 350.4L146.0 351.6L140.0 351.5L126.0 355.7L122.0 359.4L116.0 369.8L114.0 370.8L112.0 370.9L109.4 370.0L107.9 368.0L109.4 358.0L109.0 354.0L108.0 351.7L100.0 347.7L90.0 345.6L86.5 344.0L80.1 336.0L76.0 335.5L68.3 326.0L66.0 324.5L66.0 323.4L68.0 324.3L76.0 333.9L80.0 330.2L82.0 329.2L87.7 338.0L90.0 340.4L92.0 341.4L100.0 342.9L110.0 347.2L112.0 349.4L114.0 357.7L116.0 358.5L120.0 355.3L126.0 347.1L128.0 346.1L134.0 346.7L146.0 345.2L152.0 341.2L154.5 338.0L156.9 332.0L159.7 328.0L158.2 324.0L149.4 308.0L147.9 298.0L152.0 294.0L156.0 292.0ZM394.0 365.9L398.0 365.4L401.5 366.0L401.5 368.0L398.7 372.0L396.0 374.3L394.0 374.1L391.5 370.0L391.9 368.0L393.8 366.0ZM380.0 373.5L382.0 374.3L387.1 380.0L386.0 380.9L384.0 380.7L380.3 378.0L379.1 376.0L379.5 374.0ZM326.0 388.0L332.0 386.2L342.4 390.0L344.6 392.0L345.7 394.0L349.4 406.0L348.0 407.4L346.0 407.6L338.0 405.6L326.0 406.0L316.0 402.3L306.9 400.0L304.4 398.0L308.0 396.7L318.0 395.1L320.0 394.0L325.9 388.0ZM329.1 396.0L328.7 398.0L330.0 398.9L332.0 399.1L334.2 398.0L334.0 395.7L332.0 394.5L330.0 395.0ZM238.0 395.9L246.0 394.1L248.0 394.4L250.0 395.8L255.3 410.0L254.6 414.0L252.0 417.2L246.0 421.9L242.6 426.0L226.8 440.0L220.0 450.3L218.0 452.0L216.0 452.2L213.7 450.0L211.8 446.0L212.5 444.0L215.9 440.0L215.9 438.0L211.8 432.0L208.4 424.0L210.2 418.0L208.3 410.0L208.0 406.0L208.5 404.0L228.0 397.2L237.5 396.0ZM238.2 402.0L226.0 403.4L212.9 408.0L212.0 410.0L213.2 418.0L212.8 420.0L210.0 424.0L210.3 426.0L214.0 433.2L218.0 437.4L220.0 438.5L238.0 423.4L246.9 414.0L247.4 412.0L244.4 402.0L242.0 401.0L240.0 401.5ZM300.0 427.5L302.0 427.3L304.1 428.0L305.8 430.0L308.0 436.1L310.0 438.6L314.0 441.1L318.0 440.6L320.0 439.5L321.3 438.0L322.0 433.6L324.0 431.6L330.0 432.8L348.0 433.5L354.0 435.3L359.9 436.0L365.7 442.0L365.1 444.0L362.0 448.3L360.0 449.7L354.0 450.6L350.8 452.0L337.5 478.0L337.4 482.0L340.3 492.0L344.3 500.0L344.0 502.0L341.4 506.0L340.9 508.0L341.4 510.0L344.0 512.0L352.0 514.2L360.0 519.2L362.0 518.9L366.0 515.1L368.0 514.8L372.0 518.6L374.0 526.3L386.0 533.5L386.2 536.0L384.2 538.0L378.0 539.0L282.5 544.0L300.0 545.1L332.0 545.1L334.0 545.6L336.0 547.1L337.4 550.0L334.0 546.5L332.0 546.1L252.0 545.9L248.2 544.0L252.0 542.9L290.0 542.3L332.0 539.9L350.5 538.0L352.2 536.0L346.0 531.1L342.0 529.7L335.9 526.0L332.0 522.4L326.0 523.8L324.0 521.1L323.9 516.0L327.3 506.0L326.9 502.0L324.8 496.0L324.9 494.0L329.3 486.0L327.3 466.0L328.8 462.0L332.5 460.0L334.3 458.0L333.5 454.0L330.0 451.5L322.0 451.2L314.0 456.1L304.0 455.2L300.0 457.8L298.0 457.1L295.8 454.0L292.9 452.0L288.1 450.0L270.0 448.6L264.0 449.9L258.0 453.1L252.0 454.8L244.0 459.2L236.0 461.8L230.0 467.9L222.0 473.4L216.0 479.7L205.7 496.0L202.8 510.0L193.0 530.0L193.1 538.0L194.0 542.0L200.0 545.3L201.4 550.0L200.1 550.0L198.0 546.8L192.0 547.9L190.2 546.0L189.7 544.0L190.2 528.0L200.8 510.0L202.0 496.0L203.3 492.0L210.0 482.4L214.0 473.3L218.0 467.5L222.0 463.6L226.0 461.9L232.0 457.2L246.0 450.8L251.2 444.0L255.4 434.0L260.0 430.6L262.3 430.0L267.2 436.0L270.0 438.0L278.0 438.9L286.0 436.7L290.0 438.0L292.0 437.7L294.0 436.1L297.1 430.0L299.2 428.0ZM366.0 504.0L368.0 502.6L370.0 502.6L373.4 506.0L373.7 508.0L370.0 511.1L368.0 511.2L365.6 508.0L365.3 506.0L366.0 504.0ZM70.0 513.8L76.0 513.3L78.0 514.4L80.0 512.7L82.0 512.8L83.3 514.0L84.2 516.0L83.9 520.0L82.0 527.3L80.0 529.1L78.0 525.3L76.5 524.0L72.0 524.9L66.0 521.6L66.0 515.1L69.0 514.0ZM68.0 531.3L72.0 531.4L73.2 532.0L74.0 534.0L73.4 536.0L76.0 536.9L80.0 534.9L84.0 536.5L90.0 537.6L98.0 534.2L102.0 534.6L104.7 536.0L110.0 540.5L112.0 541.3L118.0 541.0L124.0 543.3L127.9 546.0L128.4 550.0L101.4 550.0L100.0 547.8L97.5 550.0L66.0 550.0L66.0 541.9L70.0 540.6L71.7 538.0L70.0 536.5L66.0 535.4L66.0 531.6Z" fill="#ffd914" stroke="#ffd914" stroke-width="0.6" fill-rule="evenodd"/>
<path d="M198.0 319.3L202.0 319.5L204.0 320.4L208.9 324.0L212.5 328.0L216.0 329.8L222.0 330.0L230.0 328.3L234.0 329.6L240.0 332.8L252.0 330.5L256.0 330.4L262.0 332.3L280.0 339.9L284.0 339.3L286.0 337.9L290.0 332.9L294.0 330.5L296.0 330.8L297.3 332.0L302.0 338.6L304.0 338.9L314.0 337.1L328.0 339.0L336.0 336.2L344.0 336.8L346.0 336.4L349.2 332.0L352.0 330.6L354.0 330.5L360.0 332.5L365.0 338.0L376.0 344.2L384.0 345.9L392.0 344.2L396.0 344.5L400.8 348.0L410.0 351.1L411.9 354.0L412.2 360.0L413.8 366.0L412.4 370.0L408.6 374.0L410.0 378.0L415.0 386.0L417.3 392.0L417.5 394.0L415.4 404.0L415.8 406.0L418.0 407.6L424.0 409.1L428.0 412.4L432.0 413.9L438.0 411.1L441.8 406.0L444.0 404.1L450.0 401.9L454.0 401.7L460.3 404.0L462.0 406.6L462.9 414.0L463.9 416.0L468.0 419.8L470.0 420.5L480.0 421.4L488.0 417.5L494.0 417.2L498.0 419.2L502.0 424.0L504.0 425.1L516.0 426.5L526.0 424.8L528.0 425.1L532.0 428.8L540.0 430.0L550.0 433.2L554.0 433.7L568.0 432.8L579.7 426.0L586.0 421.4L588.0 420.8L594.0 421.0L600.8 424.0L604.0 424.5L616.0 422.1L622.4 420.0L626.0 419.9L632.0 421.9L634.0 421.8L654.0 418.0L664.0 419.1L672.0 421.8L696.0 438.2L708.4 444.0L714.0 444.4L724.0 442.6L732.0 443.1L735.7 442.0L739.4 438.0L748.0 433.4L752.0 432.5L762.0 432.8L770.0 428.8L772.0 422.7L772.8 416.0L772.9 396.0L774.0 378.9L774.0 428.7L772.0 433.1L768.0 436.1L764.0 437.5L756.0 438.6L748.0 440.9L738.0 444.9L732.0 445.8L722.0 445.5L712.0 446.2L708.0 445.5L696.0 440.3L672.0 424.8L666.0 422.9L654.0 421.3L650.0 421.6L640.0 424.1L632.0 426.9L624.0 426.0L604.0 428.6L596.0 427.0L590.0 427.5L588.0 428.4L582.0 433.6L572.0 438.0L564.0 437.9L554.0 439.9L550.0 440.0L542.0 437.2L534.0 436.3L530.0 436.8L522.0 439.7L516.0 438.2L514.0 438.6L510.0 441.9L508.0 441.9L505.4 440.0L502.0 434.7L494.0 430.6L488.0 429.5L476.0 431.3L464.0 430.3L462.0 429.7L460.4 428.0L458.4 424.0L456.4 422.0L454.0 421.2L448.0 423.8L438.0 425.7L430.6 424.0L422.0 420.0L410.0 419.6L405.7 426.0L402.0 428.5L398.0 429.9L396.0 429.7L394.0 428.2L390.0 421.2L388.0 419.0L386.0 418.2L382.0 418.4L379.2 420.0L378.2 422.0L378.3 424.0L382.0 435.7L384.0 437.8L388.2 440.0L387.7 446.0L386.0 448.2L378.0 448.1L375.4 450.0L375.2 458.0L372.5 464.0L369.7 474.0L373.6 480.0L375.7 488.0L380.6 496.0L382.7 498.0L388.4 500.0L393.2 504.0L393.6 506.0L391.5 510.0L391.5 512.0L392.5 514.0L396.0 516.9L400.0 518.7L402.3 524.0L404.0 525.1L406.0 525.4L410.6 524.0L411.0 522.0L409.9 518.0L411.1 516.0L414.0 514.9L418.0 515.6L420.0 517.7L420.8 520.0L420.0 523.9L418.3 526.0L423.1 530.0L424.2 532.0L420.2 538.0L414.0 540.3L388.0 540.1L378.0 541.1L354.0 541.9L334.2 544.0L336.0 544.8L338.0 550.0L337.4 550.0L336.0 547.1L334.0 545.6L332.0 545.1L300.0 545.1L282.5 544.0L378.0 539.0L384.2 538.0L386.2 536.0L386.0 533.5L374.0 526.3L372.0 518.6L368.0 514.8L366.0 515.1L362.0 518.9L360.0 519.2L352.0 514.2L344.0 512.0L341.4 510.0L340.9 508.0L341.4 506.0L344.0 502.0L344.3 500.0L340.3 492.0L337.4 482.0L337.5 478.0L350.8 452.0L354.0 450.6L360.0 449.7L362.0 448.3L365.1 444.0L365.7 442.0L359.9 436.0L354.0 435.3L348.0 433.5L330.0 432.8L324.0 431.6L322.0 433.6L321.3 438.0L320.0 439.5L318.0 440.6L314.0 441.1L309.4 438.0L307.9 436.0L305.8 430.0L304.0 428.0L302.0 427.3L300.0 427.5L298.0 428.9L294.1 436.0L292.0 437.7L290.0 438.0L286.0 436.7L280.0 438.7L272.0 438.4L268.0 436.8L262.0 429.9L256.0 433.2L254.0 436.4L251.2 444.0L246.0 450.8L232.0 457.2L226.0 461.9L222.0 463.6L220.0 465.2L214.7 472.0L210.0 482.4L204.0 490.6L202.0 496.0L200.8 510.0L194.1 522.0L191.0 526.0L189.8 530.0L189.5 538.0L190.2 546.0L192.0 547.9L198.0 546.8L200.1 550.0L179.4 550.0L180.0 543.2L184.0 541.7L185.5 540.0L186.4 530.0L187.6 526.0L198.7 510.0L199.4 508.0L199.1 494.0L201.0 486.0L205.0 480.0L206.9 474.0L212.0 466.8L214.2 462.0L214.5 460.0L213.5 458.0L206.3 448.0L206.0 446.0L207.4 444.0L211.9 440.0L213.2 438.0L206.7 424.0L207.1 418.0L203.9 404.0L204.0 399.6L206.0 398.3L214.0 397.6L240.0 387.1L248.0 385.5L254.0 382.8L256.0 385.8L258.0 391.0L261.0 402.0L261.6 408.0L260.7 416.0L262.0 417.5L266.0 418.6L276.0 423.6L278.0 422.9L284.0 418.4L302.8 412.0L300.5 410.0L294.0 406.5L290.3 402.0L290.2 400.0L293.0 394.0L296.0 390.8L300.0 388.5L304.0 387.7L314.0 387.4L316.0 385.3L318.8 380.0L322.0 377.7L332.0 375.4L336.0 377.7L340.0 381.8L352.0 385.0L354.0 386.4L359.6 398.0L362.0 400.4L364.0 400.8L366.0 399.4L367.4 396.0L367.0 390.0L367.5 384.0L366.5 382.0L361.3 378.0L356.0 370.8L350.0 369.4L342.0 366.2L338.9 358.0L330.0 353.5L318.0 351.4L310.0 355.6L306.0 355.8L302.0 354.7L296.0 350.4L292.0 349.6L280.0 352.4L278.0 351.9L276.0 350.3L272.3 346.0L268.0 345.1L262.0 341.8L238.0 341.9L232.0 338.0L230.0 337.5L220.0 337.4L212.0 340.3L194.0 342.5L186.0 344.6L184.0 345.6L182.0 347.8L178.6 354.0L176.0 355.1L174.3 354.0L172.7 348.0L170.0 346.7L168.0 347.6L164.0 351.2L156.0 354.2L150.0 358.5L144.0 358.7L138.0 360.3L134.0 359.9L130.0 360.5L126.0 362.6L124.0 364.7L118.0 376.5L116.0 378.2L111.1 374.0L107.6 372.0L104.0 368.0L103.6 366.0L104.6 358.0L103.9 356.0L98.0 352.2L86.0 348.8L82.0 346.6L78.6 342.0L77.4 338.0L74.0 335.1L70.7 330.0L66.0 325.4L66.0 324.5L68.0 325.7L76.0 335.5L80.1 336.0L86.5 344.0L90.0 345.6L100.0 347.7L108.0 351.7L109.0 354.0L109.4 358.0L107.9 368.0L110.0 370.4L114.0 370.8L116.0 369.8L122.0 359.4L126.0 355.7L140.0 351.5L146.0 351.6L150.0 350.4L158.0 343.9L166.0 338.6L168.4 334.0L170.0 332.6L180.0 328.4L188.0 326.5L196.1 320.0ZM393.8 366.0L391.9 368.0L391.5 370.0L394.0 374.1L396.0 374.3L398.7 372.0L401.5 368.0L401.5 366.0L398.0 365.4L394.0 365.9ZM379.5 374.0L379.1 376.0L380.3 378.0L384.0 380.7L386.0 380.9L387.1 380.0L382.0 374.3L380.0 373.5ZM325.9 388.0L320.0 394.0L318.0 395.1L308.0 396.7L304.4 398.0L306.9 400.0L316.0 402.3L326.0 406.0L338.0 405.6L346.0 407.6L348.0 407.4L349.4 406.0L345.7 394.0L344.6 392.0L342.4 390.0L332.0 386.2L326.0 388.0ZM400.6 388.0L394.0 393.1L386.0 395.8L383.6 398.0L381.8 404.0L381.8 406.0L388.0 412.1L390.0 412.3L392.0 410.2L398.0 400.8L402.0 397.8L407.2 392.0L407.8 390.0L407.0 388.0L404.0 386.5L402.0 387.1ZM237.5 396.0L228.0 397.2L208.5 404.0L208.0 406.0L208.3 410.0L210.2 418.0L208.4 424.0L211.8 432.0L215.9 438.0L215.9 440.0L212.5 444.0L211.8 446.0L213.7 450.0L216.0 452.2L218.0 452.0L220.0 450.3L226.8 440.0L242.6 426.0L246.0 421.9L252.0 417.2L254.6 414.0L255.3 410.0L250.0 395.8L248.0 394.4L246.0 394.1L238.0 395.9ZM312.8 412.0L316.0 412.9L320.0 417.1L324.0 419.2L328.0 419.1L330.2 418.0L331.8 416.0L331.2 414.0L328.0 413.1L320.0 411.6L314.0 411.9ZM356.5 416.0L353.4 418.0L356.0 419.5L358.0 419.7L364.0 419.6L366.0 419.2L367.0 418.0L364.0 415.9L358.0 415.6ZM240.3 434.0L235.3 438.0L231.6 442.0L229.0 446.0L228.6 448.0L230.0 448.9L232.0 448.4L244.0 440.5L245.4 438.0L245.3 434.0L244.0 432.7L242.0 433.1ZM366.0 504.0L365.3 506.0L365.6 508.0L368.0 511.2L370.0 511.1L373.7 508.0L373.4 506.0L370.0 502.6L368.0 502.6L366.0 504.0ZM230.0 354.3L236.0 356.7L236.9 358.0L236.0 360.7L234.0 361.4L230.0 360.3L228.1 358.0L228.3 356.0ZM76.0 491.0L79.3 494.0L80.8 496.0L81.8 500.0L84.0 501.8L92.0 503.4L98.0 506.0L99.5 508.0L100.0 510.0L99.5 520.0L102.0 526.2L103.5 528.0L112.0 534.3L122.0 537.4L130.0 542.0L131.4 544.0L131.4 550.0L128.4 550.0L127.9 546.0L122.0 542.2L118.0 541.0L112.0 541.3L110.0 540.5L104.7 536.0L102.0 534.6L98.0 534.2L90.0 537.6L84.0 536.5L80.0 534.9L76.0 536.9L73.4 536.0L74.0 534.0L73.2 532.0L70.0 531.2L66.0 531.6L66.0 521.6L72.0 524.9L76.5 524.0L78.0 525.3L80.0 529.1L82.6 526.0L84.2 516.0L82.0 512.8L80.0 512.7L78.0 514.4L76.0 513.3L74.0 513.1L66.0 515.1L66.0 508.2L70.4 508.0L70.0 505.0L66.0 506.2L66.0 499.2L70.0 498.8L75.0 492.0ZM68.0 535.8L71.7 538.0L70.0 540.6L66.0 541.9L66.0 535.4ZM734.0 534.8L736.0 534.3L737.9 536.0L741.0 542.0L740.0 543.0L738.0 543.1L731.9 542.0L733.3 536.0ZM100.0 547.8L101.4 550.0L97.5 550.0L99.6 548.0ZM746.0 546.2L750.0 547.7L751.2 550.0L744.8 550.0L744.9 548.0Z" fill="#ffce16" stroke="#ffce16" stroke-width="0.6" fill-rule="evenodd"/>
<path d="M66.9 326.0L70.7 330.0L74.0 335.1L77.4 338.0L78.6 342.0L82.0 346.6L86.0 348.8L98.0 352.2L103.9 356.0L104.6 358.0L103.6 366.0L104.0 368.0L107.6 372.0L111.1 374.0L116.0 378.2L118.0 376.5L124.0 364.7L126.0 362.6L130.0 360.5L134.0 359.9L138.0 360.3L144.0 358.7L150.0 358.5L156.0 354.2L164.0 351.2L168.0 347.6L170.0 346.7L172.7 348.0L174.3 354.0L176.0 355.1L178.6 354.0L182.0 347.8L184.0 345.6L186.0 344.6L194.0 342.5L212.0 340.3L220.0 337.4L230.0 337.5L232.0 338.0L238.0 341.9L262.0 341.8L268.0 345.1L272.3 346.0L276.0 350.3L278.0 351.9L280.0 352.4L292.0 349.6L296.0 350.4L302.0 354.7L306.0 355.8L310.0 355.6L318.0 351.4L330.0 353.5L338.9 358.0L342.0 366.2L350.0 369.4L356.0 370.8L361.3 378.0L366.5 382.0L367.5 384.0L367.0 390.0L367.4 396.0L366.0 399.4L364.0 400.8L362.0 400.4L359.6 398.0L354.0 386.4L352.0 385.0L340.0 381.8L336.0 377.7L332.0 375.4L322.0 377.7L318.8 380.0L316.0 385.3L314.0 387.4L304.0 387.7L300.0 388.5L296.0 390.8L293.0 394.0L290.2 400.0L290.3 402.0L294.0 406.5L300.5 410.0L302.8 412.0L284.0 418.4L278.0 422.9L276.0 423.6L266.0 418.6L262.0 417.5L260.7 416.0L261.6 408.0L261.0 402.0L258.0 391.0L256.0 385.8L254.0 382.8L248.0 385.5L240.0 387.1L214.0 397.6L206.0 398.3L204.0 399.6L203.9 404.0L207.1 418.0L206.7 424.0L213.2 438.0L211.9 440.0L207.4 444.0L206.0 446.0L206.3 448.0L213.5 458.0L214.5 460.0L214.2 462.0L212.0 466.8L206.9 474.0L205.0 480.0L202.0 484.3L200.3 488.0L199.1 494.0L199.4 508.0L198.7 510.0L187.6 526.0L186.4 530.0L185.5 540.0L184.0 541.7L180.0 543.2L179.4 550.0L177.4 550.0L178.1 548.0L177.7 546.0L176.0 544.9L170.2 544.0L166.0 542.0L167.0 540.0L170.0 538.4L178.0 537.0L179.8 536.0L183.7 526.0L196.4 510.0L197.0 506.0L194.3 494.0L194.5 490.0L193.4 484.0L193.7 476.0L191.8 470.0L192.1 468.0L193.2 466.0L195.5 464.0L202.0 461.6L204.0 459.6L205.2 456.0L204.8 454.0L202.0 449.5L201.8 446.0L203.0 444.0L209.7 438.0L210.3 436.0L207.2 428.0L204.8 424.0L204.0 418.0L198.8 398.0L199.7 396.0L202.0 394.3L218.0 392.0L222.0 390.4L224.8 388.0L227.0 384.0L227.3 380.0L224.6 372.0L220.0 367.6L212.0 367.5L206.0 361.4L202.0 359.9L200.0 360.9L197.2 366.0L192.4 372.0L191.9 374.0L193.2 382.0L192.0 383.2L184.0 382.4L180.5 380.0L178.6 376.0L176.2 366.0L174.0 364.1L172.0 363.8L170.0 364.3L168.0 366.4L162.0 375.6L158.0 379.4L156.5 378.0L156.6 376.0L159.1 366.0L158.0 362.8L156.0 363.0L142.0 367.5L134.0 366.6L128.0 368.5L126.0 370.1L122.0 378.5L120.0 384.7L118.0 388.0L116.0 387.1L110.0 380.5L108.1 376.0L102.0 369.5L100.3 366.0L100.0 361.3L98.0 358.8L84.0 353.5L78.0 352.1L76.0 350.4L75.3 348.0L75.8 340.0L75.3 338.0L70.0 330.5L66.0 326.5L66.0 325.4ZM228.3 356.0L228.1 358.0L230.0 360.3L234.0 361.4L236.0 360.7L236.9 358.0L236.0 356.7L230.0 354.3ZM261.0 366.0L259.7 368.0L260.0 370.0L263.7 378.0L263.7 382.0L264.5 384.0L266.0 385.5L268.0 385.1L274.3 382.0L268.3 378.0L267.4 376.0L267.2 370.0L264.0 366.2L262.0 365.5ZM271.9 408.0L271.8 410.0L276.0 411.2L280.0 410.1L280.6 408.0L278.0 407.0L272.0 407.9ZM402.0 387.1L404.0 386.5L407.0 388.0L407.8 390.0L407.2 392.0L402.0 397.8L398.0 400.8L392.0 410.2L390.0 412.3L388.0 412.1L381.8 406.0L381.8 404.0L383.6 398.0L386.0 395.8L394.0 393.1L400.6 388.0ZM74.0 399.8L76.0 399.8L78.0 401.2L82.0 407.7L84.0 409.3L88.0 410.0L100.0 408.6L103.5 406.0L106.0 403.0L114.0 399.0L118.0 399.0L119.2 400.0L119.1 402.0L108.0 423.3L106.0 425.7L98.0 430.0L92.0 432.3L90.2 434.0L88.3 438.0L86.9 444.0L85.7 446.0L77.8 454.0L76.5 456.0L76.1 460.0L80.0 471.3L82.0 472.8L88.0 473.1L92.0 478.0L94.0 478.7L96.0 478.4L98.1 476.0L100.0 475.1L108.0 474.7L120.0 472.5L126.0 473.6L132.0 478.0L132.0 480.0L130.0 482.7L128.0 483.7L122.0 482.0L120.0 483.1L114.2 490.0L111.9 494.0L109.4 502.0L108.3 508.0L108.3 512.0L109.7 520.0L111.3 524.0L114.5 528.0L118.0 530.2L130.0 532.7L142.2 542.0L143.4 544.0L138.4 548.0L137.0 550.0L131.4 550.0L131.4 544.0L128.0 540.4L122.0 537.4L112.0 534.3L103.5 528.0L99.9 522.0L99.5 518.0L100.0 510.0L99.5 508.0L98.0 506.0L92.0 503.4L84.0 501.8L81.8 500.0L80.8 496.0L79.3 494.0L76.0 491.0L74.0 492.7L70.0 498.8L66.0 499.2L66.0 486.3L70.0 484.7L72.0 478.6L72.4 460.0L72.0 457.9L66.0 456.5L66.0 427.4L68.0 427.6L72.0 432.1L74.0 431.0L80.7 424.0L81.8 422.0L80.2 418.0L74.0 409.7L72.0 409.2L70.0 414.5L68.0 416.3L66.0 416.5L66.0 407.5L69.2 402.0L73.2 400.0ZM314.0 411.9L320.0 411.6L328.0 413.1L331.2 414.0L331.8 416.0L330.2 418.0L328.0 419.1L324.0 419.2L320.0 417.1L316.0 412.9L312.8 412.0ZM358.0 415.6L364.0 415.9L367.0 418.0L366.0 419.2L364.0 419.6L358.0 419.7L356.0 419.5L353.4 418.0L356.5 416.0ZM380.0 419.2L384.0 418.1L388.0 419.0L390.0 421.2L394.0 428.2L396.0 429.7L398.0 429.9L402.0 428.5L405.7 426.0L410.0 419.6L422.0 420.0L430.6 424.0L438.0 425.7L448.0 423.8L454.0 421.2L456.4 422.0L458.4 424.0L460.4 428.0L462.0 429.7L464.0 430.3L476.0 431.3L488.0 429.5L494.0 430.6L502.0 434.7L505.4 440.0L508.0 441.9L510.0 441.9L514.0 438.6L516.0 438.2L522.0 439.7L530.0 436.8L534.0 436.3L542.0 437.2L550.0 440.0L554.0 439.9L564.0 437.9L572.0 438.0L582.0 433.6L588.0 428.4L590.0 427.5L596.0 427.0L604.0 428.6L624.0 426.0L632.0 426.9L640.0 424.1L650.0 421.6L654.0 421.3L666.0 422.9L672.0 424.8L696.0 440.3L710.0 446.1L732.0 445.8L738.0 444.9L748.0 440.9L768.0 436.1L772.0 433.1L774.0 428.7L774.0 441.9L760.0 442.8L736.0 447.3L710.0 447.6L696.0 442.4L672.0 427.4L666.0 425.8L652.0 424.6L640.0 427.2L630.0 431.2L614.0 432.5L606.0 434.3L598.0 433.6L596.0 434.0L588.0 437.2L578.0 445.2L574.0 446.9L558.0 445.7L550.0 447.5L544.0 447.5L529.6 456.0L521.3 458.0L516.0 462.4L514.0 463.1L512.0 463.0L511.0 462.0L509.3 458.0L504.1 450.0L502.1 448.0L496.0 445.7L492.0 441.3L490.0 440.1L486.0 440.5L480.0 443.3L472.0 443.6L464.0 445.6L458.0 444.8L448.0 445.6L440.0 442.3L434.0 440.7L430.0 433.7L424.0 433.5L418.0 431.8L412.0 434.8L408.7 438.0L402.7 448.0L400.8 456.0L394.1 462.0L393.0 464.0L393.3 468.0L394.0 469.6L396.0 470.6L402.0 467.7L404.0 467.9L406.0 471.4L407.0 476.0L402.4 488.0L402.4 490.0L403.4 492.0L408.7 496.0L416.0 499.9L420.0 500.9L424.0 500.9L425.9 502.0L427.5 508.0L433.4 514.0L433.9 516.0L432.6 522.0L434.0 524.0L440.0 527.5L446.0 527.1L448.0 527.7L458.0 535.9L459.0 538.0L456.0 539.2L450.0 538.4L436.0 538.4L430.0 540.1L420.0 541.4L414.0 544.0L412.0 544.2L410.0 544.2L404.0 542.0L390.0 541.9L386.0 542.0L380.0 543.6L370.0 544.3L356.0 544.3L340.0 547.1L339.3 548.0L339.3 550.0L338.0 550.0L336.0 544.8L334.2 544.0L354.0 541.9L378.0 541.1L388.0 540.1L414.0 540.3L420.2 538.0L424.2 532.0L423.1 530.0L418.3 526.0L420.0 523.9L420.8 520.0L420.0 517.7L418.0 515.6L414.0 514.9L411.1 516.0L409.9 518.0L411.0 522.0L410.6 524.0L406.0 525.4L404.0 525.1L402.3 524.0L400.0 518.7L396.0 516.9L392.5 514.0L391.5 512.0L391.5 510.0L393.6 506.0L393.2 504.0L388.4 500.0L382.7 498.0L380.6 496.0L375.7 488.0L373.6 480.0L369.7 474.0L372.5 464.0L375.2 458.0L375.4 450.0L378.0 448.1L386.0 448.2L387.7 446.0L388.0 439.5L384.0 437.8L381.3 434.0L378.3 424.0L378.2 422.0L379.2 420.0ZM242.0 433.1L244.0 432.7L245.3 434.0L245.4 438.0L244.0 440.5L232.0 448.4L230.0 448.9L228.6 448.0L229.0 446.0L231.6 442.0L235.3 438.0L240.3 434.0ZM168.0 472.7L172.0 472.3L174.0 473.0L175.4 474.0L175.3 476.0L172.0 477.9L169.7 478.0L166.0 476.2L166.2 474.0ZM144.0 479.8L152.0 478.7L154.0 479.1L154.8 480.0L146.0 487.8L144.0 488.2L142.0 486.5L141.3 484.0L141.3 482.0L143.2 480.0ZM68.0 505.3L70.0 505.0L70.0 508.3L66.0 508.2L66.2 506.0ZM614.0 509.9L619.3 512.0L621.8 514.0L624.0 521.0L626.0 521.2L632.0 518.2L636.0 517.2L638.0 517.1L640.3 518.0L641.5 520.0L641.9 524.0L639.5 530.0L640.0 531.7L644.0 532.7L645.7 534.0L646.2 536.0L644.0 541.2L642.0 542.2L638.2 540.0L631.9 534.0L628.0 527.5L624.0 524.8L618.0 527.9L612.2 532.0L611.1 534.0L610.7 542.0L609.3 544.0L602.0 546.0L600.0 545.8L595.1 536.0L594.9 534.0L597.4 530.0L594.0 524.2L593.9 520.0L596.0 517.3L600.0 516.0L602.3 516.0L604.0 518.8L605.8 518.0L604.4 516.0L604.4 514.0L612.6 510.0ZM654.0 523.0L665.5 524.0L666.0 526.4L664.0 530.2L661.4 532.0L658.0 533.0L656.0 532.6L653.4 530.0L651.9 526.0L652.3 524.0ZM734.0 523.1L736.0 523.2L741.4 528.0L746.0 536.0L753.2 542.0L754.0 544.0L754.2 550.0L751.2 550.0L750.0 547.7L746.0 546.2L744.9 548.0L744.8 550.0L740.7 550.0L740.0 549.0L736.0 549.0L732.0 548.0L730.2 550.0L712.0 550.0L713.8 548.0L713.1 544.0L714.0 542.7L724.0 535.6L729.1 528.0L732.7 524.0ZM733.3 536.0L731.9 542.0L738.0 543.1L740.0 543.0L741.0 542.0L737.9 536.0L736.0 534.3L734.0 534.8ZM680.0 543.9L680.0 548.5L678.6 546.0L679.9 544.0Z" fill="#ffc410" stroke="#ffc410" stroke-width="0.6" fill-rule="evenodd"/>
<path d="M67.9 328.0L75.3 338.0L75.8 340.0L75.3 348.0L76.0 350.4L78.0 352.1L84.0 353.5L98.0 358.8L100.0 361.3L100.3 366.0L102.0 369.5L108.1 376.0L110.0 380.5L116.0 387.1L118.0 388.0L120.0 384.7L122.0 378.5L126.0 370.1L128.0 368.5L134.0 366.6L142.0 367.5L156.0 363.0L158.0 362.8L159.1 366.0L156.6 376.0L156.5 378.0L158.0 379.4L162.0 375.6L168.0 366.4L170.0 364.3L172.0 363.8L174.0 364.1L176.2 366.0L178.6 376.0L180.5 380.0L184.0 382.4L192.0 383.2L193.2 382.0L191.9 374.0L192.4 372.0L197.2 366.0L200.0 360.9L202.0 359.9L206.0 361.4L212.0 367.5L220.0 367.6L224.6 372.0L227.3 380.0L227.0 384.0L224.8 388.0L222.0 390.4L218.0 392.0L202.0 394.3L199.7 396.0L198.8 398.0L204.0 418.0L204.8 424.0L207.2 428.0L210.3 436.0L209.7 438.0L203.0 444.0L201.8 446.0L202.0 449.5L204.8 454.0L205.2 456.0L204.0 459.6L202.0 461.6L195.5 464.0L193.2 466.0L192.1 468.0L191.8 470.0L193.7 476.0L193.4 484.0L194.5 490.0L194.3 494.0L197.0 506.0L196.4 510.0L183.7 526.0L179.8 536.0L178.0 537.0L170.0 538.4L167.0 540.0L166.0 542.0L170.2 544.0L176.0 544.9L177.7 546.0L178.1 548.0L177.4 550.0L175.3 550.0L175.6 548.0L174.0 547.0L164.0 545.1L161.2 546.0L160.1 548.0L160.2 550.0L137.0 550.0L138.4 548.0L143.4 544.0L142.2 542.0L130.0 532.7L116.0 529.2L111.3 524.0L109.2 518.0L108.2 510.0L108.9 504.0L111.9 494.0L114.2 490.0L120.0 483.1L122.0 482.0L128.0 483.7L130.8 482.0L132.0 480.0L132.0 478.0L130.1 476.0L124.0 472.8L120.0 472.5L108.0 474.7L100.0 475.1L98.1 476.0L96.0 478.4L94.0 478.7L92.0 478.0L88.0 473.1L82.0 472.8L80.0 471.3L76.5 462.0L76.0 458.0L76.5 456.0L80.0 451.4L86.0 445.7L89.0 436.0L90.2 434.0L92.0 432.3L98.0 430.0L106.0 425.7L107.5 424.0L119.1 402.0L119.2 400.0L118.0 399.0L114.0 399.0L106.0 403.0L103.5 406.0L100.0 408.6L88.0 410.0L84.0 409.3L82.0 407.7L78.0 401.2L76.0 399.8L74.0 399.8L69.2 402.0L66.0 407.5L66.0 390.7L68.0 391.1L72.6 394.0L86.0 393.5L94.0 396.9L104.0 391.4L106.1 390.0L107.4 388.0L104.2 382.0L104.0 376.0L95.1 364.0L92.0 362.5L80.0 359.0L72.4 358.0L70.0 356.4L68.0 356.1L66.0 356.9L66.0 351.6L70.0 353.0L71.9 350.0L74.0 340.0L69.6 332.0L66.0 327.7L66.0 326.5ZM128.8 376.0L126.0 379.5L123.8 386.0L123.6 390.0L125.0 392.0L130.0 393.9L138.0 394.4L142.0 393.1L147.0 390.0L148.1 388.0L149.2 382.0L149.1 380.0L148.0 379.0L146.0 378.7L140.0 374.8L136.0 374.6L130.0 375.4ZM169.7 378.0L167.6 380.0L165.7 386.0L164.3 388.0L158.0 391.3L157.0 394.0L157.6 396.0L162.0 402.5L164.0 404.9L166.0 405.7L178.0 404.0L183.3 400.0L184.7 398.0L185.0 396.0L182.0 390.3L175.2 386.0L170.0 377.8ZM158.2 410.0L155.9 412.0L154.0 416.2L152.0 418.1L146.0 421.1L143.6 424.0L142.0 428.1L140.4 430.0L137.2 432.0L126.0 434.4L118.0 430.3L116.0 430.5L111.1 436.0L105.3 440.0L102.0 446.4L92.1 456.0L90.7 460.0L92.2 464.0L94.3 466.0L98.0 467.1L106.0 464.1L112.0 464.0L114.0 463.3L118.0 459.3L120.0 458.4L130.0 461.7L134.0 466.9L136.0 467.9L144.0 469.1L156.0 467.2L161.0 464.0L164.0 463.1L170.0 462.5L178.0 463.5L182.0 462.7L184.0 461.5L196.0 451.2L200.4 442.0L206.7 436.0L206.9 434.0L206.0 430.7L201.6 424.0L200.0 418.8L198.0 415.8L192.0 411.4L188.0 410.5L184.0 412.2L182.0 412.1L174.0 410.2L164.0 409.0L160.0 409.4ZM142.4 414.0L144.0 415.5L146.0 415.6L147.5 414.0L146.0 412.4L144.0 412.2ZM166.2 474.0L166.0 476.2L169.7 478.0L172.0 477.9L175.3 476.0L175.4 474.0L174.0 473.0L172.0 472.3L168.0 472.7ZM143.2 480.0L141.3 482.0L141.3 484.0L142.0 486.5L144.0 488.2L146.0 487.8L154.8 480.0L154.0 479.1L152.0 478.7L144.0 479.8ZM172.6 486.0L170.0 487.2L166.0 490.7L160.0 491.9L158.0 493.3L155.4 498.0L148.0 502.0L146.2 504.0L145.0 506.0L144.1 510.0L144.6 514.0L146.4 516.0L150.0 518.3L156.0 520.8L164.0 528.3L168.0 530.3L178.0 526.1L187.8 516.0L192.4 510.0L192.8 508.0L190.9 504.0L189.5 498.0L182.0 486.3L180.0 485.1L174.0 485.8ZM122.2 494.0L120.5 498.0L118.4 510.0L118.0 514.0L118.6 518.0L120.0 520.6L122.0 521.1L126.0 519.9L128.0 520.2L132.0 522.4L136.0 522.8L138.0 520.3L138.4 516.0L129.5 504.0L129.1 496.0L128.0 494.2L124.0 493.1ZM262.0 365.5L264.0 366.2L267.2 370.0L267.4 376.0L268.3 378.0L274.3 382.0L268.0 385.1L266.0 385.5L264.5 384.0L263.7 382.0L263.7 378.0L260.0 370.0L259.7 368.0L261.0 366.0ZM272.0 407.9L278.0 407.0L280.6 408.0L280.0 410.1L276.0 411.2L271.8 410.0L271.9 408.0ZM72.0 409.2L74.0 409.7L76.0 412.3L81.5 420.0L81.8 422.0L80.7 424.0L74.0 431.0L72.0 432.1L68.0 427.6L66.0 427.4L66.0 416.5L68.0 416.3L70.0 414.5L71.4 410.0ZM646.0 425.8L654.0 424.6L670.0 426.7L674.0 428.5L696.0 442.4L710.0 447.6L736.0 447.3L760.0 442.8L774.0 441.9L774.0 448.0L770.0 446.0L764.0 445.4L736.0 449.1L722.0 448.8L710.0 449.6L694.0 444.9L670.4 430.0L660.0 429.4L652.0 427.9L640.0 430.5L632.0 435.0L620.0 439.5L616.0 442.7L612.9 448.0L610.0 449.5L600.0 451.2L588.0 450.3L582.0 452.9L572.0 454.5L569.0 456.0L568.0 457.8L566.0 458.8L564.0 457.3L562.0 456.9L548.0 458.7L541.7 458.0L532.3 464.0L522.0 472.9L514.0 475.7L508.0 475.1L500.0 471.0L496.0 472.5L492.0 471.9L486.0 467.8L480.0 465.9L477.1 460.0L476.0 458.8L474.0 458.4L469.9 462.0L466.0 463.6L464.0 463.3L459.1 460.0L456.0 459.6L454.0 460.4L450.0 463.8L448.0 464.4L436.0 462.7L428.0 460.1L424.6 460.0L427.3 466.0L422.3 482.0L422.8 484.0L426.0 486.3L432.1 488.0L434.7 490.0L437.5 496.0L437.8 504.0L439.1 506.0L444.0 508.5L452.0 508.1L466.0 519.3L469.6 526.0L470.4 532.0L474.6 538.0L474.1 540.0L471.9 542.0L475.1 544.0L472.1 546.0L454.0 546.1L442.0 544.6L436.0 542.1L432.2 544.0L422.7 546.0L412.0 547.2L406.0 549.0L400.0 547.6L388.0 547.5L382.0 549.6L368.0 547.9L356.0 547.8L342.8 550.0L339.3 550.0L339.3 548.0L340.0 547.1L356.0 544.3L370.0 544.3L380.0 543.6L386.0 542.0L390.0 541.9L404.0 542.0L410.0 544.2L412.0 544.2L414.0 544.0L420.0 541.4L430.0 540.1L436.0 538.4L450.0 538.4L456.0 539.2L459.0 538.0L458.0 535.9L448.0 527.7L446.0 527.1L440.0 527.5L434.0 524.0L432.6 522.0L433.9 516.0L433.4 514.0L427.5 508.0L425.9 502.0L424.0 500.9L420.0 500.9L416.0 499.9L408.7 496.0L403.4 492.0L402.4 490.0L402.4 488.0L407.0 476.0L406.0 471.4L404.0 467.9L402.0 467.7L396.0 470.6L394.0 469.6L393.3 468.0L393.0 464.0L394.1 462.0L400.8 456.0L402.7 448.0L408.7 438.0L410.3 436.0L416.0 432.4L418.0 431.8L424.0 433.5L430.0 433.7L434.0 440.7L440.0 442.3L448.0 445.6L458.0 444.8L464.0 445.6L472.0 443.6L480.0 443.3L486.0 440.5L490.0 440.1L492.0 441.3L496.0 445.7L502.1 448.0L504.1 450.0L509.3 458.0L511.0 462.0L512.0 463.0L514.0 463.1L516.0 462.4L521.3 458.0L529.6 456.0L544.0 447.5L550.0 447.5L558.0 445.7L574.0 446.9L578.0 445.2L588.0 437.2L596.0 434.0L598.0 433.6L606.0 434.3L614.0 432.5L630.0 431.2L638.0 427.8L645.2 426.0ZM415.3 456.0L415.1 458.0L416.0 459.1L418.0 460.1L420.7 460.0L421.4 458.0L420.2 456.0L418.0 454.5L416.0 455.0ZM68.0 456.8L72.1 458.0L72.3 476.0L70.5 484.0L66.0 486.3L66.0 456.5ZM644.0 465.4L646.0 465.5L650.0 468.9L658.0 471.4L668.0 478.8L676.0 477.1L680.3 478.0L684.0 480.0L684.4 482.0L680.1 490.0L680.2 492.0L682.0 493.8L684.0 493.7L685.7 492.0L688.0 487.3L689.9 486.0L692.0 486.6L693.5 488.0L696.0 494.3L696.4 498.0L694.0 503.0L688.0 508.2L683.0 514.0L681.6 518.0L681.7 520.0L684.0 522.6L688.0 524.4L692.0 524.8L700.0 521.2L706.0 521.3L706.9 520.0L704.0 514.7L703.4 512.0L703.8 510.0L706.0 509.1L709.2 510.0L716.0 514.8L721.0 520.0L724.0 521.4L726.0 521.3L728.0 520.2L732.0 513.6L736.0 512.6L740.0 512.9L752.0 515.4L762.0 520.8L764.0 522.7L768.0 529.3L770.0 530.3L774.0 530.8L774.0 538.9L770.0 539.7L766.9 542.0L764.7 546.0L764.1 550.0L754.2 550.0L754.0 544.0L753.2 542.0L746.0 536.0L741.4 528.0L736.0 523.2L734.0 523.1L730.0 526.9L724.0 535.6L714.0 542.7L713.1 544.0L713.8 548.0L712.0 550.0L589.2 550.0L588.0 547.9L580.0 545.4L573.9 540.0L571.8 524.0L576.0 519.4L580.0 509.6L585.2 504.0L585.4 502.0L583.2 496.0L583.2 494.0L584.1 492.0L589.2 486.0L589.4 482.0L588.0 475.1L584.1 470.0L588.0 468.0L592.0 467.6L608.0 467.9L614.0 467.1L618.0 467.6L624.0 470.0L632.0 468.0L638.0 467.8L642.9 466.0ZM616.3 484.0L618.0 485.8L620.0 485.6L622.2 484.0L622.0 483.3L620.0 482.4L618.0 482.9ZM612.6 510.0L604.4 514.0L604.4 516.0L605.8 518.0L604.0 518.8L602.3 516.0L600.0 516.0L596.0 517.3L593.9 520.0L594.0 524.2L597.4 530.0L594.9 534.0L595.1 536.0L600.0 545.8L602.0 546.0L609.3 544.0L610.7 542.0L611.1 534.0L612.2 532.0L618.0 527.9L624.0 524.8L628.0 527.5L631.9 534.0L638.2 540.0L642.0 542.2L644.0 541.2L646.2 536.0L645.7 534.0L644.0 532.7L640.0 531.7L639.5 530.0L641.9 524.0L641.5 520.0L640.3 518.0L638.0 517.1L636.0 517.2L632.0 518.2L626.0 521.2L624.0 521.0L621.8 514.0L619.3 512.0L614.0 509.9ZM652.3 524.0L651.9 526.0L653.4 530.0L656.0 532.6L658.0 533.0L661.4 532.0L664.0 530.2L666.0 526.4L665.5 524.0L654.0 523.0ZM679.9 544.0L678.6 546.0L680.0 548.5L680.0 543.9ZM560.0 469.2L562.0 469.1L563.5 470.0L563.1 472.0L562.0 473.2L560.0 474.2L558.0 473.7L557.1 472.0L558.3 470.0ZM564.0 511.9L566.0 512.8L566.0 516.1L564.3 514.0L564.0 512.0ZM556.0 546.8L558.0 546.7L560.6 548.0L561.1 550.0L556.0 550.0L555.5 548.0ZM732.0 548.0L736.0 549.0L740.0 549.0L740.7 550.0L730.2 550.0L731.8 548.0Z" fill="#ffbb0c" stroke="#ffbb0c" stroke-width="0.6" fill-rule="evenodd"/>
<path d="M66.3 328.0L70.0 332.6L74.0 340.0L71.9 350.0L70.0 353.0L66.0 351.6L66.0 327.7ZM68.0 356.1L70.0 356.4L74.0 358.5L80.0 359.0L92.0 362.5L96.0 364.7L99.2 370.0L104.0 376.0L104.2 382.0L107.4 388.0L106.1 390.0L96.0 396.3L94.0 396.9L86.0 393.5L72.6 394.0L68.0 391.1L66.0 390.7L66.0 356.9ZM77.4 368.0L76.1 370.0L77.0 378.0L76.9 386.0L78.0 387.5L84.0 388.0L92.0 385.2L94.0 383.2L95.7 380.0L96.6 376.0L96.0 373.5L94.0 371.6L84.0 368.1L78.0 367.7ZM130.0 375.4L136.0 374.6L140.0 374.8L146.0 378.7L148.0 379.0L149.1 380.0L149.2 382.0L148.1 388.0L147.0 390.0L142.0 393.1L138.0 394.4L130.0 393.9L125.0 392.0L123.6 390.0L123.8 386.0L126.0 379.5L128.8 376.0ZM130.8 382.0L129.2 384.0L129.7 386.0L132.0 386.5L134.3 386.0L135.6 384.0L134.0 382.2L132.0 381.7ZM170.0 377.8L175.2 386.0L182.0 390.3L185.0 396.0L184.7 398.0L183.3 400.0L178.0 404.0L166.0 405.7L164.0 404.9L162.0 402.5L157.6 396.0L157.0 394.0L158.0 391.3L164.3 388.0L165.7 386.0L167.6 380.0L169.7 378.0ZM160.0 409.4L164.0 409.0L174.0 410.2L182.0 412.1L184.0 412.2L188.0 410.5L192.0 411.4L198.0 415.8L200.0 418.8L201.6 424.0L206.0 430.7L206.9 434.0L206.7 436.0L200.4 442.0L196.0 451.2L184.0 461.5L182.0 462.7L178.0 463.5L170.0 462.5L164.0 463.1L161.0 464.0L156.0 467.2L144.0 469.1L136.0 467.9L134.0 466.9L130.0 461.7L120.0 458.4L118.0 459.3L114.0 463.3L112.0 464.0L106.0 464.1L98.0 467.1L94.3 466.0L92.2 464.0L90.7 460.0L92.1 456.0L102.0 446.4L105.3 440.0L111.1 436.0L116.0 430.5L118.0 430.3L126.0 434.4L137.2 432.0L140.4 430.0L142.0 428.1L143.6 424.0L146.0 421.1L152.0 418.1L154.0 416.2L155.9 412.0L158.2 410.0ZM166.7 414.0L162.0 416.0L157.6 422.0L152.0 427.6L148.0 436.0L146.0 437.3L135.5 440.0L126.0 447.8L126.4 452.0L127.9 454.0L142.0 456.8L144.2 456.0L148.2 452.0L152.0 451.3L154.5 452.0L157.6 456.0L160.0 456.9L174.0 457.0L177.9 456.0L180.0 454.7L186.0 449.0L193.1 444.0L194.1 442.0L195.5 432.0L192.1 424.0L184.0 420.9L177.6 416.0L174.0 414.1L168.0 413.8ZM144.0 412.2L146.0 412.4L147.5 414.0L146.0 415.6L144.0 415.5L142.4 414.0ZM652.0 427.9L660.0 429.4L670.4 430.0L694.0 444.9L708.0 449.2L712.0 449.7L722.0 448.8L734.0 449.3L762.0 445.5L768.0 445.6L774.0 448.0L774.0 455.5L766.0 449.4L762.0 448.4L732.0 453.3L724.0 451.8L712.0 453.0L696.0 451.2L688.0 448.7L682.0 445.7L676.0 444.3L670.0 441.1L656.0 436.3L652.0 433.8L648.0 433.1L639.6 436.0L630.0 445.7L624.8 452.0L620.0 455.0L604.0 456.8L590.0 456.3L582.0 458.3L576.0 458.7L574.0 460.5L576.0 462.2L590.0 461.8L600.0 462.8L606.0 461.9L616.0 461.9L626.0 463.1L633.7 460.0L640.0 459.2L644.0 456.4L648.0 457.0L664.0 466.4L668.0 467.7L678.0 468.8L686.0 471.0L688.0 472.2L698.6 484.0L702.3 492.0L704.0 493.6L708.0 494.6L710.0 495.8L713.4 502.0L716.0 503.8L732.0 504.3L734.0 503.6L740.0 499.0L742.0 498.8L746.0 500.1L752.0 504.5L762.0 507.0L764.0 506.7L768.0 504.6L774.0 503.3L774.0 530.8L770.0 530.3L768.0 529.3L764.0 522.7L762.0 520.8L752.0 515.4L738.0 512.6L734.0 512.9L731.3 514.0L728.0 520.2L726.0 521.3L724.0 521.4L721.0 520.0L716.0 514.8L709.2 510.0L706.0 509.1L703.8 510.0L703.4 512.0L704.0 514.7L706.9 520.0L706.0 521.3L702.0 520.8L692.0 524.8L688.0 524.4L683.0 522.0L682.0 520.6L681.6 518.0L682.1 516.0L683.0 514.0L688.0 508.2L694.0 503.0L696.0 499.3L696.4 496.0L694.0 488.7L692.0 486.6L690.0 486.0L688.0 487.3L685.7 492.0L684.0 493.7L682.0 493.8L680.2 492.0L680.9 488.0L684.4 482.0L684.0 480.0L680.3 478.0L676.0 477.1L668.0 478.8L658.0 471.4L650.0 468.9L646.0 465.5L644.0 465.4L638.0 467.8L632.0 468.0L624.0 470.0L616.0 467.2L606.0 468.0L594.0 467.4L588.1 468.0L584.1 470.0L588.0 475.1L589.4 482.0L589.2 486.0L584.1 492.0L583.2 494.0L583.2 496.0L585.4 502.0L585.2 504.0L580.0 509.6L576.0 519.4L571.8 524.0L573.9 540.0L580.0 545.4L588.0 547.9L589.2 550.0L561.1 550.0L560.6 548.0L558.0 546.7L556.0 546.8L555.5 548.0L556.0 550.0L552.1 550.0L550.0 548.5L548.0 548.4L538.1 550.0L530.2 550.0L524.6 548.0L514.0 545.8L496.0 547.4L484.0 546.9L472.0 548.7L464.0 547.7L436.0 547.1L426.0 547.3L410.9 550.0L342.8 550.0L356.0 547.8L368.0 547.9L382.0 549.6L388.0 547.5L400.0 547.6L406.0 549.0L412.0 547.2L422.7 546.0L432.2 544.0L436.0 542.1L442.0 544.6L454.0 546.1L472.1 546.0L475.1 544.0L471.9 542.0L474.1 540.0L474.6 538.0L470.4 532.0L469.6 526.0L466.0 519.3L452.0 508.1L444.0 508.5L439.1 506.0L437.8 504.0L437.5 496.0L434.7 490.0L432.1 488.0L426.0 486.3L422.8 484.0L422.3 482.0L427.3 466.0L424.6 460.0L428.0 460.1L436.0 462.7L448.0 464.4L450.0 463.8L454.0 460.4L456.0 459.6L459.1 460.0L464.0 463.3L466.0 463.6L469.9 462.0L474.0 458.4L476.0 458.8L477.1 460.0L480.0 465.9L486.0 467.8L492.0 471.9L496.0 472.5L500.0 471.0L508.0 475.1L514.0 475.7L522.0 472.9L532.3 464.0L541.7 458.0L548.0 458.7L562.0 456.9L564.0 457.3L566.0 458.8L568.0 457.8L569.0 456.0L572.0 454.5L582.0 452.9L588.0 450.3L600.0 451.2L610.0 449.5L612.9 448.0L616.0 442.7L620.0 439.5L632.0 435.0L640.0 430.5L650.8 428.0ZM555.6 462.0L550.0 463.7L550.0 466.5L552.0 467.6L558.4 464.0L559.0 462.0L556.0 462.0ZM443.7 470.0L440.0 471.3L437.2 474.0L436.6 478.0L437.4 480.0L443.6 484.0L446.3 488.0L450.0 490.4L454.0 494.5L456.0 496.1L460.0 497.6L470.0 505.2L476.0 501.9L480.0 501.1L482.9 502.0L485.0 504.0L485.0 506.0L481.3 512.0L481.2 514.0L483.6 520.0L483.3 528.0L484.5 530.0L486.0 530.7L494.0 530.3L504.0 533.9L508.0 532.8L511.7 536.0L511.9 540.0L513.8 542.0L516.0 542.7L534.0 540.8L542.0 541.4L547.1 540.0L548.1 530.0L554.2 522.0L555.2 512.0L554.4 508.0L548.0 499.4L546.0 498.1L540.0 496.8L538.0 495.6L529.2 486.0L522.0 482.8L518.0 483.3L508.0 482.6L498.0 481.0L486.0 483.0L483.2 482.0L468.0 472.9L460.0 469.2L454.0 468.4L444.0 469.9ZM558.3 470.0L557.1 472.0L558.0 473.7L560.0 474.2L562.0 473.2L563.1 472.0L563.5 470.0L562.0 469.1L560.0 469.2ZM571.4 480.0L570.0 480.9L568.9 484.0L569.4 490.0L570.0 491.3L572.0 491.6L573.4 490.0L574.0 488.0L573.6 482.0L572.0 479.8ZM564.0 512.0L564.3 514.0L566.0 516.1L566.0 512.8L564.0 511.9ZM416.0 455.0L418.0 454.5L420.2 456.0L421.4 458.0L420.7 460.0L418.0 460.1L416.0 459.1L415.1 458.0L415.3 456.0ZM618.0 482.9L620.0 482.4L622.0 483.3L622.2 484.0L620.0 485.6L618.0 485.8L616.3 484.0ZM174.0 485.8L180.0 485.1L182.0 486.3L189.5 498.0L190.9 504.0L192.8 508.0L192.4 510.0L187.8 516.0L178.0 526.1L168.0 530.3L164.0 528.3L156.0 520.8L150.0 518.3L146.4 516.0L144.6 514.0L144.1 510.0L145.0 506.0L146.2 504.0L148.0 502.0L155.4 498.0L158.0 493.3L160.0 491.9L166.0 490.7L170.0 487.2L172.6 486.0ZM171.2 502.0L166.0 504.5L154.0 505.0L150.2 506.0L148.0 510.0L148.6 512.0L151.0 514.0L162.7 518.0L168.0 522.3L170.0 522.5L172.0 521.7L180.0 516.8L181.4 514.0L180.0 510.2L175.7 504.0L174.0 502.0L172.0 501.6ZM124.0 493.1L128.0 494.2L129.1 496.0L129.5 504.0L138.4 516.0L138.0 520.3L136.0 522.8L132.0 522.4L128.0 520.2L126.0 519.9L122.0 521.1L120.0 520.6L118.6 518.0L118.0 514.0L118.4 510.0L120.5 498.0L122.2 494.0ZM770.0 539.7L774.0 538.9L774.0 550.0L764.1 550.0L765.5 544.0L769.4 540.0ZM162.0 545.5L166.0 545.3L174.0 547.0L175.6 548.0L175.3 550.0L166.8 550.0L166.0 549.4L165.5 550.0L160.2 550.0L160.1 548.0L161.2 546.0Z" fill="#ffb00a" stroke="#ffb00a" stroke-width="0.6" fill-rule="evenodd"/>
<path d="M78.0 367.7L84.0 368.1L94.0 371.6L96.0 373.5L96.6 376.0L95.7 380.0L94.0 383.2L92.0 385.2L84.0 388.0L78.0 387.5L76.9 386.0L77.0 378.0L76.1 370.0L77.4 368.0ZM132.0 381.7L134.0 382.2L135.6 384.0L134.3 386.0L132.0 386.5L129.7 386.0L129.2 384.0L130.8 382.0ZM168.0 413.8L174.0 414.1L177.6 416.0L184.0 420.9L192.1 424.0L195.5 432.0L194.1 442.0L193.1 444.0L186.0 449.0L180.0 454.7L177.9 456.0L174.0 457.0L160.0 456.9L157.6 456.0L154.5 452.0L152.0 451.3L148.2 452.0L144.2 456.0L142.0 456.8L127.9 454.0L126.4 452.0L126.0 447.8L135.5 440.0L146.0 437.3L148.0 436.0L152.0 427.6L157.6 422.0L162.0 416.0L166.7 414.0ZM166.5 420.0L158.5 430.0L157.7 432.0L157.9 436.0L160.9 440.0L162.9 446.0L164.6 448.0L170.0 450.9L174.0 450.6L177.6 448.0L183.9 440.0L185.0 428.0L183.7 426.0L174.0 419.3L170.0 418.0L168.0 418.8ZM646.0 433.5L650.0 433.1L652.0 433.8L656.0 436.3L670.0 441.1L676.0 444.3L682.0 445.7L688.0 448.7L696.0 451.2L712.0 453.0L724.0 451.8L732.0 453.3L760.0 448.5L766.0 449.4L774.0 455.5L774.0 487.1L773.1 488.0L774.0 489.8L774.0 503.3L768.0 504.6L764.0 506.7L762.0 507.0L752.0 504.5L746.0 500.1L742.0 498.8L740.0 499.0L734.0 503.6L732.0 504.3L716.0 503.8L713.4 502.0L710.0 495.8L708.0 494.6L704.0 493.6L702.3 492.0L698.6 484.0L688.0 472.2L686.0 471.0L678.0 468.8L666.0 467.2L646.0 456.3L644.0 456.4L640.0 459.2L633.7 460.0L626.0 463.1L616.0 461.9L606.0 461.9L600.0 462.8L590.0 461.8L576.0 462.2L574.0 460.5L576.0 458.7L582.0 458.3L590.0 456.3L604.0 456.8L620.0 455.0L624.8 452.0L638.0 437.3L644.3 434.0ZM642.9 444.0L642.9 446.0L644.0 446.8L650.0 447.6L654.0 449.9L658.0 451.1L664.0 456.9L666.0 457.4L668.0 456.0L670.8 452.0L670.3 450.0L668.5 448.0L666.0 446.8L650.0 445.2L646.0 442.4L644.0 442.7ZM676.2 454.0L675.6 456.0L676.0 458.0L677.7 460.0L688.0 463.3L696.0 463.4L700.0 465.6L701.9 472.0L706.0 478.0L720.0 493.0L722.0 494.6L724.0 495.2L726.4 494.0L727.1 488.0L728.0 486.3L732.6 482.0L733.2 480.0L733.0 476.0L738.0 474.6L742.0 475.2L746.0 476.9L750.0 476.4L754.0 473.3L760.0 471.9L763.1 470.0L766.8 466.0L767.8 462.0L767.7 460.0L766.0 456.6L764.0 455.4L762.0 455.3L752.0 462.0L746.0 463.5L742.0 466.2L738.0 466.8L728.0 465.2L718.0 458.8L714.0 457.3L696.0 456.9L690.0 454.6L678.0 453.3ZM556.0 462.0L559.0 462.0L558.4 464.0L552.0 467.6L550.0 466.5L550.0 463.7L555.6 462.0ZM444.0 469.9L454.0 468.4L460.0 469.2L468.0 472.9L483.2 482.0L486.0 483.0L498.0 481.0L508.0 482.6L518.0 483.3L522.0 482.8L529.2 486.0L538.0 495.6L540.0 496.8L546.0 498.1L548.0 499.4L554.4 508.0L555.2 512.0L554.2 522.0L548.1 530.0L547.1 540.0L542.0 541.4L534.0 540.8L516.0 542.7L513.8 542.0L511.9 540.0L511.7 536.0L508.0 532.8L504.0 533.9L494.0 530.3L486.0 530.7L484.5 530.0L483.3 528.0L483.6 520.0L481.2 514.0L481.3 512.0L485.0 506.0L485.0 504.0L482.9 502.0L480.0 501.1L476.0 501.9L470.0 505.2L460.0 497.6L456.0 496.1L454.0 494.5L450.0 490.4L446.3 488.0L443.6 484.0L437.4 480.0L436.6 478.0L437.2 474.0L440.0 471.3L443.7 470.0ZM452.0 474.0L452.3 476.0L454.0 477.9L456.0 478.7L458.6 478.0L460.0 476.0L458.6 474.0L456.0 472.9L454.0 472.8L452.0 473.9ZM496.1 490.0L499.6 498.0L500.5 504.0L500.2 512.0L502.0 514.5L518.0 521.3L524.0 526.5L532.0 529.4L534.0 529.5L536.0 528.6L544.2 522.0L545.0 520.0L544.8 516.0L544.0 513.8L542.0 512.0L534.0 509.0L530.0 504.1L528.0 503.1L514.0 501.9L511.9 500.0L512.9 492.0L512.0 490.8L510.2 490.0L498.0 488.4ZM572.0 479.8L573.6 482.0L574.0 488.0L573.4 490.0L572.0 491.6L570.0 491.3L569.4 490.0L568.9 484.0L570.0 480.9L571.4 480.0ZM172.0 501.6L174.0 502.0L175.7 504.0L180.0 510.2L181.4 514.0L180.0 516.8L172.0 521.7L170.0 522.5L168.0 522.3L162.7 518.0L151.0 514.0L148.6 512.0L148.0 510.0L150.2 506.0L154.0 505.0L166.0 504.5L171.2 502.0ZM514.0 545.8L524.6 548.0L530.2 550.0L518.0 550.0L514.0 549.0L500.7 550.0L430.0 549.5L410.9 550.0L428.0 547.2L464.0 547.7L472.0 548.7L484.0 546.9L496.0 547.4L513.6 546.0ZM540.0 549.4L548.0 548.4L550.0 548.5L552.1 550.0L538.1 550.0Z" fill="#ffa70c" stroke="#ffa70c" stroke-width="0.6" fill-rule="evenodd"/>
<path d="M168.0 418.8L170.0 418.0L174.0 419.3L183.7 426.0L185.0 428.0L183.9 440.0L177.6 448.0L174.0 450.6L170.0 450.9L164.6 448.0L162.9 446.0L160.9 440.0L157.9 436.0L157.7 432.0L158.5 430.0L166.5 420.0ZM644.0 442.7L646.0 442.4L650.0 445.2L666.0 446.8L668.5 448.0L670.3 450.0L670.8 452.0L668.0 456.0L666.0 457.4L664.0 456.9L658.0 451.1L654.0 449.9L650.0 447.6L644.0 446.8L642.9 446.0L642.9 444.0ZM678.0 453.3L690.0 454.6L696.0 456.9L714.0 457.3L718.0 458.8L728.0 465.2L738.0 466.8L742.0 466.2L746.0 463.5L752.0 462.0L762.0 455.3L764.0 455.4L766.0 456.6L767.7 460.0L767.8 462.0L766.8 466.0L763.1 470.0L760.0 471.9L754.0 473.3L750.0 476.4L746.0 476.9L742.0 475.2L738.0 474.6L733.0 476.0L733.2 480.0L732.6 482.0L728.0 486.3L727.1 488.0L726.4 494.0L724.0 495.2L722.0 494.6L720.0 493.0L706.0 478.0L701.9 472.0L700.0 465.6L696.0 463.4L688.0 463.3L677.7 460.0L676.0 458.0L675.6 456.0L676.2 454.0ZM452.0 473.9L454.0 472.8L456.0 472.9L458.6 474.0L460.0 476.0L458.6 478.0L456.0 478.7L454.0 477.9L452.3 476.0L452.0 474.0ZM498.0 488.4L510.2 490.0L512.0 490.8L512.9 492.0L511.9 500.0L514.0 501.9L528.0 503.1L530.0 504.1L534.0 509.0L542.0 512.0L544.0 513.8L544.8 516.0L545.0 520.0L544.2 522.0L536.0 528.6L534.0 529.5L532.0 529.4L524.0 526.5L518.0 521.3L502.0 514.5L500.2 512.0L500.5 504.0L499.6 498.0L496.1 490.0ZM502.0 549.6L514.0 549.0L518.0 550.0L500.7 550.0Z" fill="#ff9e0e" stroke="#ff9e0e" stroke-width="0.6" fill-rule="evenodd"/>
<path d="M66.0 134.0L68.0 134.3L72.0 136.3L77.4 140.0L86.0 144.4L91.2 148.0L108.0 156.4L113.1 160.0L122.0 164.4L127.0 168.0L130.0 169.5L140.0 172.4L146.0 175.3L150.0 176.4L154.0 178.2L156.0 178.4L156.7 178.0L167.1 164.0L172.0 156.4L176.0 152.6L178.0 152.2L182.0 159.4L184.0 161.0L186.0 161.0L192.0 157.4L194.0 156.7L196.0 156.6L198.0 157.3L208.0 163.3L212.0 164.0L216.0 168.5L220.4 176.0L226.0 184.0L230.0 192.6L243.0 212.0L243.8 214.0L243.6 218.0L244.0 218.6L246.1 218.0L247.2 214.0L249.7 210.0L252.0 207.7L254.9 206.0L258.0 201.9L260.0 200.4L264.0 199.0L268.0 198.4L290.0 197.1L310.6 186.0L316.0 182.3L329.5 178.0L338.0 174.5L350.0 172.7L364.0 173.1L370.0 172.1L374.0 170.6L378.0 169.8L382.0 169.8L396.0 173.1L404.0 174.5L406.0 175.7L412.7 182.0L415.9 188.0L418.0 188.6L420.0 188.0L422.0 185.4L425.3 178.0L429.6 170.0L436.0 163.0L446.0 156.7L458.0 153.0L464.0 151.9L468.0 150.3L470.3 148.0L472.0 144.5L472.6 140.0L470.6 132.0L468.0 129.2L452.8 118.0L451.7 116.0L451.3 114.0L451.5 112.0L452.5 110.0L454.0 109.0L458.0 108.4L480.0 111.0L486.0 111.1L494.0 109.6L502.0 106.8L506.6 106.0L510.6 104.0L514.0 98.7L521.5 90.0L522.5 88.0M709.2 88.0L709.3 90.0L710.0 91.3L722.0 91.4L730.2 94.0L727.6 98.0L729.2 100.0L733.1 104.0L734.0 104.5L738.0 105.2L744.0 109.9L746.0 110.6L750.0 110.9L758.0 112.4L766.0 111.2L774.0 111.2M66.0 134.6L68.0 134.9L72.0 136.9L76.0 140.0L86.0 145.0L90.0 148.1L108.0 157.1L112.0 160.2L122.0 165.1L126.0 168.2L130.0 170.3L134.0 171.1L136.0 172.1L140.0 173.1L146.0 176.1L150.0 177.1L154.0 179.0L156.0 179.6L158.0 179.2L162.0 173.9L164.0 172.3L166.0 171.8L167.9 174.0L170.0 181.1L172.0 183.0L174.0 184.0L176.0 183.8L178.0 182.6L184.0 177.2L186.0 175.8L188.0 175.3L196.0 178.3L208.0 184.6L212.0 185.5L214.0 186.8L216.7 190.0L221.3 198.0L232.1 214.0L234.7 220.0L235.9 228.0L238.0 228.9L240.4 228.0L248.0 218.8L252.0 211.3L256.0 208.0L260.0 203.5L262.5 202.0L266.0 200.7L270.0 200.0L290.0 199.2L304.0 192.2L316.0 184.9L320.0 183.6L326.0 182.9L332.0 180.6L338.0 177.5L346.0 175.5L352.0 174.5L362.0 175.2L370.0 174.9L378.0 173.8L382.0 174.3L400.0 178.4L402.0 179.2L410.0 184.6L415.0 190.0L418.0 190.6L420.0 190.0L422.3 188.0L429.2 174.0L431.7 170.0L438.0 163.7L448.0 157.8L469.5 152.0L472.0 150.0L473.5 148.0L476.0 142.0L476.2 134.0L475.8 132.0L473.4 126.0L472.0 124.4L468.5 122.0L467.3 120.0L468.0 117.8L472.0 117.4L484.0 119.6L486.0 119.5L492.0 117.7L516.0 112.8L522.0 113.3L532.0 115.4L536.0 115.2L542.0 113.3L550.0 112.2L556.0 110.0L564.0 108.7L570.0 105.5L576.0 103.9L580.5 102.0L586.0 100.8L594.0 97.6L604.3 96.0L608.7 94.0L614.0 90.7L618.0 89.5L619.1 88.0M705.3 88.0L705.2 90.0L704.7 92.0L704.0 92.6L696.0 93.5L694.5 94.0L692.1 96.0L692.3 98.0L696.0 104.8L698.0 107.2L700.0 108.3L710.0 111.5L713.8 114.0L716.0 114.7L720.0 115.0L726.0 114.4L728.0 115.0L730.6 118.0L732.4 124.0L733.6 126.0L736.0 127.6L740.0 128.8L754.0 131.2L760.0 134.4L767.7 140.0L770.0 140.6L774.0 140.8M66.0 135.1L68.0 135.5L72.0 137.5L76.0 140.6L86.0 145.7L90.0 148.7L108.0 157.8L112.0 160.8L122.0 165.8L126.0 168.9L130.0 170.9L134.0 171.7L136.0 172.7L140.0 173.7L146.0 176.7L150.0 177.7L154.7 180.0L155.8 182.0L155.5 184.0L152.0 190.0L152.0 193.7L156.0 195.6L164.0 202.0L166.0 202.3L168.0 201.5L176.0 195.9L182.0 193.3L186.0 193.4L198.0 197.9L200.8 200.0L206.4 206.0L208.0 207.0L212.0 207.3L214.0 208.0L216.0 209.9L219.5 214.0L223.4 220.0L228.9 232.0L230.0 232.7L232.0 233.0L236.0 232.2L242.0 228.3L250.4 218.0L254.0 212.8L260.7 206.0L264.0 203.7L270.0 201.7L284.0 201.5L290.0 200.9L306.0 193.6L316.0 187.5L320.0 186.6L324.0 186.9L328.0 186.4L338.2 180.0L344.0 177.9L354.0 176.3L362.0 177.2L379.4 178.0L400.0 183.8L410.0 188.6L414.0 191.2L418.0 192.0L420.0 191.4L422.2 190.0L423.9 188.0L432.0 171.8L436.0 167.3L439.8 164.0L448.0 159.3L459.2 156.0L470.0 153.7L472.9 152.0L475.3 150.0L479.2 146.0L480.3 144.0L485.4 130.0L487.1 128.0L494.0 125.5L496.0 125.5L504.0 127.3L516.0 125.8L534.0 126.9L542.0 126.8L546.0 127.7L550.0 129.8L560.0 133.1L564.0 134.0L574.0 131.4L582.0 130.0L597.3 124.0L598.8 122.0L600.0 118.0L602.6 114.0L605.7 108.0L607.7 106.0L612.4 102.0L616.0 99.9L620.0 99.6L626.0 100.8L628.0 99.7L631.0 96.0L635.5 92.0L636.5 88.0M66.0 135.6L71.6 138.0L76.0 141.3L85.4 146.0L90.0 149.4L107.0 158.0L112.0 161.5L121.1 166.0L128.0 170.7L139.1 174.0L146.0 177.3L149.1 178.0L153.1 180.0L154.1 182.0L153.5 184.0L146.0 195.6L143.3 202.0L141.8 204.0L139.4 210.0L140.0 211.6L143.0 214.0L150.0 223.5L154.0 227.1L156.0 227.2L160.0 225.0L172.0 213.8L178.0 210.9L180.0 210.7L183.0 212.0L190.9 218.0L198.0 220.4L206.0 224.4L208.0 225.1L214.0 224.3L216.0 226.6L220.7 236.0L222.0 237.7L224.0 238.2L230.0 236.5L235.7 234.0L241.5 230.0L258.0 212.3L262.5 208.0L266.0 205.6L270.0 204.0L272.0 203.7L282.0 203.7L292.0 202.1L302.0 198.3L309.7 196.0L318.0 192.0L330.7 190.0L334.1 188.0L340.0 183.4L344.0 181.7L358.0 180.8L378.0 183.1L390.0 187.0L398.0 188.4L414.0 193.0L418.0 193.5L421.9 192.0L424.4 190.0L426.9 186.0L430.0 179.2L433.9 172.0L438.0 167.6L440.0 165.8L446.2 162.0L450.9 160.0L457.7 158.0L494.0 150.6L496.0 150.4L500.0 151.4L502.0 151.4L510.0 149.0L522.0 149.1L526.0 148.5L532.0 146.7L538.0 146.4L558.0 143.8L566.0 143.6L568.2 144.0L572.0 146.3L574.0 146.8L576.0 146.5L584.0 143.5L594.0 137.5L598.0 136.6L604.0 136.2L608.0 136.7L612.0 138.0L618.0 137.8L622.8 136.0L638.0 127.7L644.0 127.2L650.0 125.5L660.0 128.8L664.0 129.7L676.0 130.3L682.0 128.6L684.0 129.1L688.0 132.5L690.0 133.5L696.0 135.2L702.0 137.6L708.0 137.5L714.0 138.6L730.0 139.6L738.0 142.0L750.0 147.2L756.0 152.0L762.0 155.5L770.0 165.5L772.0 170.7L774.0 174.0M66.0 136.3L70.3 138.0L76.0 141.9L84.0 146.0L88.0 148.9L105.4 158.0L112.0 162.4L119.4 166.0L128.0 171.7L130.0 172.7L134.0 173.3L140.0 175.2L144.0 177.2L150.0 179.2L152.0 180.4L152.9 182.0L152.3 184.0L145.3 194.0L142.6 200.0L138.8 206.0L135.3 210.0L133.1 216.0L130.5 220.0L129.0 224.0L127.7 226.0L127.3 228.0L127.5 230.0L128.0 230.6L130.0 230.8L132.0 231.9L136.9 240.0L140.0 243.0L144.0 245.8L146.0 246.0L148.0 245.0L164.0 232.1L166.0 231.1L170.0 230.6L174.2 232.0L188.0 242.7L190.0 243.7L206.0 248.4L208.0 248.4L214.0 245.2L218.0 244.0L222.5 242.0L238.0 233.9L243.1 230.0L252.0 220.6L264.0 210.8L268.0 208.2L274.0 206.5L284.0 205.9L298.0 202.5L318.0 198.5L326.0 194.8L332.0 194.0L340.0 190.5L342.0 190.0L364.0 188.5L380.0 190.8L390.0 193.2L398.0 193.5L416.0 195.5L420.0 195.0L428.0 192.0L434.0 192.4L436.0 191.3L438.9 188.0L440.2 186.0L443.5 178.0L446.0 174.6L452.0 169.8L458.0 167.7L468.0 168.3L474.0 166.6L476.0 166.7L478.7 168.0L484.0 171.7L499.2 180.0L504.0 181.5L508.0 181.9L514.0 180.3L522.0 174.7L526.0 173.1L532.0 171.7L552.0 168.5L556.3 164.0L558.0 163.4L560.0 163.4L570.0 168.3L584.0 173.4L602.0 183.5L610.0 185.8L620.0 189.9L622.0 189.9L625.5 188.0L626.7 186.0L627.9 182.0L634.1 178.0L636.5 176.0L637.5 174.0L638.0 171.2L640.0 170.6L645.2 176.0L650.0 179.4L654.0 183.2L656.0 183.5L660.0 181.9L666.0 182.5L670.0 182.3L676.0 180.1L678.0 180.3L682.0 182.8L684.0 183.1L687.5 182.0L692.0 179.4L694.0 178.9L696.0 179.2L700.0 181.6L704.8 186.0L707.1 192.0L708.0 192.5L711.2 192.0L716.0 189.5L718.0 189.2L726.0 190.0L736.0 186.2L746.0 185.4L750.0 186.1L756.0 189.1L766.0 192.8L768.0 192.7L768.8 192.0L772.0 191.1L774.0 191.1M66.0 137.3L68.5 138.0L72.0 139.9L76.0 143.1L85.7 148.0L90.0 151.2L95.9 154.0L100.0 156.9L106.7 160.0L110.0 162.6L120.7 168.0L126.2 172.0L129.8 176.0L128.0 182.9L127.6 190.0L130.0 205.8L130.8 208.0L129.9 214.0L126.7 222.0L122.0 231.3L118.9 236.0L118.0 238.4L115.3 242.0L113.9 246.0L113.1 250.0L111.9 252.0L112.0 252.7L114.0 253.3L118.0 252.7L124.0 255.4L126.9 258.0L132.0 264.7L134.0 266.5L136.0 267.5L138.0 267.5L142.0 265.4L146.0 261.7L152.0 254.5L156.0 250.8L160.0 248.5L162.0 248.5L174.0 254.3L180.0 259.0L188.0 262.4L189.9 264.0L191.9 268.0L196.0 268.8L200.0 268.5L202.0 267.0L202.5 266.0L203.0 262.0L205.2 256.0L209.1 252.0L216.0 247.1L238.0 235.1L244.8 230.0L253.3 222.0L268.1 212.0L274.0 209.8L282.0 209.1L296.0 205.5L304.0 205.7L310.0 205.1L316.0 205.3L318.0 204.9L324.0 200.2L328.0 198.4L338.0 197.0L346.0 197.2L366.0 196.4L380.0 197.4L398.0 200.2L408.0 198.8L422.0 198.0L430.0 199.1L438.0 202.7L442.0 204.0L450.0 204.8L452.2 204.0L454.9 202.0L461.6 196.0L468.0 191.2L470.0 190.1L478.0 187.6L482.0 188.0L488.0 191.0L490.0 191.4L496.0 190.8L506.0 190.9L518.0 188.2L522.0 187.9L524.0 188.3L528.0 192.9L532.0 195.6L534.0 196.1L540.0 196.0L546.0 196.7L554.0 195.8L561.0 198.0L564.4 200.0L567.1 206.0L570.0 207.4L576.0 209.2L582.0 212.3L584.0 212.6L588.0 211.0L594.0 212.2L602.0 212.6L608.0 214.4L612.0 214.7L616.0 214.3L622.0 212.0L624.0 211.7L632.0 212.2L640.0 211.0L648.0 212.2L654.0 215.4L662.0 217.8L664.0 218.8L671.1 226.0L674.0 228.1L676.0 228.9L678.0 229.1L686.0 227.6L690.0 225.6L694.0 224.5L698.0 224.6L702.0 226.0L706.0 225.4L712.0 223.5L716.0 223.3L728.0 224.8L736.0 226.7L744.0 226.6L749.3 230.0L754.0 231.1L760.0 230.6L768.0 228.2L770.0 234.8L770.3 244.0L772.1 264.0L774.0 277.0M132.0 174.1L140.0 176.0L146.0 179.1L150.0 180.0L151.5 182.0L150.7 184.0L144.9 192.0L140.9 200.0L138.0 204.2L136.0 205.9L132.6 206.0L132.1 204.0L132.8 192.0L131.2 186.0L130.1 176.0ZM66.0 139.4L68.2 140.0L74.0 145.0L76.5 146.0L77.4 148.0L76.0 148.4L74.0 148.3L70.0 147.1L66.0 146.8M66.0 171.1L76.0 173.2L82.0 175.8L88.0 177.4L93.1 182.0L96.0 183.6L98.0 187.6L100.1 194.0L100.6 202.0L100.4 204.0L99.0 208.0L102.0 210.1L105.2 216.0L105.7 222.0L107.0 228.0L106.0 234.4L105.3 236.0L104.0 238.3L102.0 238.2L99.7 234.0L98.0 231.9L94.8 230.0L95.3 226.0L94.2 224.0L92.0 222.0L92.0 216.0L91.2 212.0L93.3 208.0L91.2 206.0L88.0 205.1L86.0 205.2L85.4 206.0L84.8 210.0L79.6 218.0L77.7 220.0L70.0 224.6L66.0 225.9M66.0 204.0L75.3 200.0L75.6 198.0L74.0 196.9L72.0 194.5L71.1 192.0L70.6 188.0L70.0 187.0L68.1 186.0L66.0 185.8M66.0 233.3L68.0 233.8L70.0 235.1L74.0 241.0L80.0 237.8L86.0 236.7L87.7 236.0L92.0 231.7L92.4 232.0L93.4 234.0L93.6 236.0L92.4 242.0L92.8 244.0L95.9 248.0L98.0 253.1L100.0 256.0L100.0 258.8L99.0 262.0L97.8 264.0L96.0 265.1L94.0 265.3L91.7 264.0L89.8 262.0L87.4 258.0L84.0 254.8L80.0 252.7L75.6 252.0L74.0 250.9L73.3 250.0L72.0 245.6L66.0 245.7M66.0 274.2L74.6 276.0L80.0 276.0L82.0 275.6L86.0 273.3L88.0 272.8L90.0 273.5L92.0 275.3L94.0 275.6L106.0 271.5L114.0 270.8L120.0 271.1L128.0 272.8L138.0 271.9L146.0 273.1L148.0 272.6L148.8 272.0L152.0 268.2L154.0 266.9L156.0 266.6L168.0 267.4L174.0 268.6L180.0 270.7L184.0 273.4L186.0 273.6L200.0 271.4L202.0 270.4L204.0 267.3L204.8 262.0L206.1 258.0L208.0 255.2L211.6 252.0L217.5 248.0L238.0 236.5L242.0 233.3L254.0 225.8L267.2 218.0L272.0 215.9L276.0 215.3L284.0 215.0L290.0 213.4L296.0 210.9L298.0 210.8L310.0 214.0L314.0 213.6L320.0 211.1L326.0 205.3L330.0 203.8L364.0 204.1L376.0 203.6L382.0 204.6L388.0 206.1L394.0 208.6L398.0 209.2L402.0 208.3L408.0 205.9L416.0 204.1L420.0 204.0L426.1 206.0L429.4 208.0L433.8 212.0L438.0 216.6L440.0 217.6L448.0 217.2L451.1 218.0L456.0 220.3L460.0 218.9L466.0 214.8L468.0 214.0L474.0 213.7L476.0 214.1L482.0 217.0L490.0 218.4L498.0 216.9L508.0 216.6L510.0 217.1L520.0 223.2L528.0 224.4L534.0 223.5L538.0 223.6L540.0 224.3L546.0 227.9L550.0 228.9L560.0 227.7L566.0 225.2L570.0 224.2L582.0 225.2L586.4 226.0L592.0 227.8L600.0 233.4L604.0 234.9L608.8 236.0L614.0 235.5L630.0 231.0L636.0 230.5L640.0 231.1L641.5 232.0L644.7 236.0L654.0 243.5L655.7 248.0L655.0 252.0L655.5 254.0L658.0 255.0L666.0 255.9L668.0 256.5L674.0 260.7L676.0 263.9L676.3 266.0L676.0 272.1L672.6 278.0L670.1 286.0L664.5 296.0L661.0 304.0L655.5 312.0L651.3 320.0L650.6 324.0L650.8 326.0L652.0 328.8L654.0 329.9L656.0 329.2L662.5 324.0L664.0 323.3L666.0 323.2L670.0 324.1L678.0 320.1L684.7 316.0L686.9 314.0L688.0 312.1L690.0 305.2L693.0 298.0L698.0 291.8L702.0 288.6L708.0 285.6L714.6 280.0L718.0 277.8L720.1 276.0L726.0 268.5L728.0 266.7L730.0 265.9L736.0 264.9L740.0 263.4L744.0 263.3L752.0 266.8L766.0 268.7L768.0 271.1L770.0 280.8L771.8 296.0L773.6 300.0L774.0 302.0L774.0 311.7M84.0 157.5L86.0 156.4L88.0 156.4L89.2 158.0L89.3 160.0L86.0 164.3L84.0 165.9L82.0 166.5L80.0 166.0L79.1 164.0L79.2 162.0L80.6 160.0L83.2 158.0ZM66.0 279.0L70.0 279.0L76.0 280.7L82.0 280.8L88.0 282.3L92.0 282.7L98.0 278.3L104.0 275.7L108.0 274.7L116.0 273.8L128.0 275.4L138.0 274.8L148.0 276.8L150.0 276.0L154.0 271.9L156.0 271.1L164.0 270.7L170.0 271.3L176.0 273.1L179.9 276.0L182.1 280.0L186.0 289.7L188.0 293.0L193.9 300.0L198.0 302.5L200.5 302.0L201.3 300.0L197.3 292.0L195.0 286.0L195.1 284.0L199.0 276.0L204.0 271.9L205.5 268.0L206.5 262.0L208.0 258.0L211.8 254.0L217.4 250.0L244.0 234.5L246.0 235.0L248.9 238.0L250.1 242.0L252.0 245.4L264.0 251.6L270.0 257.1L276.0 259.5L288.0 261.7L290.5 260.0L290.9 254.0L292.0 251.9L294.0 250.7L302.0 250.2L310.0 247.8L322.0 243.1L324.0 242.7L336.0 245.0L338.0 245.2L344.0 244.2L352.0 246.3L358.0 245.1L360.0 245.3L366.0 247.2L370.0 247.6L374.7 246.0L375.5 244.0L375.1 242.0L376.0 239.6L381.2 236.0L384.0 235.3L387.9 236.0L394.0 238.1L400.0 237.4L410.0 237.9L416.0 236.6L418.0 237.0L425.2 242.0L434.0 246.0L444.0 246.7L452.0 246.1L460.0 249.9L464.0 250.7L470.0 249.6L476.0 250.6L478.0 250.4L482.0 248.8L488.0 247.9L491.6 246.0L498.0 241.1L500.0 240.4L502.0 240.5L508.0 243.0L514.0 246.2L516.0 246.3L522.0 244.5L524.0 245.0L528.0 250.6L530.0 252.1L532.0 252.7L546.0 252.2L550.0 251.0L556.0 247.6L558.0 247.3L560.0 247.7L564.1 250.0L566.0 251.6L572.0 258.7L578.0 267.9L580.0 269.8L582.0 270.1L586.0 269.4L594.0 269.5L600.0 268.2L602.0 269.3L606.0 274.2L612.0 277.9L618.0 283.3L626.0 287.6L628.0 289.1L632.5 296.0L640.7 302.0L641.4 304.0L642.0 310.0L640.4 316.0L639.6 324.0L640.9 328.0L646.7 338.0L647.7 342.0L648.7 350.0L652.0 358.0L652.8 364.0L651.6 374.0L652.0 376.5L654.0 381.7L655.9 380.0L654.8 372.0L655.2 370.0L656.8 368.0L660.0 366.6L666.0 367.6L670.0 367.7L672.0 367.5L674.0 366.5L681.9 356.0L688.0 352.3L692.0 348.5L698.0 345.1L709.1 334.0L712.0 327.9L720.0 323.4L722.0 320.8L723.2 316.0L724.5 314.0L728.0 311.2L735.2 302.0L738.0 299.9L740.0 299.5L748.0 301.4L756.0 302.1L762.0 305.6L764.0 305.9L768.0 304.3L770.0 307.9L772.0 320.0L772.8 336.0L774.0 337.3M66.0 282.1L70.0 282.0L74.0 283.2L84.0 284.0L90.0 287.1L94.0 285.7L98.0 282.1L100.0 281.1L106.0 278.9L110.7 278.0L118.0 277.3L130.0 279.0L140.0 278.8L148.0 280.2L150.0 279.9L156.0 275.4L158.0 274.7L164.0 274.0L168.0 274.5L173.1 276.0L176.0 278.1L178.0 281.2L182.7 292.0L188.9 300.0L192.0 302.5L196.0 304.7L198.0 304.9L200.0 304.5L203.3 302.0L204.7 300.0L205.1 298.0L203.0 292.0L201.9 284.0L203.7 280.0L208.6 274.0L208.8 272.0L208.0 270.0L210.0 261.5L214.0 257.0L218.0 254.1L232.0 246.6L236.0 245.4L238.0 245.4L240.0 246.8L246.0 255.6L246.3 258.0L245.7 262.0L250.0 265.0L253.5 270.0L264.0 275.9L270.0 280.1L274.0 281.6L278.0 282.2L288.0 281.1L298.0 278.2L312.0 277.6L326.0 273.7L338.0 271.6L344.0 271.8L364.0 268.0L368.0 268.3L378.0 270.3L386.0 270.6L406.0 269.3L412.0 268.5L418.0 269.7L424.0 269.4L432.0 268.0L446.0 264.1L456.0 265.9L464.0 265.9L470.0 266.6L478.0 265.3L482.0 265.6L487.7 268.0L492.0 271.5L494.0 272.3L498.0 272.7L502.0 272.1L504.0 272.7L507.5 278.0L510.0 279.5L516.0 279.6L522.0 278.2L526.0 278.5L532.0 280.0L536.0 282.8L540.0 284.7L548.0 284.9L556.2 288.0L558.4 290.0L561.0 294.0L566.0 298.9L568.0 300.5L572.1 302.0L573.5 304.0L573.4 306.0L572.0 308.0L570.0 308.8L568.6 310.0L567.7 312.0L567.6 314.0L568.1 316.0L570.6 320.0L571.0 322.0L570.1 328.0L570.4 330.0L574.3 336.0L576.3 342.0L578.0 344.8L580.0 346.1L582.0 346.4L588.0 346.2L592.0 346.8L604.0 352.3L612.0 353.5L618.0 356.8L624.0 358.8L625.9 360.0L632.6 366.0L636.3 372.0L646.0 386.0L651.2 392.0L656.0 395.8L658.0 396.7L660.0 396.9L660.9 396.0L662.0 391.8L664.0 388.1L666.0 387.8L668.0 388.5L672.5 392.0L676.0 393.7L678.0 393.7L686.0 390.9L696.0 390.3L700.0 390.6L702.6 390.0L704.7 388.0L706.7 382.0L707.9 380.0L713.9 374.0L719.0 366.0L720.1 364.0L720.4 362.0L719.9 356.0L721.9 352.0L724.0 350.0L726.0 349.0L732.0 348.5L740.0 345.4L742.3 344.0L746.0 338.9L748.0 337.9L754.0 336.0L758.0 336.0L764.0 338.7L768.0 339.9L774.0 338.9M66.0 288.0L70.0 287.8L74.0 289.2L82.0 288.9L84.0 289.7L87.3 292.0L87.4 294.0L86.7 296.0L88.0 297.1L89.4 296.0L89.2 294.0L94.0 291.9L104.0 289.5L106.0 289.4L110.0 290.7L112.0 290.8L116.0 289.2L120.0 288.5L126.0 290.1L132.0 288.7L140.0 289.3L142.0 289.1L148.0 286.9L158.0 282.5L162.0 281.6L166.0 281.8L170.0 283.8L172.5 286.0L179.2 298.0L181.9 302.0L184.0 303.9L192.0 307.4L196.0 308.1L198.0 307.5L202.0 305.4L206.0 302.0L209.5 298.0L209.8 296.0L208.7 290.0L209.1 288.0L210.0 286.0L212.0 285.8L218.0 289.3L224.0 291.7L230.0 291.8L236.0 290.7L238.0 291.8L242.0 297.2L244.0 298.5L248.0 299.9L260.0 300.7L266.0 299.5L272.0 299.0L288.0 298.5L290.0 299.2L296.0 303.4L300.0 304.4L306.0 304.1L308.0 303.5L312.0 301.1L315.5 298.0L320.0 291.8L328.0 285.5L332.0 284.4L340.0 283.4L344.0 283.7L350.0 286.8L352.0 287.1L358.0 286.2L366.0 286.6L388.0 284.9L392.0 285.0L398.0 287.5L410.0 290.2L414.0 290.7L422.0 290.5L426.0 291.3L438.0 297.9L440.0 297.8L446.0 293.7L456.0 290.8L457.1 292.0L458.0 294.5L460.0 296.0L462.0 295.9L466.0 294.3L468.0 294.7L472.0 298.0L475.7 302.0L477.5 306.0L480.1 316.0L483.3 322.0L484.2 326.0L485.7 328.0L494.0 334.0L496.0 333.3L497.1 332.0L497.8 330.0L497.2 328.0L494.6 324.0L494.3 322.0L496.0 321.0L500.0 322.0L502.0 323.7L505.2 328.0L509.2 332.0L514.9 340.0L518.0 345.5L521.5 348.0L523.3 350.0L522.7 352.0L520.0 352.4L516.5 352.0L512.0 350.6L509.4 352.0L508.0 356.0L506.0 356.1L504.0 355.3L502.8 356.0L503.1 362.0L504.2 366.0L505.7 368.0L513.1 374.0L522.0 375.1L530.0 378.0L536.0 378.2L540.0 379.0L548.0 381.6L552.0 380.8L558.0 377.0L560.0 376.4L564.0 376.4L570.0 377.3L580.0 376.7L583.0 376.0L585.1 374.0L586.0 373.9L588.0 373.8L592.0 374.7L598.0 378.0L604.0 379.6L606.0 379.2L608.0 377.8L612.0 377.8L616.1 380.0L618.7 384.0L620.0 385.1L622.0 385.9L626.0 386.3L628.0 386.9L644.0 398.4L646.0 399.3L656.0 401.3L660.0 403.2L664.0 404.4L672.0 405.3L674.0 406.1L682.0 411.3L686.0 412.9L694.0 412.2L704.0 412.8L707.4 412.0L712.0 410.1L718.0 409.8L722.0 408.8L726.0 405.9L734.0 394.4L740.0 389.8L744.0 384.5L748.0 381.5L754.0 375.8L756.0 375.0L758.0 375.1L768.0 376.6L770.0 374.2L772.3 344.0L772.5 342.0L774.0 340.2M333.8 550.0L332.0 549.2L320.0 549.5L308.0 548.9L300.0 549.3L284.0 548.7L274.0 549.4L252.0 549.5L250.0 549.4L246.7 548.0L244.0 547.6L220.0 546.4L206.0 547.3L205.3 548.0L205.2 550.0M86.0 300.8L84.5 302.0L86.0 302.8L86.6 302.0ZM488.0 339.5L487.2 340.0L488.0 341.0L490.0 340.8L491.1 340.0L490.0 338.7ZM216.0 523.3L214.0 525.0L209.0 534.0L208.7 536.0L209.1 538.0L212.0 539.3L218.0 539.5L235.2 538.0L236.0 537.1L236.7 536.0L237.7 530.0L238.0 528.0L237.6 526.0L236.0 524.8L234.0 524.3L230.0 523.9L224.0 524.2L218.0 522.9ZM66.0 323.4L68.0 324.3L69.7 326.0L76.0 333.9L78.7 332.0L80.0 330.2L82.0 329.2L84.0 331.6L87.7 338.0L90.0 340.4L92.0 341.4L100.0 342.9L110.0 347.2L112.0 349.4L114.0 357.7L116.0 358.5L118.0 357.3L120.0 355.3L126.0 347.1L128.0 346.1L134.0 346.7L144.0 345.8L146.0 345.2L152.0 341.2L154.5 338.0L156.9 332.0L159.7 328.0L158.2 324.0L149.4 308.0L147.9 300.0L147.9 298.0L149.5 296.0L152.0 294.0L156.0 292.0L162.0 291.9L166.0 293.6L168.5 296.0L172.0 301.9L177.2 316.0L176.8 318.0L172.0 323.3L170.7 324.0L172.0 324.4L177.1 322.0L183.0 318.0L184.4 316.0L185.1 314.0L188.0 313.3L196.0 313.6L202.0 311.7L204.0 311.5L208.0 311.8L210.0 312.1L212.0 313.3L214.0 316.2L216.0 316.8L220.0 316.0L222.0 316.2L232.5 318.0L240.0 320.5L246.0 320.6L250.0 319.8L254.0 317.8L260.0 312.0L262.0 311.7L264.6 312.0L266.0 312.6L268.0 312.5L272.0 311.0L278.0 310.5L280.0 310.7L282.0 311.8L282.9 314.0L283.4 318.0L286.1 320.0L296.0 323.4L302.0 324.4L308.0 327.9L310.0 328.3L318.0 328.1L320.0 327.5L321.5 326.0L321.4 324.0L320.5 322.0L317.0 318.0L315.8 316.0L316.3 312.0L318.0 308.0L320.3 306.0L324.0 304.6L330.0 305.5L332.0 306.4L334.0 308.4L335.1 310.0L337.1 316.0L338.0 317.3L340.0 318.4L342.0 318.4L346.0 316.9L348.0 317.1L352.0 319.3L354.0 319.6L358.0 318.6L362.0 316.3L364.0 318.2L366.1 322.0L368.0 323.3L372.0 323.8L374.0 324.6L377.5 328.0L378.0 329.4L378.8 330.0L378.0 331.4L378.0 334.1L380.0 334.0L380.4 330.0L382.0 327.6L383.4 324.0L383.4 322.0L382.2 318.0L384.0 316.9L396.0 323.0L400.0 323.2L408.0 321.5L410.0 321.5L414.0 322.3L418.2 324.0L420.2 326.0L420.6 328.0L420.0 330.0L418.0 334.7L413.4 340.0L413.9 342.0L424.0 351.1L426.0 353.7L428.0 358.0L428.5 360.0L428.0 366.1L430.0 367.7L434.0 367.7L438.0 368.5L443.7 372.0L446.0 372.8L452.0 372.6L454.7 374.0L460.0 382.7L464.1 392.0L463.6 396.0L464.7 398.0L466.4 400.0L470.0 406.0L478.0 414.8L480.0 415.0L481.6 414.0L486.0 408.6L488.0 407.5L494.0 408.2L498.0 407.7L499.7 406.0L498.8 402.0L500.0 401.2L502.0 400.9L504.0 401.1L506.0 402.0L508.0 403.6L514.0 406.6L516.0 407.0L522.0 407.2L524.7 408.0L527.9 410.0L532.0 414.6L538.0 416.6L542.0 420.0L546.0 424.9L548.0 426.1L550.0 426.5L556.0 425.4L558.0 425.5L564.0 427.2L566.0 426.8L569.9 424.0L576.0 417.7L579.0 416.0L588.0 412.8L592.0 410.3L594.0 409.6L596.0 410.0L596.3 414.0L597.2 416.0L598.9 418.0L602.0 420.1L604.0 420.3L614.0 417.2L618.0 415.0L620.0 414.4L626.0 414.7L632.0 416.7L634.0 416.9L644.0 416.4L650.0 414.5L654.0 414.2L664.0 415.3L670.0 417.5L676.0 420.7L684.0 427.5L694.0 434.2L698.0 436.2L704.0 437.8L706.0 437.3L713.6 432.0L716.0 431.3L730.0 432.2L740.0 430.4L748.0 427.7L758.0 427.3L760.0 426.7L761.3 426.0L762.7 424.0L763.3 420.0L764.3 418.0L766.0 416.6L770.0 416.2L771.6 408.0L771.9 396.0L772.9 386.0L774.0 346.4M336.8 550.0L335.7 548.0L334.0 546.5L332.0 546.1L252.0 545.9L248.2 544.0L250.0 543.0L252.0 542.9L290.0 542.3L332.0 539.9L350.5 538.0L352.2 536.0L346.0 531.1L342.0 529.7L335.9 526.0L332.0 522.4L326.0 523.8L324.0 521.1L323.9 516.0L326.4 510.0L327.3 506.0L326.9 502.0L324.8 496.0L324.9 494.0L325.7 492.0L328.6 488.0L329.3 486.0L328.1 478.0L328.3 474.0L327.3 466.0L327.6 464.0L328.8 462.0L332.5 460.0L334.3 458.0L334.3 456.0L333.5 454.0L332.0 452.4L330.0 451.5L322.0 451.2L320.0 452.1L316.0 455.3L314.0 456.1L312.0 456.3L306.0 455.1L304.0 455.2L300.0 457.8L298.0 457.1L295.8 454.0L292.9 452.0L288.1 450.0L270.0 448.6L264.0 449.9L258.0 453.1L252.0 454.8L244.0 459.2L236.0 461.8L234.0 463.3L230.0 467.9L222.0 473.4L216.0 479.7L205.7 496.0L204.5 500.0L202.8 510.0L198.7 518.0L196.2 524.0L193.5 528.0L193.0 530.0L193.1 538.0L194.0 542.0L196.0 543.2L198.0 543.7L200.0 545.3L201.4 550.0M330.0 395.0L329.1 396.0L328.7 398.0L330.0 398.9L332.0 399.1L334.2 398.0L334.2 396.0L332.0 394.5ZM240.0 401.5L236.0 402.6L228.0 403.1L224.0 403.9L214.0 407.2L212.9 408.0L212.0 410.0L213.2 418.0L212.8 420.0L210.0 424.0L210.3 426.0L214.0 433.2L218.0 437.4L220.0 438.5L222.0 437.3L232.0 428.0L238.0 423.4L246.9 414.0L247.4 412.0L245.4 404.0L244.0 401.5L242.0 401.0ZM66.0 327.7L69.6 332.0L73.3 338.0L74.0 340.0L72.3 346.0L71.9 350.0L70.0 353.0L68.0 352.8L66.0 351.6M66.0 356.9L68.0 356.1L70.0 356.4L72.4 358.0L80.0 359.0L92.0 362.5L95.1 364.0L96.0 364.7L99.2 370.0L104.0 376.0L104.2 382.0L106.8 386.0L107.4 388.0L106.1 390.0L104.0 391.4L96.0 396.3L94.0 396.9L92.0 396.4L88.0 394.0L86.0 393.5L82.0 393.4L76.0 394.3L72.6 394.0L68.0 391.1L66.0 390.7M774.0 530.8L770.0 530.3L768.0 529.3L764.0 522.7L762.0 520.8L754.0 516.1L752.0 515.4L746.0 514.6L738.0 512.6L734.0 512.9L731.3 514.0L728.0 520.2L726.0 521.3L724.0 521.4L721.0 520.0L716.0 514.8L709.2 510.0L706.0 509.1L703.8 510.0L703.4 512.0L704.0 514.7L706.9 520.0L706.0 521.3L702.0 520.8L700.0 521.2L692.0 524.8L688.0 524.4L683.0 522.0L682.0 520.6L681.6 518.0L682.1 516.0L683.0 514.0L688.0 508.2L694.0 503.0L696.0 499.3L696.4 496.0L694.0 488.7L692.0 486.6L690.0 486.0L688.0 487.3L685.7 492.0L684.0 493.7L682.0 493.8L680.2 492.0L680.1 490.0L680.9 488.0L684.4 482.0L684.0 480.0L680.3 478.0L676.0 477.1L670.0 478.7L668.0 478.8L666.0 477.7L661.9 474.0L658.0 471.4L656.0 470.5L650.0 468.9L646.0 465.5L644.0 465.4L638.0 467.8L632.0 468.0L626.0 469.9L624.0 470.0L622.0 469.6L619.0 468.0L616.0 467.2L606.0 468.0L592.0 467.6L588.0 468.0L586.0 468.7L584.1 470.0L588.0 475.1L588.9 478.0L589.4 482.0L589.2 486.0L588.1 488.0L584.1 492.0L583.2 494.0L583.2 496.0L585.4 502.0L585.2 504.0L580.0 509.6L576.0 519.4L571.8 524.0L572.1 528.0L573.3 534.0L573.2 538.0L573.9 540.0L580.0 545.4L588.0 547.9L589.2 550.0M160.2 550.0L160.1 548.0L161.2 546.0L164.0 545.1L174.0 547.0L175.6 548.0L175.3 550.0M342.8 550.0L346.0 549.1L356.0 547.8L368.0 547.9L382.0 549.6L388.0 547.5L400.0 547.6L403.5 548.0L406.0 549.0L408.0 548.8L412.0 547.2L422.7 546.0L426.0 544.9L432.2 544.0L436.0 542.1L438.0 542.5L440.0 544.0L442.0 544.6L454.0 546.1L472.1 546.0L475.1 544.0L471.9 542.0L474.1 540.0L474.6 538.0L471.3 534.0L470.4 532.0L469.6 526.0L466.0 519.3L460.0 514.9L454.0 509.2L452.0 508.1L444.0 508.5L439.1 506.0L437.8 504.0L437.9 498.0L437.5 496.0L436.0 492.0L434.7 490.0L432.1 488.0L426.0 486.3L422.8 484.0L422.3 482.0L427.3 466.0L426.9 464.0L424.6 460.0L428.0 460.1L436.0 462.7L448.0 464.4L450.0 463.8L454.0 460.4L456.0 459.6L459.1 460.0L464.0 463.3L466.0 463.6L468.0 463.2L469.9 462.0L472.0 459.7L474.0 458.4L476.0 458.8L477.1 460.0L478.7 464.0L480.0 465.9L486.0 467.8L492.0 471.9L494.0 472.5L496.0 472.5L500.0 471.0L502.0 471.6L505.2 474.0L508.0 475.1L512.0 475.8L514.0 475.7L518.0 474.7L522.0 472.9L532.3 464.0L540.0 458.6L541.7 458.0L548.0 458.7L562.0 456.9L564.0 457.3L566.0 458.8L568.0 457.8L569.0 456.0L572.0 454.5L582.0 452.9L588.0 450.3L600.0 451.2L610.0 449.5L612.9 448.0L616.0 442.7L620.0 439.5L632.0 435.0L636.7 432.0L640.0 430.5L648.0 428.4L652.0 427.9L660.0 429.4L666.0 429.3L670.4 430.0L674.2 432.0L682.0 437.8L686.8 440.0L694.0 444.9L710.0 449.6L722.0 448.8L736.0 449.1L764.0 445.4L770.0 446.0L774.0 448.0M561.1 550.0L560.6 548.0L558.0 546.7L556.0 546.8L555.5 548.0L556.0 550.0M764.1 550.0L764.7 546.0L766.9 542.0L770.0 539.7L774.0 538.9M130.0 375.4L136.0 374.6L140.0 374.8L142.0 375.7L146.0 378.7L148.0 379.0L149.1 380.0L149.2 382.0L148.1 388.0L147.0 390.0L142.0 393.1L138.0 394.4L130.0 393.9L125.0 392.0L123.6 390.0L123.8 386.0L126.0 379.5L128.0 376.5L128.8 376.0ZM170.0 377.8L175.2 386.0L182.0 390.3L183.3 392.0L185.0 396.0L184.7 398.0L183.3 400.0L178.0 404.0L176.0 404.8L170.0 405.0L166.0 405.7L164.0 404.9L162.0 402.5L157.6 396.0L157.0 394.0L158.0 391.3L164.3 388.0L165.7 386.0L167.6 380.0L169.7 378.0ZM160.0 409.4L164.0 409.0L168.0 409.8L174.0 410.2L182.0 412.1L184.0 412.2L188.0 410.5L190.0 410.6L192.0 411.4L198.0 415.8L200.0 418.8L201.6 424.0L204.6 428.0L206.0 430.7L206.9 434.0L206.7 436.0L200.4 442.0L196.0 451.2L184.0 461.5L182.0 462.7L178.0 463.5L170.0 462.5L164.0 463.1L161.0 464.0L156.0 467.2L144.0 469.1L136.0 467.9L134.0 466.9L130.0 461.7L120.0 458.4L118.0 459.3L114.0 463.3L112.0 464.0L106.0 464.1L98.0 467.1L96.0 466.9L94.3 466.0L92.2 464.0L91.0 462.0L90.7 460.0L91.0 458.0L92.1 456.0L96.0 451.6L102.0 446.4L105.3 440.0L107.7 438.0L111.1 436.0L116.0 430.5L118.0 430.3L126.0 434.4L128.0 434.4L137.2 432.0L140.4 430.0L142.0 428.1L143.6 424.0L146.0 421.1L148.0 419.7L152.0 418.1L154.0 416.2L155.9 412.0L158.2 410.0ZM144.0 412.2L146.0 412.4L147.5 414.0L146.0 415.6L144.0 415.5L142.4 414.0ZM416.0 455.0L418.0 454.5L420.2 456.0L421.4 458.0L420.7 460.0L418.0 460.1L416.0 459.1L415.1 458.0L415.3 456.0ZM560.0 469.2L558.3 470.0L557.1 472.0L558.0 473.7L560.0 474.2L562.0 473.2L563.1 472.0L563.5 470.0L562.0 469.1ZM618.0 482.9L620.0 482.4L622.0 483.3L622.2 484.0L620.0 485.6L618.0 485.8L616.3 484.0ZM174.0 485.8L180.0 485.1L182.0 486.3L184.0 488.8L189.5 498.0L190.9 504.0L192.8 508.0L192.4 510.0L187.8 516.0L178.0 526.1L170.0 529.9L168.0 530.3L164.0 528.3L156.0 520.8L150.0 518.3L146.4 516.0L144.6 514.0L144.1 510.0L145.0 506.0L146.2 504.0L148.0 502.0L155.4 498.0L158.0 493.3L160.0 491.9L164.0 491.5L166.0 490.7L170.0 487.2L172.6 486.0ZM124.0 493.1L126.0 493.2L128.0 494.2L129.1 496.0L129.0 502.0L129.5 504.0L137.4 514.0L138.4 516.0L138.0 520.3L137.1 522.0L136.0 522.8L134.0 523.0L132.0 522.4L128.0 520.2L126.0 519.9L122.0 521.1L120.0 520.6L118.6 518.0L118.0 514.0L118.4 510.0L120.5 498.0L122.2 494.0ZM564.0 511.9L564.3 514.0L566.0 516.1L566.4 514.0L566.0 512.8L564.0 511.9" fill="none" stroke="#000" stroke-opacity="0.75" stroke-width="0.7"/>
<path d="M66.0 280.1L70.0 280.1L76.0 281.8L82.0 281.9L92.0 284.5L94.0 283.6L98.0 279.9L104.0 277.4L109.9 276.0L118.0 275.4L130.0 277.0L138.0 276.4L148.0 278.4L150.0 277.9L154.0 274.1L156.0 273.0L164.0 272.2L170.0 272.9L174.1 274.0L178.0 276.8L180.0 280.0L184.1 290.0L186.5 294.0L191.6 300.0L196.0 303.1L198.0 303.9L200.0 303.5L202.0 302.1L203.1 300.0L202.9 298.0L200.2 292.0L198.5 284.0L200.5 280.0L205.0 274.0L208.4 260.0L211.5 256.0L216.8 252.0L242.0 237.5L244.0 237.4L244.7 238.0L246.0 240.1L248.9 248.0L255.0 254.0L257.8 258.0L262.0 262.5L272.0 269.3L280.0 271.9L290.0 271.9L294.0 271.0L296.0 269.6L300.0 265.7L302.0 264.8L304.0 264.8L310.0 267.3L312.0 267.6L322.0 263.8L330.0 263.3L342.0 260.9L352.0 260.0L360.0 258.2L368.0 257.8L376.0 259.1L382.0 257.6L384.0 257.5L390.0 258.7L394.0 258.8L402.0 255.3L412.0 252.4L416.0 251.9L418.0 252.1L428.0 255.7L436.0 256.5L444.0 255.4L450.0 255.7L454.0 256.9L460.0 260.3L472.0 261.6L476.0 260.5L482.3 258.0L498.0 251.0L500.0 250.3L502.0 250.2L506.1 252.0L516.0 264.2L520.0 265.2L532.0 265.4L544.9 270.0L554.0 271.1L556.0 271.8L562.0 275.0L568.9 280.0L580.5 286.0L588.0 294.2L592.0 297.2L596.0 298.9L602.0 299.8L604.0 300.7L610.6 310.0L611.4 312.0L612.0 320.0L612.7 322.0L614.8 324.0L620.0 326.8L622.0 328.7L628.0 336.7L631.2 340.0L634.0 341.1L638.0 341.6L639.9 344.0L640.4 348.0L639.4 354.0L639.6 356.0L641.4 362.0L641.9 368.0L643.2 372.0L650.7 386.0L655.0 392.0L658.0 393.8L659.3 392.0L660.5 380.0L662.0 376.3L664.0 376.8L668.0 379.4L670.0 380.2L672.0 380.0L681.4 376.0L688.2 372.0L702.5 360.0L704.0 358.0L708.0 350.7L714.0 344.9L726.0 337.1L732.3 334.0L735.3 330.0L738.0 321.5L740.0 318.8L742.0 317.7L752.0 319.4L758.0 321.1L764.0 321.0L768.0 320.0L770.0 321.2L771.3 336.0L773.0 338.0L774.0 338.2M66.0 284.9L70.0 284.7L76.0 286.3L82.0 286.2L84.0 286.7L88.0 289.2L90.0 289.8L92.0 289.2L100.0 284.1L112.0 281.3L122.0 280.7L130.0 282.2L138.0 282.7L144.0 283.8L150.0 282.8L158.0 278.2L162.0 277.3L166.0 277.3L170.0 278.7L174.0 281.5L176.0 284.4L180.7 294.0L186.0 301.2L192.0 304.9L196.0 306.2L200.0 305.4L202.0 304.3L206.2 300.0L207.1 298.0L207.0 296.0L205.4 290.0L205.4 284.0L205.9 282.0L208.0 279.4L214.4 274.0L218.0 269.7L220.0 270.1L224.0 273.1L226.0 273.7L232.0 274.2L238.0 276.5L242.7 280.0L248.6 286.0L254.0 288.9L280.0 291.2L292.0 289.4L298.0 290.3L302.0 289.9L310.0 287.3L318.0 283.7L324.3 280.0L340.0 277.4L354.0 276.9L364.0 277.7L370.0 277.5L378.0 278.1L392.0 277.8L398.0 278.1L402.0 277.7L416.0 280.3L424.0 280.0L430.0 281.9L434.0 281.3L442.0 278.9L448.0 278.4L458.0 276.2L464.6 276.0L468.0 277.0L474.0 280.7L478.0 280.6L484.0 283.6L487.7 286.0L492.0 290.2L496.0 292.2L500.0 295.8L512.0 296.8L514.0 297.9L518.0 301.2L524.0 307.5L526.0 308.8L532.0 310.8L533.6 312.0L534.4 314.0L535.2 320.0L536.0 321.6L539.4 326.0L542.0 330.5L548.0 335.0L555.1 354.0L556.5 356.0L559.5 358.0L562.0 358.6L566.0 358.7L570.0 360.5L572.0 360.6L578.1 360.0L584.0 358.8L588.0 358.8L602.0 364.8L610.0 365.8L614.0 366.8L622.0 370.0L626.0 372.8L634.0 379.8L640.4 388.0L648.0 394.2L660.0 400.0L662.0 400.1L666.0 397.4L668.0 397.4L672.0 398.7L680.0 403.1L682.0 403.6L702.0 401.6L714.0 397.7L716.0 396.0L717.1 394.0L718.2 390.0L719.4 388.0L730.6 380.0L739.6 372.0L742.0 368.0L745.2 358.0L748.0 354.5L750.0 353.3L752.0 353.1L758.0 355.1L768.0 355.0L770.0 351.4L771.2 342.0L772.5 340.0L774.0 339.5M66.0 320.3L68.0 319.6L74.0 318.8L76.0 317.8L80.0 317.0L82.0 315.9L84.0 313.3L87.7 310.0L88.0 309.2L90.0 312.1L92.2 322.0L94.0 326.4L96.0 329.4L98.0 330.8L100.0 331.4L108.0 331.9L110.0 331.1L112.0 329.1L114.4 324.0L116.0 321.8L118.0 321.5L124.0 323.2L126.0 322.8L130.0 320.7L131.5 318.0L132.2 310.0L133.4 308.0L138.0 303.8L140.9 298.0L144.1 294.0L146.4 292.0L153.4 288.0L160.0 286.4L164.0 286.5L168.0 288.1L170.0 289.5L172.0 292.0L178.8 304.0L182.0 306.9L186.0 308.4L194.0 310.3L196.0 310.3L198.0 309.7L208.0 302.3L210.0 301.1L212.0 300.7L214.0 300.9L216.0 301.9L220.0 305.0L222.0 305.7L238.0 306.0L248.0 309.1L250.0 309.3L256.0 305.8L272.0 304.7L284.0 304.8L287.2 306.0L292.0 312.3L294.0 313.3L298.0 313.9L302.0 313.3L310.0 309.3L313.0 306.0L319.7 300.0L322.0 297.1L324.0 295.7L332.0 294.4L340.0 295.5L342.0 296.6L346.0 300.5L348.0 301.5L352.0 302.0L372.0 297.6L376.0 297.6L382.0 296.4L384.0 296.7L392.0 299.4L399.1 304.0L406.0 305.0L412.0 307.2L420.0 308.6L422.0 309.4L432.0 316.8L436.0 319.0L448.0 323.3L452.0 322.8L453.2 324.0L453.4 326.0L451.2 330.0L449.7 334.0L449.6 336.0L450.4 338.0L455.1 342.0L458.7 346.0L460.0 348.0L462.0 353.7L464.0 356.3L468.0 358.5L474.0 363.9L476.0 364.7L482.0 365.6L484.0 366.8L486.0 369.9L487.0 374.0L489.1 378.0L494.0 383.3L495.4 384.0L502.0 384.4L514.0 390.7L518.0 391.4L522.0 391.3L530.0 387.7L534.0 387.9L540.0 391.2L544.0 392.3L548.0 395.8L550.0 396.7L556.0 394.4L562.0 394.4L570.0 392.6L572.0 392.8L574.8 394.0L578.0 398.2L580.0 397.2L583.6 394.0L586.0 392.9L590.0 392.1L594.0 392.3L598.0 393.7L612.0 400.8L616.0 401.8L620.0 402.0L626.0 404.8L634.0 404.9L640.0 407.2L644.0 407.8L652.0 406.8L656.0 407.1L674.0 413.0L678.0 415.3L688.0 423.3L692.0 425.2L694.0 425.1L700.0 423.3L706.0 423.2L714.0 422.0L722.0 422.4L728.0 421.9L732.0 421.0L739.2 418.0L742.0 416.1L746.1 412.0L748.0 410.0L750.6 406.0L756.0 401.4L762.0 394.8L768.0 392.0L770.0 390.3L772.0 377.1L773.0 348.0L773.5 342.0L774.0 341.4M335.5 550.0L334.0 548.1L332.0 547.4L252.0 547.4L250.0 547.1L246.0 545.4L244.0 545.2L220.0 544.2L204.0 544.6L202.8 546.0L203.2 550.0M222.0 416.0L220.0 417.3L218.5 420.0L213.7 424.0L213.2 426.0L214.0 428.5L216.0 431.6L218.0 432.8L220.0 431.3L224.0 424.3L228.5 418.0L227.0 416.0L224.0 415.7ZM264.0 475.8L260.0 478.5L258.0 479.1L256.0 479.1L252.0 478.0L250.0 478.1L242.3 480.0L232.0 488.9L226.0 493.4L222.0 495.3L216.0 496.4L214.3 498.0L207.7 514.0L204.0 520.1L200.6 530.0L200.8 536.0L201.9 540.0L204.0 541.5L208.0 542.6L220.0 543.1L228.2 542.0L248.0 540.5L258.0 540.6L290.0 539.5L296.8 538.0L297.6 536.0L298.0 532.9L300.0 530.7L302.2 530.0L298.0 528.9L296.0 525.5L292.0 515.2L290.0 513.2L285.0 510.0L283.3 508.0L282.6 504.0L283.7 490.0L283.3 488.0L278.0 483.3L275.1 478.0L274.0 477.0L268.0 475.4L264.0 475.8M66.0 325.4L68.0 326.9L70.7 330.0L74.0 335.1L77.4 338.0L78.6 342.0L82.0 346.6L86.0 348.8L98.0 352.2L103.9 356.0L104.6 358.0L103.6 366.0L104.0 368.0L107.6 372.0L111.1 374.0L116.0 378.2L118.0 376.5L124.0 364.7L126.0 362.6L130.0 360.5L134.0 359.9L138.0 360.3L144.0 358.7L148.0 358.9L150.0 358.5L156.0 354.2L164.0 351.2L168.0 347.6L170.0 346.7L172.0 347.3L172.7 348.0L173.7 350.0L174.3 354.0L176.0 355.1L178.6 354.0L180.2 352.0L182.0 347.8L184.0 345.6L186.0 344.6L194.0 342.5L208.0 340.4L212.0 340.3L218.0 337.9L222.0 337.3L230.0 337.5L231.9 338.0L236.0 341.1L240.0 342.2L260.0 341.5L262.0 341.8L268.0 345.1L272.3 346.0L274.0 347.4L276.0 350.3L278.0 351.9L280.0 352.4L284.0 351.7L290.0 349.8L294.0 349.8L298.0 351.5L302.0 354.7L304.0 355.4L308.0 355.8L312.0 354.7L316.0 352.0L318.0 351.4L324.0 352.7L328.0 352.7L336.0 356.1L338.9 358.0L340.1 360.0L340.9 364.0L342.0 366.2L350.0 369.4L354.0 370.0L356.0 370.8L361.3 378.0L366.5 382.0L367.5 384.0L367.0 390.0L367.4 396.0L366.0 399.4L364.0 400.8L362.0 400.4L359.6 398.0L356.4 392.0L354.0 386.4L352.0 385.0L340.0 381.8L336.0 377.7L334.0 376.2L332.0 375.4L330.0 375.5L326.0 377.2L322.0 377.7L320.0 378.7L318.8 380.0L316.0 385.3L314.0 387.4L312.0 387.8L304.0 387.7L300.0 388.5L296.0 390.8L293.0 394.0L290.2 400.0L290.3 402.0L294.0 406.5L300.5 410.0L302.8 412.0L294.0 414.5L284.0 418.4L281.3 420.0L278.0 422.9L276.0 423.6L274.0 423.0L266.0 418.6L262.0 417.5L260.7 416.0L261.6 408.0L261.0 402.0L258.0 391.0L256.0 385.8L254.0 382.8L248.0 385.5L242.0 386.3L240.0 387.1L236.0 389.1L230.0 390.9L222.0 394.8L214.0 397.6L206.0 398.3L204.0 399.6L203.6 402.0L203.9 404.0L205.3 412.0L207.1 418.0L207.3 420.0L206.7 424.0L212.7 436.0L213.2 438.0L211.9 440.0L207.4 444.0L206.0 446.0L206.3 448.0L213.5 458.0L214.5 460.0L214.2 462.0L212.0 466.8L206.9 474.0L205.0 480.0L201.0 486.0L199.1 494.0L198.8 502.0L199.4 508.0L198.7 510.0L187.6 526.0L186.4 530.0L185.5 540.0L184.0 541.7L180.0 543.2L179.6 544.0L179.9 548.0L179.4 550.0M774.0 399.4L774.0 392.9M66.0 506.2L68.0 505.3L70.0 505.0L70.4 508.0L66.0 508.2M131.4 550.0L131.4 544.0L130.0 542.0L127.4 540.0L122.0 537.4L114.0 535.3L112.0 534.3L103.5 528.0L102.0 526.2L100.0 522.3L99.5 520.0L100.0 510.0L99.5 508.0L98.0 506.0L92.0 503.4L84.0 501.8L81.8 500.0L80.8 496.0L79.3 494.0L76.0 491.0L74.0 492.7L72.0 496.5L70.0 498.8L66.0 499.2M338.0 550.0L336.0 544.8L334.2 544.0L338.0 543.3L354.0 541.9L378.0 541.1L388.0 540.1L414.0 540.3L416.0 539.9L420.2 538.0L424.2 532.0L423.1 530.0L420.2 528.0L418.3 526.0L420.0 523.9L420.7 522.0L420.8 520.0L420.0 517.7L418.0 515.6L416.0 514.9L414.0 514.9L411.1 516.0L409.9 518.0L411.0 522.0L410.6 524.0L406.0 525.4L404.0 525.1L402.3 524.0L401.0 520.0L400.0 518.7L396.0 516.9L392.5 514.0L391.5 512.0L391.5 510.0L392.0 508.4L393.6 506.0L393.2 504.0L388.4 500.0L382.7 498.0L380.6 496.0L375.7 488.0L375.1 484.0L373.6 480.0L369.7 474.0L371.1 470.0L372.5 464.0L375.2 458.0L375.4 450.0L378.0 448.1L386.0 448.2L387.7 446.0L388.2 440.0L388.0 439.5L384.0 437.8L382.0 435.7L378.3 424.0L378.2 422.0L379.2 420.0L382.0 418.4L386.0 418.2L388.0 419.0L390.0 421.2L394.0 428.2L396.0 429.7L398.0 429.9L402.0 428.5L405.7 426.0L408.0 421.9L410.0 419.6L422.0 420.0L430.6 424.0L438.0 425.7L448.0 423.8L454.0 421.2L456.4 422.0L458.4 424.0L460.4 428.0L462.0 429.7L464.0 430.3L468.0 430.2L476.0 431.3L484.0 429.7L488.0 429.5L494.0 430.6L502.0 434.7L503.4 436.0L505.4 440.0L508.0 441.9L510.0 441.9L514.0 438.6L516.0 438.2L522.0 439.7L524.0 439.4L530.0 436.8L534.0 436.3L542.0 437.2L550.0 440.0L554.0 439.9L564.0 437.9L572.0 438.0L574.0 437.6L582.0 433.6L588.0 428.4L590.0 427.5L596.0 427.0L604.0 428.6L614.0 427.0L624.0 426.0L626.0 425.9L630.0 426.9L632.0 426.9L640.0 424.1L650.0 421.6L654.0 421.3L666.0 422.9L672.0 424.8L696.0 440.3L702.0 443.2L708.0 445.5L712.0 446.2L722.0 445.5L732.0 445.8L738.0 444.9L748.0 440.9L756.0 438.6L764.0 437.5L768.0 436.1L770.0 435.2L772.0 433.1L774.0 428.7M751.2 550.0L750.0 547.7L746.0 546.2L744.9 548.0L744.8 550.0M230.0 354.3L228.3 356.0L228.1 358.0L229.6 360.0L234.0 361.4L236.0 360.7L236.7 360.0L236.9 358.0L236.0 356.7L232.0 354.7L230.0 354.3M402.0 387.1L404.0 386.5L406.0 387.1L407.0 388.0L407.8 390.0L407.2 392.0L402.0 397.8L398.0 400.8L392.0 410.2L390.0 412.3L388.0 412.1L381.8 406.0L381.8 404.0L383.6 398.0L386.0 395.8L394.0 393.1L400.6 388.0ZM314.0 411.9L320.0 411.6L328.0 413.1L331.2 414.0L331.8 416.0L330.2 418.0L328.0 419.1L324.0 419.2L320.0 417.1L316.5 414.0L316.0 412.9L312.8 412.0ZM358.0 415.6L364.0 415.9L367.0 418.0L366.0 419.2L364.0 419.6L358.0 419.7L356.0 419.5L353.4 418.0L356.5 416.0ZM242.0 433.1L244.0 432.7L245.3 434.0L245.7 436.0L245.4 438.0L244.0 440.5L232.0 448.4L230.0 448.9L228.6 448.0L229.0 446.0L231.6 442.0L235.3 438.0L240.3 434.0ZM734.0 534.8L732.7 538.0L731.9 542.0L736.0 542.9L740.0 543.0L741.0 542.0L738.0 536.1L736.0 534.3ZM425.3 550.0L430.0 549.5L441.5 550.0M484.6 550.0L488.2 550.0M500.7 550.0L504.0 549.4L510.0 549.5L514.0 549.0L518.0 550.0M168.0 418.8L170.0 418.0L172.0 418.3L174.0 419.3L183.7 426.0L185.0 428.0L185.1 430.0L183.9 440.0L180.0 444.3L177.6 448.0L176.0 449.5L174.0 450.6L170.0 450.9L167.4 450.0L164.6 448.0L162.9 446.0L160.9 440.0L157.9 436.0L157.7 432.0L158.5 430.0L166.5 420.0ZM644.0 442.7L646.0 442.4L650.0 445.2L656.0 445.4L666.0 446.8L668.5 448.0L670.3 450.0L670.8 452.0L668.0 456.0L666.0 457.4L664.0 456.9L660.0 452.6L658.0 451.1L654.0 449.9L650.0 447.6L644.0 446.8L642.9 446.0L642.9 444.0ZM678.0 453.3L684.0 454.3L690.0 454.6L696.0 456.9L710.0 456.8L714.0 457.3L718.0 458.8L726.0 464.3L728.0 465.2L738.0 466.8L742.0 466.2L746.0 463.5L752.0 462.0L756.0 459.8L760.0 456.4L762.0 455.3L764.0 455.4L766.0 456.6L767.0 458.0L767.7 460.0L767.8 462.0L766.8 466.0L763.1 470.0L760.0 471.9L754.0 473.3L750.0 476.4L748.0 477.0L746.0 476.9L742.0 475.2L738.0 474.6L736.0 474.8L733.0 476.0L733.2 480.0L732.6 482.0L728.0 486.3L727.1 488.0L726.4 494.0L724.0 495.2L722.0 494.6L720.0 493.0L714.0 486.0L710.0 482.6L706.0 478.0L701.9 472.0L700.0 465.6L696.0 463.4L694.0 463.1L688.0 463.3L677.7 460.0L676.0 458.0L675.6 456.0L676.2 454.0ZM452.0 473.9L454.0 472.8L456.0 472.9L458.6 474.0L460.0 476.0L458.6 478.0L456.0 478.7L454.0 477.9L452.3 476.0L452.0 474.0ZM498.0 488.4L500.0 488.2L506.0 489.9L510.2 490.0L512.0 490.8L512.9 492.0L512.9 494.0L511.8 498.0L511.9 500.0L514.0 501.9L528.0 503.1L530.0 504.1L534.0 509.0L536.0 510.1L542.0 512.0L544.0 513.8L544.8 516.0L545.0 520.0L544.2 522.0L536.0 528.6L534.0 529.5L532.0 529.4L526.0 527.6L524.0 526.5L520.0 522.4L518.0 521.3L502.0 514.5L501.3 514.0L500.2 512.0L500.5 504.0L499.6 498.0L499.0 496.0L496.6 492.0L496.1 490.0Z" fill="none" stroke="#000" stroke-opacity="0.7" stroke-width="0.7" stroke-dasharray="3 4"/>
<text x="441" y="114.9" font-size="18" text-anchor="middle" stroke="#000" stroke-width="0.35" transform="rotate(-80 441 108.5)">6</text><text x="478" y="124.4" font-size="18" text-anchor="middle" stroke="#000" stroke-width="0.35" transform="rotate(5 478 118)">8</text><text x="531" y="152.4" font-size="18" text-anchor="middle" stroke="#000" stroke-width="0.35" transform="rotate(-12 531 146)">12</text><text x="446" y="170.4" font-size="18" text-anchor="middle" stroke="#000" stroke-width="0.35" transform="rotate(5 446 164)">10</text><text x="488" y="162.4" font-size="18" text-anchor="middle" stroke="#000" stroke-width="0.35" transform="rotate(0 488 156)">12</text><text x="641" y="189.4" font-size="18" text-anchor="middle" stroke="#000" stroke-width="0.35" transform="rotate(45 641 183)">14</text><text x="691" y="225.4" font-size="18" text-anchor="middle" stroke="#000" stroke-width="0.35" transform="rotate(0 691 219)">16</text><text x="445" y="208.4" font-size="18" text-anchor="middle" stroke="#000" stroke-width="0.35" transform="rotate(8 445 202)">16</text><text x="347" y="184.4" font-size="18" text-anchor="middle" stroke="#000" stroke-width="0.35" transform="rotate(0 347 178)">8</text><text x="388" y="187.4" font-size="18" text-anchor="middle" stroke="#000" stroke-width="0.35" transform="rotate(10 388 181)">10</text><text x="307" y="198.4" font-size="18" text-anchor="middle" stroke="#000" stroke-width="0.35" transform="rotate(-20 307 192)">6</text><text x="256" y="242.4" font-size="18" text-anchor="middle" stroke="#000" stroke-width="0.35" transform="rotate(0 256 236)">20</text><text x="323" y="242.4" font-size="18" text-anchor="middle" stroke="#000" stroke-width="0.35" transform="rotate(0 323 236)">20</text><text x="517" y="252.4" font-size="18" text-anchor="middle" stroke="#000" stroke-width="0.35" transform="rotate(-25 517 246)">20</text><text x="670" y="263.4" font-size="18" text-anchor="middle" stroke="#000" stroke-width="0.35" transform="rotate(85 670 257)">18</text><text x="647" y="310.4" font-size="18" text-anchor="middle" stroke="#000" stroke-width="0.35" transform="rotate(75 647 304)">20</text><text x="258" y="284.4" font-size="18" text-anchor="middle" stroke="#000" stroke-width="0.35" transform="rotate(10 258 278)">22</text><text x="368" y="274.4" font-size="18" text-anchor="middle" stroke="#000" stroke-width="0.35" transform="rotate(0 368 268)">22</text><text x="304" y="302.4" font-size="18" text-anchor="middle" stroke="#000" stroke-width="0.35" transform="rotate(-65 304 296)">24</text><text x="411" y="294.4" font-size="18" text-anchor="middle" stroke="#000" stroke-width="0.35" transform="rotate(-5 411 288)">24</text><text x="614" y="366.4" font-size="18" text-anchor="middle" stroke="#000" stroke-width="0.35" transform="rotate(-5 614 360)">22</text><text x="649" y="405.4" font-size="18" text-anchor="middle" stroke="#000" stroke-width="0.35" transform="rotate(0 649 399)">24</text><text x="524" y="415.4" font-size="18" text-anchor="middle" stroke="#000" stroke-width="0.35" transform="rotate(15 524 409)">26</text><text x="239" y="327.4" font-size="18" text-anchor="middle" stroke="#000" stroke-width="0.35" transform="rotate(-15 239 321)">26</text><text x="181" y="330.4" font-size="18" text-anchor="middle" stroke="#000" stroke-width="0.35" transform="rotate(0 181 324)">26</text><text x="183" y="286.4" font-size="18" text-anchor="middle" stroke="#000" stroke-width="0.35" transform="rotate(60 183 280)">18</text><text x="488" y="471.4" font-size="18" text-anchor="middle" stroke="#000" stroke-width="0.35" transform="rotate(-10 488 465)">28</text><text x="659" y="477.4" font-size="18" text-anchor="middle" stroke="#000" stroke-width="0.35" transform="rotate(25 659 471)">28</text><text x="731" y="452.4" font-size="18" text-anchor="middle" stroke="#000" stroke-width="0.35" transform="rotate(-10 731 446)">26</text><text x="152" y="466.4" font-size="18" text-anchor="middle" stroke="#000" stroke-width="0.35" transform="rotate(5 152 460)">28</text><text x="185" y="508.4" font-size="18" text-anchor="middle" stroke="#000" stroke-width="0.35" transform="rotate(85 185 502)">28</text>
<path d="M70 92L367 92L367.5 95.5L369.5 100L370 103L374 101.5L378 102L379.5 106L380 111L378 113.5L374 115.5L370 117L364 118L359 119.5L355 122.5L350 124.5L340 126L324 125L312 125L304 126L302 129.4L296 132.6L288 136L282 140L276 145L272 149L273 149.6L280 145.5L286 141.5L294 137L302 133.5L308 132L312 134L313 139L311 142L314 143.5L316 147L318 151L320 154L324 156L328 156.6L334 157L340 156L344 153L347 149L349 151L350 155L346 157.4L340 159.4L334 162L328 164L322 167L316 170L311 171L308 167L314 163L320 160L322 157.4L320 155.5L315 157L309 160L304 161L298 164L292 166L286 169L280 172L277 175L275 179L279 181L280.5 184L277 186L268 188L260 190L252 193L251 194L250 199L247 202L243 205L240 209L238 215L240 221L243 223L241.5 229L240 232L235 234L227.5 239L220 242.5L212.5 247.5L206 252.5L202 257.5L200.5 264L201 270L203 277.5L205.5 285L207.5 292.5L208.5 299L206 302.5L202 304.5L199 300.5L196 294L193.5 288L191.5 282L190 276L187 271L182 267.5L177 267L172 266L166 264L160 265L154 264L148 265L144 266L145 270L147 273.5L143 272L139 269L136 268L128 270L120 268L112 268L106 269L100 273L94 278L90 282L88 287L88.6 293L88 299L86 305L86 313L87 321L90 329L94 337L99 344L106 348L114 348L122 347L128 346L133 342L136 337L138 332L140 329L146 327L154 326L160 327L161 334L158 341L155 347L154 353L152 358L150 363L148 366L154 366L162 365L170 365.6L178 367L182 370L185 373L186 380L185 388L184 396L185 402L188 407L192 410L198 413L204 414L209 411L214 409L220 407.5L226 409L231 410.5L232 414L231 420L234 414L238 406L242 403L248 400L254 397L260 395L266 392L269 391L272 392L271 396L269 399L273 398L277 396L280 393L282 396L280 397L286 398L292 400L296 402L302 403L308 404L312 406L318 406L324 405L330 404L334 402L340 402L340 408L341 411L344 417L350 420L356 424L362 429L368 434L374 436L382 437L390 438L398 441L404 445L410 450L414 456L416 463L420 467L419 471L416 476L420 478L426 477.4L431 481L434 483L440 485L448 488L456 491L460 495L468 496L476 497L484 499L492 501L500 503L504 504L510 510L516 513L520 513L524 518L525 526L524 534L522 540L518 547.5L222 547.5L220 543L217 537L214 531L210 524L206 518L202 512L201 507L205 503L209 499L211 495L208 493L205 488L206 482L209 478L210 474L214 470L219 465L224 460L228 454L231 450L229 440L228 428L227 425L228 421L225 416.5L220 413L216 414L210 416L207 420L208 424L209 428L206 426L200 423L196 421L190 418L184 414L178 410L172 407L169 405L168 400L164 394L160 389L158 384L148 385L140 383L136 381L128 380L124 376L118 370L112 366L106 364.4L98 366L90 366L80 362L70 359.6ZM380.5 116.2L377 121L374 126.5L377 127.5L381 128L383 131L388 131L395 131.5L393 135L392.5 138L391 142L393 144L395 142L397.5 140L399 142L400.5 145L399 148L396 150L393 148.5L392 146L390 144L388 144L384.5 143.5L381 145L378 144L374 143.5L368 143L360 143.5L355 143.5L356.5 141L359 138L362 134L365 129L368 125L370 121L374 117L378 116ZM322 130L330 129.4L337 132L336 134L328 133ZM320 150L328 152L334 153L333 155L326 154.6ZM176 324L182 321L188 318L196 316L204 316.5L212 319L220 322L228 326L236 330L243 333L250 335.5L249 337.5L240 337.5L232 337L226 338.5L223 335L216 331L209 327L203 324.5L198 323.5L192 325L186 325.5L180 326.5ZM256 341L260 338L268 339L276 340L282 343L289 346L286 348L280 348L274 349L271 353L266 350L260 347L254 349L250 348.6L257 346L258 343ZM223 348.6L228 347.4L234 349L236 351.4L230 352.6L224 351.4ZM300 348L309 347.6L310 350.6L301 351ZM339 403L343 402.5L343.5 407L339 407.5ZM221 302L224 301L227 305L228 310L225 311L222 307ZM701 92L700 95L701 98L700 102L702 105L700 109L704 111L700 113L701 116L706 116L712 114.6L718 112L724 109L727 104L729 98L729 92ZM750.8 92L751.4 98L749.7 102L745.2 103.8L741.2 105L739.5 108.3L741.2 110.5L742.9 112.2L739.5 113.3L735 114.5L733.4 115.6L737.3 116.7L741.8 117.5L746.3 117.5L750.8 115.6L752.5 115L749.7 117.8L745.2 119L740.7 120.7L738.4 121.2L736 123L733 126.8L737.3 125.7L744 124.6L750.8 123.2L757.6 122.5L764.3 122L770 121.8L770 97L766 96.5L763 95L761 92ZM770 131L764 130L760 128.6L759 133L758 136L750 135L742 137L738 139L740 141L748 142L754 145L758 149L760 153L763 158L764 161L763 167L761 173L754 174L744 173L732 172.4L720 171.4L714 172L708 174L707 177L709 181L710 187L709 193L708 199L706 205L709 208L708 213L709 218L716 218.6L722 218L728 221L731 225L738 225L744 223L752 219L760 215L766 211L770 208ZM770 226.5L766 228L762 230L756 231L750 230.5L742 230L737 229L733 226L729 227L727 232L724 237L720 241L716 243.5L710 248L705 254L702 260L702.4 266L699 272L692 277L684 281L678 285L672 291L668 297L663 305L659 313L655 321L652 329L655 334L657 341L656 349L657 357L655 365L652 371L650 375L653 379L654 385L657 391L662 395L666 399L669 405L674 411L678 417L682 424L688 428L694 433L700 437L706 442L714 445L720 446L728 444L736 442L744 440.6L750 442L758 443.4L764 441.4L770 439Z" fill="#d3d3d3" stroke="#111" stroke-width="0.7" stroke-linejoin="round"/>
<path d="M193 92L193 97L194 103L197 106L203 107L204 111L200 110L198 112L202 118L206 119L210 117L214 118L219 117L220 112L224 111L220 104L218 97L215 92ZM80 97.4L85 97L86 100L84 102L87 105L90 110L92 115L96 117L97 121L94 124.4L91.6 123L91 118L88 115L84 112L80 109L77 105L76 101ZM70 107L72.4 108L72 112L70 113ZM72 115L78 115L80 118L81 122L83.6 125L80 126L77 122L75 118L71 116.6ZM104.4 130L111 129.4L112 133L108 135.4L103.6 134.6ZM116 136L122 137.4L122.4 138.6L118 138ZM125 150L129 148L136 145L144 141L148 138L153 134.6L160 136L165 136.6L169 142L175 142L177 146L180 149L178 152L173 150L166 149L160 149L155 147.4L151 149L148 146L142 148L137 150L133 151.4L129 150.6ZM153.5 165L158.5 159L164 156.4L169 155.2L175 155L176 157L172.5 160L171.5 164.5L169 162.5L168.5 167L170 175L168 182L163.5 186L158.5 187L155 183L154 175L154.5 169ZM176 155L182 154L188 154.6L194 155L198 155.4L204 157L208 161L211 165L208 165L204 162L200 160L198 163L200 167L201 171L198 174L194 176L191 174L190 169L188 168L185 172L182 171L184 167L185 163L183 159L179 157ZM185.6 185L190 179L192 182L198 180L204 178.6L210 177.4L217 175L218 177.4L212 180.6L204 183L198 185L192 187.4L188 187ZM211 173L218 171L226 169L233 167L240 166L238 170L236 173L228 174L220 175L214 175.4Z" fill="#00ccff" stroke="#012" stroke-width="0.8" stroke-linejoin="round"/>
<path d="M268 400L267 405L266 409L269 414L272 413L273 408L271 404L270.4 400Z" fill="#ffc00c" stroke="#111" stroke-width="0.6"/>
<path d="M168 394L171 392.5L175 395L177 399L174 400.5L170 398Z" fill="#ffee00" stroke="#111" stroke-width="0.6"/>
<path d="M240.5 231.5L245 228L250 225L255 222L260 219L265 215.5L270 212.5L275 211L280 210.5L285 209.5L290 207L297 206L305 208L312.5 210.5L320 208.5L323 203L329 200L335 200L342.5 201L350 200.7L357.5 201L365 201.5L372 200.5L380 199.5L387.5 201L395 202.5L402.5 202.5L410 201L420 199.5" fill="none" stroke="#0b3a08" stroke-opacity="0.55" stroke-width="1.5" stroke-linejoin="round"/>
<path d="M417 191L421.5 189L425.5 181L430.5 171L437.5 164L447.5 158L457.5 155L467.5 153" fill="none" stroke="#234" stroke-opacity="0.5" stroke-width="1.6" stroke-linejoin="round"/>
<path d="M203.5 267L204 261.5L205.5 257L209.5 252.5L215.5 248L223.5 243.5L231.5 239L239.5 234" fill="none" stroke="#0b3a08" stroke-opacity="0.45" stroke-width="1.6" stroke-linejoin="round"/>
<g fill="none" stroke="#0d2a33" stroke-width="0.9" stroke-linejoin="round" stroke-linecap="round">
<path d="M240 230L239 225L236 220L234 214L235 208L237 203L236 201M234 214L230 212L229 207M236 220L232 219L230 216M239 225L234 225L232 223M240 230L235 230L232 229M241.5 200L243 204L242.5 208M237.5 226.5L238 222M235.5 217L236.5 212"/>
<path d="M257 162L256.6 166L256 169.5" stroke-width="1.1"/>
<path d="M365 97.5L358 99L350 101.5L345 103.2L343 101.2M350 101.5L347 99.5" stroke="#0a5a70" stroke-width="1.6"/>
<path d="M415 476L412 480L411 485L415 484L416 481L420 478M426 482L429 486L426 493L424 489L418 490L410 491" stroke-width="0.8"/>
<path d="M765 413l-2 3 3 2-2 3 3 3-1 4-3-1M767 419l2 4-1 5" stroke-width="0.8"/>
</g>
<path d="M154 347L148 351L140 352L133 353L130 356L134 360L137 364L130 365L127 370L124 373M148 351L147 358L150 362" fill="none" stroke="#777" stroke-width="0.7"/>
<g fill="#d3d3d3" stroke="#111" stroke-width="0.6">
<ellipse cx="220.5" cy="290.6" rx="2.6" ry="0.7"/><ellipse cx="229.8" cy="291.5" rx="0.8" ry="2.6"/><ellipse cx="236.6" cy="300.5" rx="0.7" ry="2.3" transform="rotate(-25 236.6 300.5)"/>
<ellipse cx="241.5" cy="307" rx="0.7" ry="2" transform="rotate(-40 241.5 307)"/><ellipse cx="244.5" cy="314.5" rx="0.7" ry="2.4" transform="rotate(-30 244.5 314.5)"/><ellipse cx="252" cy="320.5" rx="1.8" ry="0.8" transform="rotate(30 252 320.5)"/><ellipse cx="257" cy="329.3" rx="2" ry="1"/>
<circle cx="337.4" cy="357.3" r="0.9"/><ellipse cx="339.5" cy="363.6" rx="1.4" ry="1.1"/><circle cx="340.9" cy="369.2" r="0.9"/><ellipse cx="343" cy="374.8" rx="0.9" ry="1.3"/><circle cx="343" cy="379.7" r="0.8"/><circle cx="341.6" cy="384.6" r="0.7"/><circle cx="353.5" cy="384.6" r="0.8"/><circle cx="338" cy="392.3" r="0.7"/><ellipse cx="345" cy="398.6" rx="1" ry="0.6"/>
<ellipse cx="653.8" cy="278.9" rx="1.7" ry="1" transform="rotate(-30 653.8 278.9)"/><circle cx="660.8" cy="281" r="1.2"/><ellipse cx="672" cy="278.4" rx="0.8" ry="2.2" transform="rotate(25 672 278.4)"/><ellipse cx="675" cy="274" rx="0.7" ry="1.3" transform="rotate(30 675 274)"/><circle cx="644.7" cy="276" r="0.8"/><circle cx="648" cy="281" r="0.6"/>
<circle cx="604.8" cy="371.3" r="1"/><ellipse cx="594.5" cy="357.3" rx="1.2" ry="0.7"/><circle cx="610.4" cy="364.3" r="0.8"/><circle cx="599" cy="359.5" r="0.6"/><circle cx="601" cy="372" r="0.6"/><circle cx="610" cy="359.5" r="0.6"/>
<ellipse cx="591.5" cy="212.4" rx="1.7" ry="0.6"/><ellipse cx="579.6" cy="206" rx="0.9" ry="0.6"/><ellipse cx="572" cy="207.5" rx="1.3" ry="0.6"/><circle cx="551.6" cy="201" r="0.5"/>
<ellipse cx="651" cy="248" rx="1.3" ry="0.6"/><circle cx="316.4" cy="250.9" r="0.6"/>
<ellipse cx="132.5" cy="480.5" rx="1.3" ry="2.6" transform="rotate(20 132.5 480.5)"/><circle cx="137.9" cy="481.4" r="1"/><ellipse cx="144.2" cy="482.8" rx="1.2" ry="0.6"/><circle cx="135.5" cy="477.8" r="0.6"/>
</g>
<circle cx="203.8" cy="288.8" r="1.3" fill="#d8ee55" stroke="#111" stroke-width="0.6"/>
<g fill="#233"><circle cx="93" cy="239.4" r="0.9"/><circle cx="193.6" cy="241" r="0.8"/><circle cx="175.6" cy="261.6" r="0.8"/></g>

</g>
<path d="M140.5 92V547M210.5 92V547M280.5 92V547M350.5 92V547M420.5 92V547M490.5 92V547M560.5 92V547M630.5 92V547M700.5 92V547M70 477.5H770M70 407.5H770M70 337.5H770M70 267.5H770M70 197.5H770M70 127.5H770" stroke="#000" stroke-opacity="0.38" stroke-width="1" fill="none"/>
<rect x="70.5" y="92.5" width="700" height="455" fill="none" stroke="#000" stroke-width="1.2"/>
<path d="M70.5 78V92M70.5 547V562M140.5 78V92M140.5 547V562M210.5 78V92M210.5 547V562M280.5 78V92M280.5 547V562M350.5 78V92M350.5 547V562M420.5 78V92M420.5 547V562M490.5 78V92M490.5 547V562M560.5 78V92M560.5 547V562M630.5 78V92M630.5 547V562M700.5 78V92M700.5 547V562M770.5 78V92M770.5 547V562M54.5 547.5H70M770 547.5H786M54.5 477.5H70M770 477.5H786M54.5 407.5H70M770 407.5H786M54.5 337.5H70M770 337.5H786M54.5 267.5H70M770 267.5H786M54.5 197.5H70M770 197.5H786M54.5 127.5H70M770 127.5H786" stroke="#000" stroke-width="1.2" fill="none"/>
<text x="44" y="553.3" font-size="16.3" text-anchor="end">10S</text>
<text x="44" y="483.3" font-size="16.3" text-anchor="end">0</text>
<text x="44" y="413.3" font-size="16.3" text-anchor="end">10N</text>
<text x="44" y="343.3" font-size="16.3" text-anchor="end">20N</text>
<text x="44" y="273.3" font-size="16.3" text-anchor="end">30N</text>
<text x="44" y="203.3" font-size="16.3" text-anchor="end">40N</text>
<text x="44" y="133.3" font-size="16.3" text-anchor="end">50N</text>
<text x="69.8" y="587" font-size="16.3" text-anchor="middle">100W</text>
<text x="139.8" y="587" font-size="16.3" text-anchor="middle">90W</text>
<text x="209.8" y="587" font-size="16.3" text-anchor="middle">80W</text>
<text x="279.8" y="587" font-size="16.3" text-anchor="middle">70W</text>
<text x="349.8" y="587" font-size="16.3" text-anchor="middle">60W</text>
<text x="419.8" y="587" font-size="16.3" text-anchor="middle">50W</text>
<text x="489.8" y="587" font-size="16.3" text-anchor="middle">40W</text>
<text x="559.8" y="587" font-size="16.3" text-anchor="middle">30W</text>
<text x="629.8" y="587" font-size="16.3" text-anchor="middle">20W</text>
<text x="699.8" y="587" font-size="16.3" text-anchor="middle">10W</text>
<text x="769.8" y="587" font-size="16.3" text-anchor="middle">0</text>
<text x="419.5" y="75" font-size="20.45" font-weight="bold" text-anchor="middle">NWS National Hurricane Center (NCEP/NOAA)</text>
<text x="420" y="610.3" font-size="16.37" font-weight="bold" text-anchor="middle">Ocean Analysis - Reynolds Daily Sea Surface Temperature (C) - valid: 2026 - 02 - 21</text>
<text x="774.5" y="724" font-size="13.7" text-anchor="end">Data Source: National Climatic Data Center (NCDC/NOAA)</text>
<rect x="111.60" y="627.6" width="19.31" height="40.2" fill="#00ccff"/>
<rect x="130.86" y="627.6" width="19.31" height="40.2" fill="#1af8ff"/>
<rect x="150.12" y="627.6" width="19.31" height="40.2" fill="#33f8ff"/>
<rect x="169.39" y="627.6" width="19.31" height="40.2" fill="#4df9ff"/>
<rect x="188.65" y="627.6" width="19.31" height="40.2" fill="#70fbff"/>
<rect x="207.91" y="627.6" width="19.31" height="40.2" fill="#99ffff"/>
<rect x="227.17" y="627.6" width="19.31" height="40.2" fill="#88ffd8"/>
<rect x="246.44" y="627.6" width="19.31" height="40.2" fill="#66ff99"/>
<rect x="265.70" y="627.6" width="19.31" height="40.2" fill="#33ff55"/>
<rect x="284.96" y="627.6" width="19.31" height="40.2" fill="#11f722"/>
<rect x="304.23" y="627.6" width="19.31" height="40.2" fill="#1eee11"/>
<rect x="323.49" y="627.6" width="19.31" height="40.2" fill="#55ee11"/>
<rect x="342.75" y="627.6" width="19.31" height="40.2" fill="#77ee11"/>
<rect x="362.01" y="627.6" width="19.31" height="40.2" fill="#99f510"/>
<rect x="381.27" y="627.6" width="19.31" height="40.2" fill="#aaff00"/>
<rect x="400.54" y="627.6" width="19.31" height="40.2" fill="#ccff00"/>
<rect x="419.80" y="627.6" width="19.31" height="40.2" fill="#d5ff10"/>
<rect x="439.06" y="627.6" width="19.31" height="40.2" fill="#ddff10"/>
<rect x="458.32" y="627.6" width="19.31" height="40.2" fill="#eeff10"/>
<rect x="477.59" y="627.6" width="19.31" height="40.2" fill="#f8ff10"/>
<rect x="496.85" y="627.6" width="19.31" height="40.2" fill="#ffff00"/>
<rect x="516.11" y="627.6" width="19.31" height="40.2" fill="#ffee00"/>
<rect x="535.38" y="627.6" width="19.31" height="40.2" fill="#ffd21a"/>
<rect x="554.64" y="627.6" width="19.31" height="40.2" fill="#ffc00c"/>
<rect x="573.90" y="627.6" width="19.31" height="40.2" fill="#ffab0a"/>
<rect x="593.16" y="627.6" width="19.31" height="40.2" fill="#ff9a10"/>
<rect x="612.42" y="627.6" width="19.31" height="40.2" fill="#ff8800"/>
<rect x="631.69" y="627.6" width="19.31" height="40.2" fill="#ff7000"/>
<rect x="650.95" y="627.6" width="19.31" height="40.2" fill="#ff5800"/>
<rect x="670.21" y="627.6" width="19.31" height="40.2" fill="#ff4800"/>
<rect x="689.48" y="627.6" width="19.31" height="40.2" fill="#ff3000"/>
<rect x="708.74" y="627.6" width="19.31" height="40.2" fill="#ff1800"/>
<path d="M130.86 627.6V667.8M150.12 627.6V667.8M169.39 627.6V667.8M188.65 627.6V667.8M207.91 627.6V667.8M227.17 627.6V667.8M246.44 627.6V667.8M265.70 627.6V667.8M284.96 627.6V667.8M304.23 627.6V667.8M323.49 627.6V667.8M342.75 627.6V667.8M362.01 627.6V667.8M381.27 627.6V667.8M400.54 627.6V667.8M419.80 627.6V667.8M439.06 627.6V667.8M458.32 627.6V667.8M477.59 627.6V667.8M496.85 627.6V667.8M516.11 627.6V667.8M535.38 627.6V667.8M554.64 627.6V667.8M573.90 627.6V667.8M593.16 627.6V667.8M612.42 627.6V667.8M631.69 627.6V667.8M650.95 627.6V667.8M670.21 627.6V667.8M689.48 627.6V667.8M708.74 627.6V667.8" stroke="#000" stroke-opacity="0.85" stroke-width="0.6" fill="none"/>
<rect x="111.6" y="627.6" width="616.4" height="40.2" fill="none" stroke="#000" stroke-width="0.8"/>
<text x="131.1" y="695" font-size="20" text-anchor="middle">5</text>
<text x="227.4" y="695" font-size="20" text-anchor="middle">10</text>
<text x="323.7" y="695" font-size="20" text-anchor="middle">15</text>
<text x="420.0" y="695" font-size="20" text-anchor="middle">20</text>
<text x="516.3" y="695" font-size="20" text-anchor="middle">25</text>
<text x="612.6" y="695" font-size="20" text-anchor="middle">30</text>
<text x="708.9" y="695" font-size="20" text-anchor="middle">35</text>
<g id="noaa">
<defs>
<path id="noaaTop" d="M 14.5 48.45 A 27.2 27.2 0 1 1 66.5 48.45"/>
<path id="noaaBot" d="M 15.1 56.4 A 30 30 0 0 0 65.9 56.4"/>
<clipPath id="noaaClip"><circle cx="40.5" cy="41.3" r="25.6"/></clipPath>
</defs>
<text font-size="3.9" font-weight="bold" fill="#27348b" style="fill:#27348b" textLength="100" lengthAdjust="spacingAndGlyphs"><textPath href="#noaaTop" startOffset="0.5">NATIONAL OCEANIC AND ATMOSPHERIC ADMINISTRATION</textPath></text>
<text font-size="3.9" font-weight="bold" style="fill:#27348b" textLength="59" lengthAdjust="spacingAndGlyphs"><textPath href="#noaaBot" startOffset="0.5">U.S. DEPARTMENT OF COMMERCE</textPath></text>
<circle cx="65" cy="14.5" r="1.3" fill="none" stroke="#4a7" stroke-width="0.5"/>
<g clip-path="url(#noaaClip)">
<circle cx="40.5" cy="41.3" r="25.6" fill="#1f9bee"/>
<path d="M10 10H72V28.5C64 32 55 40 46 45.5C43 47 40 46.5 37.5 44.5C30 38.5 22 33 10 33Z" fill="#17177c"/>
<path d="M13 31.5C23 31.5 31 36.5 38.5 43.2C41 45.2 43.5 45 46.5 43C54 37.5 60 31 68 26.5L68 29.5C61 33.5 56 40 49.5 45.5C47 47.5 44 49.5 40.5 49.8C38 50 34.5 50.3 32 49.6C35 49 37.5 48 38.6 46.6C31 41 24 35.6 13 35.3Z" fill="#fff"/>
</g>
<text x="40" y="31.6" font-size="7.6" font-weight="bold" text-anchor="middle" style="fill:#fff" textLength="21" lengthAdjust="spacingAndGlyphs">NOAA</text>
</g>
<g id="nws">
<defs>
<path id="nwsArc" d="M 748.1 59.8 A 23 23 0 1 1 772.5 59.8"/>
<clipPath id="nwsClip"><circle cx="760.3" cy="40.3" r="19.3"/></clipPath>
</defs>
<text font-size="7.4" font-weight="bold" style="fill:#e3262e" textLength="119" lengthAdjust="spacing"><textPath href="#nwsArc" startOffset="0">NATIONAL WEATHER SERVICE</textPath></text>
<circle cx="752.9" cy="64.6" r="0.8" fill="#223399"/><circle cx="756.3" cy="65.2" r="0.8" fill="#223399"/>
<path d="M760.3 63.6l.6 1.5 1.6.1-1.25 1 .45 1.6-1.4-.9-1.4.9.45-1.6-1.25-1 1.6-.1z" fill="#e3262e"/>
<circle cx="764.3" cy="65.2" r="0.8" fill="#223399"/><circle cx="767.7" cy="64.6" r="0.8" fill="#223399"/>
<g clip-path="url(#nwsClip)">
<circle cx="760.3" cy="40.3" r="19.3" fill="#38a9e0"/>
<path d="M747 27l3-5M752 24l2-4M757 22.5l1-2M763 22.5l.5-2M768 23.5l1.5-2.5M772.5 26l2.5-3" stroke="#bfe3f5" stroke-width="1.6" fill="none"/>
<path d="M740 50C746 47.5 752 52 758 50C764 48 770 52 781 49V54.5C772 57 768 52.5 761 54.5C754 56.5 748 53 740 55Z" fill="#fff"/>
<path d="M739.5 41C738.5 37.5 741 34 744.5 34.2C745.5 31 750 30 752.5 31.5C755 28 761 27.5 764 30C768 28.5 773 30 774.5 33C778.5 32.5 782 35.5 781 39.5C783 42 781.5 45.5 778 46C776.5 49 772 49.5 769.5 48C766.5 51 760.5 51 757.5 48.5C753.5 50.5 748 50 746 47.5C742 48 738.5 45 739.5 41Z" fill="#1b23a8"/>
<path d="M745.5 23.5L751.5 24.5L759.5 34.5L757 35L765 43.5L762.3 44L773.5 55.5L761 46.2L763.5 45.8L754 37.8L756.6 37.3Z" fill="#fff" stroke="#1b23a8" stroke-width="0.5"/>
</g>
</g>

</svg></body></html>
